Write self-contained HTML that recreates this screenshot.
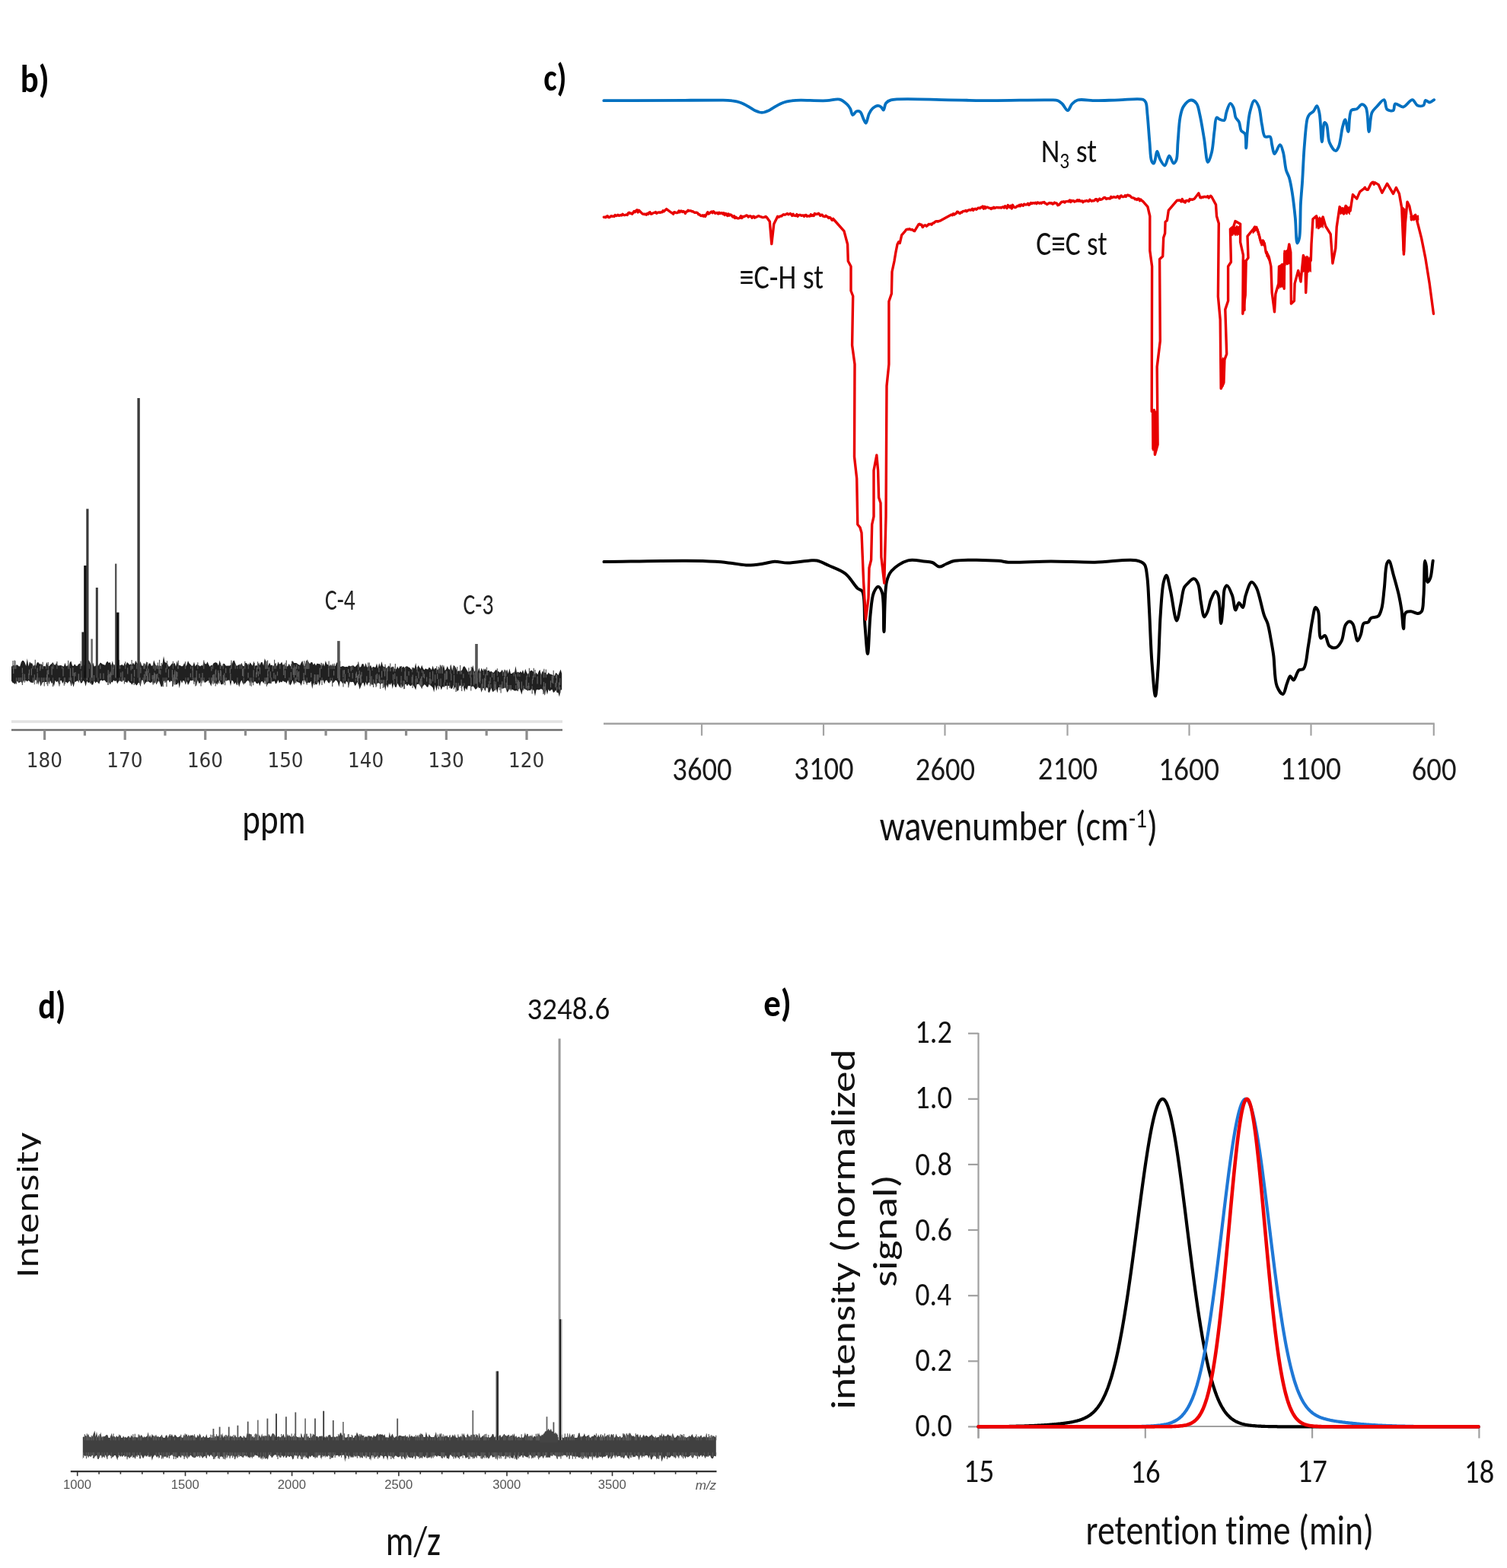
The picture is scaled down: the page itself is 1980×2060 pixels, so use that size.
<!DOCTYPE html>
<html><head><meta charset="utf-8"><title>Figure</title>
<style>html,body{margin:0;padding:0;background:#fff;}svg{display:block;}text{font-variant-ligatures:none;font-kerning:normal;}</style>
</head><body>
<svg width="1980" height="2060" viewBox="0 0 1980 2060">
<line x1="15" y1="948" x2="739" y2="948" stroke="#e2e2e2" stroke-width="3.5" stroke-linecap="butt"/>
<line x1="15" y1="959" x2="739" y2="959" stroke="#6e6e6e" stroke-width="2.6" stroke-linecap="butt"/>
<line x1="58.6" y1="959" x2="58.6" y2="972" stroke="#8c8c8c" stroke-width="3.2" stroke-linecap="butt"/>
<line x1="164.2" y1="959" x2="164.2" y2="972" stroke="#8c8c8c" stroke-width="3.2" stroke-linecap="butt"/>
<line x1="269.7" y1="959" x2="269.7" y2="972" stroke="#8c8c8c" stroke-width="3.2" stroke-linecap="butt"/>
<line x1="375.3" y1="959" x2="375.3" y2="972" stroke="#8c8c8c" stroke-width="3.2" stroke-linecap="butt"/>
<line x1="480.8" y1="959" x2="480.8" y2="972" stroke="#8c8c8c" stroke-width="3.2" stroke-linecap="butt"/>
<line x1="586.4" y1="959" x2="586.4" y2="972" stroke="#8c8c8c" stroke-width="3.2" stroke-linecap="butt"/>
<line x1="692" y1="959" x2="692" y2="972" stroke="#8c8c8c" stroke-width="3.2" stroke-linecap="butt"/>
<line x1="111.4" y1="959" x2="111.4" y2="966.5" stroke="#8c8c8c" stroke-width="3.2" stroke-linecap="butt"/>
<line x1="216.9" y1="959" x2="216.9" y2="966.5" stroke="#8c8c8c" stroke-width="3.2" stroke-linecap="butt"/>
<line x1="322.5" y1="959" x2="322.5" y2="966.5" stroke="#8c8c8c" stroke-width="3.2" stroke-linecap="butt"/>
<line x1="428.1" y1="959" x2="428.1" y2="966.5" stroke="#8c8c8c" stroke-width="3.2" stroke-linecap="butt"/>
<line x1="533.6" y1="959" x2="533.6" y2="966.5" stroke="#8c8c8c" stroke-width="3.2" stroke-linecap="butt"/>
<line x1="639.2" y1="959" x2="639.2" y2="966.5" stroke="#8c8c8c" stroke-width="3.2" stroke-linecap="butt"/>
<polygon points="15,875.7 16.6,874.5 18.2,873.8 19.8,875.4 21.4,873.6 23,873.6 24.6,875.3 26.2,875.6 27.8,870.1 29.4,867.7 31,868 32.6,870.4 34.2,875 35.8,865.1 37.4,875.5 39,869.3 40.6,871.6 42.2,871.2 43.8,875.6 45.4,873.2 47,875.2 48.6,870.6 50.2,870 51.8,872.1 53.4,873 55,872.5 56.6,875.4 58.2,874.9 59.8,875.4 61.4,869.7 63,874.8 64.6,875.2 66.2,873.3 67.8,871.9 69.4,870.1 71,873 72.6,873.8 74.2,870.4 75.8,874.3 77.4,874.6 79,873.9 80.6,874.2 82.2,874.9 83.8,875.7 85.4,870.8 87,875.6 88.6,874.3 90.2,875.7 91.8,870.3 93.4,868.6 95,874.4 96.6,875 98.2,872.2 99.8,874.8 101.4,875 103,872.7 104.6,871.4 106.2,875.6 107.8,874.6 109.4,871.6 111,875.3 112.6,875.2 114.2,870.9 115.8,866.8 117.4,868.4 119,872.1 120.6,875.2 122.2,870.5 123.8,875.4 125.4,875 127,871.1 128.6,875.5 130.2,873.1 131.8,870.4 133.4,871.6 135,872.8 136.6,873.3 138.2,874.1 139.8,869.9 141.4,868.8 143,871.3 144.6,869.8 146.2,874.8 147.8,868.3 149.4,875.6 151,872.5 152.6,873.4 154.2,871 155.8,870.1 157.4,874.5 159,873.8 160.6,873.1 162.2,875.1 163.8,870.8 165.4,874.1 167,869.9 168.6,871.6 170.2,873.4 171.8,872.2 173.4,873.8 175,870.5 176.6,873.6 178.2,867.8 179.8,870.9 181.4,872.3 183,875.6 184.6,868.8 186.2,874.6 187.8,874.7 189.4,872.1 191,875 192.6,868.8 194.2,875.4 195.8,871.5 197.4,871.5 199,874.9 200.6,874.2 202.2,867.2 203.8,872 205.4,875.6 207,873.8 208.6,875.4 210.2,874.5 211.8,875.6 213.4,872.8 215,862 216.6,870.1 218.2,870.8 219.8,871 221.4,875.5 223,875.5 224.6,873.4 226.2,871.3 227.8,872.8 229.4,870.4 231,875.7 232.6,868.5 234.2,873.8 235.8,874.1 237.4,874.6 239,875.4 240.6,874.6 242.2,870.7 243.8,875.7 245.4,873.4 247,868.1 248.6,871.6 250.2,872.9 251.8,874.8 253.4,874.8 255,869.4 256.6,875.5 258.2,873 259.8,873.6 261.4,874.2 263,875.4 264.6,874.1 266.2,874.8 267.8,869 269.4,872.1 271,872.5 272.6,869.3 274.2,873.2 275.8,875.7 277.4,873.8 279,874.6 280.6,871.3 282.2,870.5 283.8,870.3 285.4,871.2 287,874.6 288.6,867.5 290.2,873.2 291.8,875.5 293.4,871.7 295,872.1 296.6,874.5 298.2,874.8 299.8,874.4 301.4,874.8 303,873.6 304.6,873.2 306.2,868.6 307.8,867.5 309.4,872.1 311,875.1 312.6,874.1 314.2,873 315.8,874.8 317.4,870.8 319,875 320.6,875.2 322.2,871 323.8,871.1 325.4,873.5 327,874.1 328.6,870.2 330.2,872.4 331.8,874.8 333.4,868.4 335,875 336.6,874.1 338.2,874.8 339.8,871.8 341.4,873.8 343,870 344.6,870.1 346.2,874.5 347.8,865 349.4,869 351,875 352.6,874.1 354.2,870.4 355.8,874.3 357.4,873.6 359,875.5 360.6,872.2 362.2,871.4 363.8,875.5 365.4,869.3 367,873 368.6,872.1 370.2,869.4 371.8,874.1 373.4,872.5 375,875 376.6,875.5 378.2,875.3 379.8,871.7 381.4,875.5 383,873 384.6,868.1 386.2,871.1 387.8,871.1 389.4,871 391,872.3 392.6,873.3 394.2,873.9 395.8,870.6 397.4,867.9 399,874.7 400.6,875 402.2,867.7 403.8,869.2 405.4,870.1 407,872.3 408.6,869.9 410.2,869.9 411.8,873.5 413.4,871.3 415,874.5 416.6,871.6 418.2,872.3 419.8,872 421.4,874 423,875.3 424.6,871 426.2,875.5 427.8,867.9 429.4,872.5 431,873.2 432.6,875.6 434.2,873.3 435.8,874.9 437.4,872.9 439,875.1 440.6,875.1 442.2,870.5 443.8,870.6 445.4,875.1 447,876 448.6,875.8 450.2,874.9 451.8,875.4 453.4,876.3 455,875.7 456.6,876.2 458.2,874.5 459.8,875 461.4,875.8 463,874.3 464.6,874.4 466.2,876.3 467.8,875 469.4,873.1 471,870.8 472.6,876.8 474.2,875.9 475.8,872.1 477.4,872.3 479,876.5 480.6,871.1 482.2,876.8 483.8,875 485.4,876.3 487,873.8 488.6,877.8 490.2,875.7 491.8,876.5 493.4,876.7 495,871.4 496.6,878.2 498.2,871.3 499.8,876 501.4,869.1 503,874.9 504.6,876.2 506.2,875.6 507.8,878.3 509.4,876 511,874.2 512.6,877.8 514.2,876.8 515.8,875.4 517.4,878.6 519,878.5 520.6,879.2 522.2,875.4 523.8,878.7 525.4,875.2 527,875.8 528.6,876.9 530.2,875.4 531.8,877.7 533.4,875.6 535,875.3 536.6,876.4 538.2,877.1 539.8,879 541.4,879.9 543,876.4 544.6,878.5 546.2,871 547.8,880.2 549.4,874.1 551,876.5 552.6,878.8 554.2,873.8 555.8,878 557.4,880.3 559,878.3 560.6,878.9 562.2,879.5 563.8,876.4 565.4,878.1 567,880.3 568.6,874.6 570.2,879.8 571.8,877.4 573.4,878.5 575,880.6 576.6,876.5 578.2,878.9 579.8,873.7 581.4,879.4 583,873.4 584.6,881.1 586.2,879.2 587.8,875 589.4,879 591,879.7 592.6,872.6 594.2,881.3 595.8,874.1 597.4,874.9 599,877.5 600.6,882.3 602.2,881.2 603.8,881.5 605.4,881.5 607,880.6 608.6,875.9 610.2,875.2 611.8,877.5 613.4,880.3 615,882.9 616.6,882 618.2,881.5 619.8,878.8 621.4,873.9 623,882.5 624.6,880.6 626.2,882.8 627.8,882.6 629.4,877.2 631,883.5 632.6,877.6 634.2,881.1 635.8,881.2 637.4,878.2 639,881 640.6,881.4 642.2,880.4 643.8,882.8 645.4,881.7 647,883.2 648.6,883.7 650.2,881.4 651.8,879.6 653.4,882 655,881.9 656.6,883.4 658.2,882.3 659.8,879.8 661.4,883.4 663,879 664.6,884.1 666.2,879.5 667.8,884.9 669.4,878.2 671,885.1 672.6,885.1 674.2,883.3 675.8,885.5 677.4,874.9 679,883.8 680.6,882.5 682.2,883.9 683.8,881.9 685.4,884 687,880 688.6,885.5 690.2,878.8 691.8,882.9 693.4,886 695,883.8 696.6,881.6 698.2,880.5 699.8,881.7 701.4,882.7 703,886.1 704.6,883.6 706.2,886.5 707.8,881.9 709.4,879.7 711,887 712.6,881.6 714.2,883.8 715.8,883.6 717.4,884.1 719,886.7 720.6,883.6 722.2,885.6 723.8,885.7 725.4,886.5 727,887.2 728.6,887.7 730.2,883.8 731.8,885.1 733.4,887.2 735,883.3 736.6,879.6 738.2,885.1 738.2,906.3 736.6,906.6 735,915.4 733.4,910 731.8,910 730.2,906.5 728.6,909.1 727,910.1 725.4,905.8 723.8,906.5 722.2,908.2 720.6,905.5 719,912.5 717.4,906 715.8,913.7 714.2,909.4 712.6,906.1 711,905.1 709.4,905.8 707.8,906.6 706.2,905.8 704.6,906.5 703,914.8 701.4,906.8 699.8,906.2 698.2,905.1 696.6,907.5 695,906.5 693.4,907.7 691.8,906.2 690.2,905.8 688.6,904.5 687,905.4 685.4,912.5 683.8,907.6 682.2,903.6 680.6,908.3 679,906.9 677.4,907.5 675.8,907.4 674.2,906.2 672.6,905.8 671,906.1 669.4,904.2 667.8,908 666.2,909.7 664.6,903.7 663,903.4 661.4,904.4 659.8,904.4 658.2,902.7 656.6,902.9 655,902.9 653.4,910.6 651.8,904.1 650.2,906.1 648.6,908.6 647,908.7 645.4,903.6 643.8,908.2 642.2,910.6 640.6,904.1 639,903 637.4,908.3 635.8,904.2 634.2,903.8 632.6,909.7 631,903.6 629.4,904.2 627.8,901.8 626.2,905.1 624.6,905.8 623,903.3 621.4,901.3 619.8,902.5 618.2,901.3 616.6,901.2 615,901.1 613.4,906.8 611.8,903.6 610.2,908.9 608.6,900.6 607,903 605.4,900.7 603.8,900.8 602.2,906.6 600.6,908.6 599,902.2 597.4,903.8 595.8,900.1 594.2,904.6 592.6,905 591,901.2 589.4,901.1 587.8,901.2 586.2,901.1 584.6,901.4 583,902.2 581.4,902.3 579.8,906.5 578.2,901.4 576.6,901.3 575,900.7 573.4,907.7 571.8,899.5 570.2,909.6 568.6,903.3 567,901.8 565.4,900.3 563.8,898.8 562.2,903 560.6,902.3 559,899.9 557.4,899.3 555.8,901.6 554.2,904.4 552.6,901.7 551,898.7 549.4,898.7 547.8,899 546.2,906.4 544.6,903 543,900.5 541.4,899.3 539.8,901.6 538.2,900.5 536.6,898.5 535,901.4 533.4,898.5 531.8,899.4 530.2,899.4 528.6,903.7 527,898.6 525.4,903.5 523.8,900.4 522.2,897.8 520.6,903.1 519,902.5 517.4,897 515.8,905 514.2,896.9 512.6,899.9 511,897.9 509.4,903.7 507.8,898.7 506.2,908 504.6,896.4 503,897.9 501.4,897.6 499.8,899.8 498.2,897.6 496.6,897.3 495,898.4 493.4,900.1 491.8,897.1 490.2,900.2 488.6,898.7 487,898.8 485.4,896 483.8,897.3 482.2,900.7 480.6,895.8 479,902.6 477.4,896.8 475.8,897.8 474.2,901.4 472.6,905.7 471,898.9 469.4,895.9 467.8,899.7 466.2,901.1 464.6,896.5 463,895.7 461.4,896.2 459.8,895.5 458.2,901.4 456.6,896.2 455,894.9 453.4,899.3 451.8,896.5 450.2,898.2 448.6,895.8 447,894.6 445.4,902.6 443.8,896.4 442.2,894.1 440.6,893.7 439,896 437.4,897.6 435.8,894.3 434.2,893.9 432.6,897.8 431,896.5 429.4,893.6 427.8,893.9 426.2,898.7 424.6,893.6 423,893.7 421.4,893.4 419.8,901.3 418.2,895 416.6,899.1 415,899.6 413.4,897.8 411.8,897.8 410.2,905.1 408.6,894.8 407,897.3 405.4,896.4 403.8,897.6 402.2,897.7 400.6,893.5 399,893.4 397.4,894.6 395.8,901 394.2,897.4 392.6,896.5 391,896.3 389.4,894.9 387.8,896.4 386.2,899.7 384.6,893.5 383,897.8 381.4,900.5 379.8,897.1 378.2,893.5 376.6,897.9 375,895.8 373.4,895.8 371.8,894.3 370.2,896.6 368.6,895.5 367,897.4 365.4,893.3 363.8,897 362.2,898.7 360.6,894.6 359,895.6 357.4,895.2 355.8,897.7 354.2,897.8 352.6,897.4 351,900.3 349.4,896 347.8,894 346.2,898 344.6,894.9 343,895.8 341.4,901.3 339.8,896.7 338.2,898.4 336.6,897.6 335,894.9 333.4,896.6 331.8,897.5 330.2,894.1 328.6,899.4 327,894.7 325.4,893.9 323.8,895.3 322.2,897.8 320.6,898.1 319,898.1 317.4,893.5 315.8,896.6 314.2,902.8 312.6,896.2 311,900.5 309.4,896.3 307.8,899.2 306.2,894.9 304.6,893.5 303,901.2 301.4,893.7 299.8,893.5 298.2,894.5 296.6,894.2 295,895.4 293.4,897.3 291.8,899.5 290.2,899 288.6,894.1 287,895.6 285.4,899.7 283.8,897.1 282.2,897.9 280.6,894.6 279,894.2 277.4,901.8 275.8,897.5 274.2,894.1 272.6,894.6 271,895.7 269.4,897 267.8,894.3 266.2,893.8 264.6,894.3 263,897 261.4,898 259.8,893.6 258.2,900 256.6,895.7 255,895.6 253.4,893.5 251.8,894.4 250.2,893.8 248.6,897.2 247,899.9 245.4,894.9 243.8,899.7 242.2,894.7 240.6,894 239,897.8 237.4,893.6 235.8,904.3 234.2,896.5 232.6,899.4 231,898.9 229.4,893.9 227.8,897.9 226.2,895.4 224.6,894.2 223,896.7 221.4,893.5 219.8,894 218.2,897.3 216.6,893.5 215,895.5 213.4,901.6 211.8,902.5 210.2,898.1 208.6,893.6 207,896.4 205.4,899.4 203.8,893.7 202.2,899.1 200.6,894.7 199,896.6 197.4,897 195.8,896.1 194.2,895 192.6,895.4 191,897.4 189.4,899.7 187.8,893.5 186.2,893.5 184.6,902.2 183,896.8 181.4,897.6 179.8,900.4 178.2,899.5 176.6,897 175,896.9 173.4,899.7 171.8,897.2 170.2,896.6 168.6,893.9 167,897.3 165.4,895.7 163.8,896.2 162.2,893.4 160.6,894.6 159,895.4 157.4,893.4 155.8,895.4 154.2,898.4 152.6,893.9 151,895.2 149.4,893.6 147.8,896.4 146.2,896 144.6,899.4 143,894.7 141.4,896.1 139.8,896.7 138.2,894.6 136.6,893.3 135,894.7 133.4,893.4 131.8,893.9 130.2,898.7 128.6,896.6 127,895.6 125.4,897.4 123.8,894.5 122.2,899.4 120.6,899.8 119,896.6 117.4,896.5 115.8,896.9 114.2,894.8 112.6,901.7 111,895.8 109.4,894.1 107.8,896.9 106.2,897.7 104.6,893.6 103,895.5 101.4,894.2 99.8,895.4 98.2,895.9 96.6,902.7 95,897.1 93.4,901.8 91.8,894.8 90.2,895.8 88.6,897.7 87,896.1 85.4,896 83.8,895.2 82.2,898 80.6,893.8 79,894.6 77.4,899.7 75.8,894.8 74.2,896.2 72.6,893.7 71,901.7 69.4,896.6 67.8,898.1 66.2,894.1 64.6,898.3 63,895.2 61.4,896.1 59.8,896.1 58.2,896.2 56.6,895.7 55,898.3 53.4,901.7 51.8,893.8 50.2,899.8 48.6,893.6 47,893.6 45.4,893.8 43.8,897 42.2,896.7 40.6,896.7 39,895.3 37.4,893.8 35.8,895.6 34.2,894.1 32.6,894.4 31,894.3 29.4,898.7 27.8,895.2 26.2,896.2 24.6,897.2 23,894.8 21.4,895.9 19.8,898.9 18.2,897.5 16.6,897 15,894.6" fill="#202020"/>
<line x1="20.9" y1="873.9" x2="20.9" y2="878.7" stroke="#555" stroke-width="1.2" stroke-linecap="butt"/>
<line x1="530.8" y1="894.4" x2="530.8" y2="905.2" stroke="#555" stroke-width="1.2" stroke-linecap="butt"/>
<line x1="664.2" y1="882.6" x2="664.2" y2="888.2" stroke="#555" stroke-width="1.2" stroke-linecap="butt"/>
<line x1="694.9" y1="901" x2="694.9" y2="904.9" stroke="#555" stroke-width="1.2" stroke-linecap="butt"/>
<line x1="48.2" y1="890.3" x2="48.2" y2="898.5" stroke="#555" stroke-width="1.2" stroke-linecap="butt"/>
<line x1="54.5" y1="890.3" x2="54.5" y2="897.8" stroke="#555" stroke-width="1.2" stroke-linecap="butt"/>
<line x1="330.2" y1="890.3" x2="330.2" y2="901.8" stroke="#555" stroke-width="1.2" stroke-linecap="butt"/>
<line x1="105.5" y1="872" x2="105.5" y2="878.7" stroke="#555" stroke-width="1.2" stroke-linecap="butt"/>
<line x1="618.8" y1="897.9" x2="618.8" y2="907.5" stroke="#555" stroke-width="1.2" stroke-linecap="butt"/>
<line x1="432.1" y1="868.4" x2="432.1" y2="878.8" stroke="#555" stroke-width="1.2" stroke-linecap="butt"/>
<line x1="25.2" y1="890.3" x2="25.2" y2="895" stroke="#555" stroke-width="1.2" stroke-linecap="butt"/>
<line x1="356.1" y1="890.3" x2="356.1" y2="898.2" stroke="#555" stroke-width="1.2" stroke-linecap="butt"/>
<line x1="56.2" y1="869.8" x2="56.2" y2="878.7" stroke="#555" stroke-width="1.2" stroke-linecap="butt"/>
<line x1="56.1" y1="875.5" x2="56.1" y2="878.7" stroke="#555" stroke-width="1.2" stroke-linecap="butt"/>
<line x1="406" y1="871.2" x2="406" y2="878.7" stroke="#555" stroke-width="1.2" stroke-linecap="butt"/>
<line x1="229.2" y1="890.3" x2="229.2" y2="894.9" stroke="#555" stroke-width="1.2" stroke-linecap="butt"/>
<line x1="671.4" y1="900.1" x2="671.4" y2="907.5" stroke="#555" stroke-width="1.2" stroke-linecap="butt"/>
<line x1="351.9" y1="890.3" x2="351.9" y2="895.9" stroke="#555" stroke-width="1.2" stroke-linecap="butt"/>
<line x1="596.4" y1="876" x2="596.4" y2="885.4" stroke="#555" stroke-width="1.2" stroke-linecap="butt"/>
<line x1="256.8" y1="890.3" x2="256.8" y2="901.6" stroke="#555" stroke-width="1.2" stroke-linecap="butt"/>
<line x1="54.3" y1="890.3" x2="54.3" y2="898.2" stroke="#555" stroke-width="1.2" stroke-linecap="butt"/>
<line x1="289.4" y1="875.1" x2="289.4" y2="878.7" stroke="#555" stroke-width="1.2" stroke-linecap="butt"/>
<line x1="202.1" y1="890.3" x2="202.1" y2="894.2" stroke="#555" stroke-width="1.2" stroke-linecap="butt"/>
<line x1="499.7" y1="893.1" x2="499.7" y2="904.9" stroke="#555" stroke-width="1.2" stroke-linecap="butt"/>
<line x1="658.8" y1="899.6" x2="658.8" y2="904.2" stroke="#555" stroke-width="1.2" stroke-linecap="butt"/>
<line x1="717.4" y1="879.5" x2="717.4" y2="890.3" stroke="#555" stroke-width="1.2" stroke-linecap="butt"/>
<line x1="650.6" y1="899.2" x2="650.6" y2="906.9" stroke="#555" stroke-width="1.2" stroke-linecap="butt"/>
<line x1="160.1" y1="890.3" x2="160.1" y2="895.9" stroke="#555" stroke-width="1.2" stroke-linecap="butt"/>
<line x1="106.1" y1="868.5" x2="106.1" y2="878.7" stroke="#555" stroke-width="1.2" stroke-linecap="butt"/>
<line x1="682.8" y1="885.8" x2="682.8" y2="888.9" stroke="#555" stroke-width="1.2" stroke-linecap="butt"/>
<line x1="205.9" y1="874" x2="205.9" y2="878.7" stroke="#555" stroke-width="1.2" stroke-linecap="butt"/>
<line x1="437.3" y1="872.1" x2="437.3" y2="879" stroke="#555" stroke-width="1.2" stroke-linecap="butt"/>
<line x1="163.9" y1="890.3" x2="163.9" y2="895.9" stroke="#555" stroke-width="1.2" stroke-linecap="butt"/>
<line x1="304" y1="867.6" x2="304" y2="878.7" stroke="#555" stroke-width="1.2" stroke-linecap="butt"/>
<line x1="193.4" y1="890.3" x2="193.4" y2="896.1" stroke="#555" stroke-width="1.2" stroke-linecap="butt"/>
<line x1="662.6" y1="880.6" x2="662.6" y2="888.1" stroke="#555" stroke-width="1.2" stroke-linecap="butt"/>
<line x1="650.1" y1="899.2" x2="650.1" y2="903.1" stroke="#555" stroke-width="1.2" stroke-linecap="butt"/>
<line x1="114.1" y1="890.3" x2="114.1" y2="893.6" stroke="#555" stroke-width="1.2" stroke-linecap="butt"/>
<line x1="232.8" y1="890.3" x2="232.8" y2="893.4" stroke="#555" stroke-width="1.2" stroke-linecap="butt"/>
<line x1="131.9" y1="874.9" x2="131.9" y2="878.7" stroke="#555" stroke-width="1.2" stroke-linecap="butt"/>
<line x1="356.7" y1="890.3" x2="356.7" y2="896.2" stroke="#555" stroke-width="1.2" stroke-linecap="butt"/>
<line x1="93.7" y1="890.3" x2="93.7" y2="900.5" stroke="#555" stroke-width="1.2" stroke-linecap="butt"/>
<line x1="422" y1="870.8" x2="422" y2="878.7" stroke="#555" stroke-width="1.2" stroke-linecap="butt"/>
<line x1="470.8" y1="869.6" x2="470.8" y2="880.3" stroke="#555" stroke-width="1.2" stroke-linecap="butt"/>
<line x1="297.4" y1="890.3" x2="297.4" y2="894.3" stroke="#555" stroke-width="1.2" stroke-linecap="butt"/>
<line x1="423" y1="890.3" x2="423" y2="899.9" stroke="#555" stroke-width="1.2" stroke-linecap="butt"/>
<line x1="201.1" y1="890.3" x2="201.1" y2="899.8" stroke="#555" stroke-width="1.2" stroke-linecap="butt"/>
<line x1="321.8" y1="868.7" x2="321.8" y2="878.7" stroke="#555" stroke-width="1.2" stroke-linecap="butt"/>
<line x1="142.2" y1="890.3" x2="142.2" y2="899.8" stroke="#555" stroke-width="1.2" stroke-linecap="butt"/>
<line x1="388.8" y1="890.3" x2="388.8" y2="897.5" stroke="#555" stroke-width="1.2" stroke-linecap="butt"/>
<line x1="351.6" y1="867.4" x2="351.6" y2="878.7" stroke="#555" stroke-width="1.2" stroke-linecap="butt"/>
<line x1="244" y1="890.3" x2="244" y2="897" stroke="#555" stroke-width="1.2" stroke-linecap="butt"/>
<line x1="692.2" y1="900.9" x2="692.2" y2="904.2" stroke="#555" stroke-width="1.2" stroke-linecap="butt"/>
<line x1="735" y1="902.6" x2="735" y2="906.3" stroke="#555" stroke-width="1.2" stroke-linecap="butt"/>
<line x1="374.9" y1="870.8" x2="374.9" y2="878.7" stroke="#555" stroke-width="1.2" stroke-linecap="butt"/>
<line x1="149.3" y1="873" x2="149.3" y2="878.7" stroke="#555" stroke-width="1.2" stroke-linecap="butt"/>
<line x1="451" y1="891.1" x2="451" y2="902.6" stroke="#555" stroke-width="1.2" stroke-linecap="butt"/>
<line x1="253.1" y1="890.3" x2="253.1" y2="893.4" stroke="#555" stroke-width="1.2" stroke-linecap="butt"/>
<line x1="284.4" y1="890.3" x2="284.4" y2="894.4" stroke="#555" stroke-width="1.2" stroke-linecap="butt"/>
<line x1="644.8" y1="899" x2="644.8" y2="904.6" stroke="#555" stroke-width="1.2" stroke-linecap="butt"/>
<line x1="578.4" y1="873.6" x2="578.4" y2="884.7" stroke="#555" stroke-width="1.2" stroke-linecap="butt"/>
<line x1="74.9" y1="868.9" x2="74.9" y2="878.7" stroke="#555" stroke-width="1.2" stroke-linecap="butt"/>
<line x1="340.2" y1="871.1" x2="340.2" y2="878.7" stroke="#555" stroke-width="1.2" stroke-linecap="butt"/>
<line x1="230" y1="890.3" x2="230" y2="900" stroke="#555" stroke-width="1.2" stroke-linecap="butt"/>
<line x1="635.4" y1="878.7" x2="635.4" y2="887" stroke="#555" stroke-width="1.2" stroke-linecap="butt"/>
<line x1="727.2" y1="880.8" x2="727.2" y2="890.7" stroke="#555" stroke-width="1.2" stroke-linecap="butt"/>
<line x1="85.4" y1="890.3" x2="85.4" y2="898.5" stroke="#555" stroke-width="1.2" stroke-linecap="butt"/>
<line x1="658.1" y1="899.5" x2="658.1" y2="910.4" stroke="#555" stroke-width="1.2" stroke-linecap="butt"/>
<line x1="56.5" y1="890.3" x2="56.5" y2="895.1" stroke="#555" stroke-width="1.2" stroke-linecap="butt"/>
<line x1="207.4" y1="870.4" x2="207.4" y2="878.7" stroke="#555" stroke-width="1.2" stroke-linecap="butt"/>
<line x1="469.6" y1="891.9" x2="469.6" y2="895" stroke="#555" stroke-width="1.2" stroke-linecap="butt"/>
<line x1="155" y1="868.3" x2="155" y2="878.7" stroke="#555" stroke-width="1.2" stroke-linecap="butt"/>
<line x1="413.1" y1="890.3" x2="413.1" y2="900.1" stroke="#555" stroke-width="1.2" stroke-linecap="butt"/>
<line x1="489.3" y1="877.3" x2="489.3" y2="881.1" stroke="#555" stroke-width="1.2" stroke-linecap="butt"/>
<line x1="349.7" y1="890.3" x2="349.7" y2="898.7" stroke="#555" stroke-width="1.2" stroke-linecap="butt"/>
<line x1="53.6" y1="872.2" x2="53.6" y2="878.7" stroke="#555" stroke-width="1.2" stroke-linecap="butt"/>
<line x1="436.7" y1="890.6" x2="436.7" y2="902.1" stroke="#555" stroke-width="1.2" stroke-linecap="butt"/>
<line x1="259.8" y1="870.2" x2="259.8" y2="878.7" stroke="#555" stroke-width="1.2" stroke-linecap="butt"/>
<line x1="656.7" y1="899.5" x2="656.7" y2="906.7" stroke="#555" stroke-width="1.2" stroke-linecap="butt"/>
<line x1="604.7" y1="874.1" x2="604.7" y2="885.8" stroke="#555" stroke-width="1.2" stroke-linecap="butt"/>
<line x1="219.5" y1="868.2" x2="219.5" y2="878.7" stroke="#555" stroke-width="1.2" stroke-linecap="butt"/>
<line x1="230.2" y1="890.3" x2="230.2" y2="898.8" stroke="#555" stroke-width="1.2" stroke-linecap="butt"/>
<line x1="383.5" y1="868.6" x2="383.5" y2="878.7" stroke="#555" stroke-width="1.2" stroke-linecap="butt"/>
<line x1="62.7" y1="890.3" x2="62.7" y2="901.2" stroke="#555" stroke-width="1.2" stroke-linecap="butt"/>
<line x1="234.3" y1="867.7" x2="234.3" y2="878.7" stroke="#555" stroke-width="1.2" stroke-linecap="butt"/>
<line x1="362.4" y1="871.2" x2="362.4" y2="878.7" stroke="#555" stroke-width="1.2" stroke-linecap="butt"/>
<line x1="193.7" y1="869.9" x2="193.7" y2="878.7" stroke="#555" stroke-width="1.2" stroke-linecap="butt"/>
<line x1="677.7" y1="900.3" x2="677.7" y2="904.8" stroke="#555" stroke-width="1.2" stroke-linecap="butt"/>
<line x1="360.6" y1="866.8" x2="360.6" y2="878.7" stroke="#555" stroke-width="1.2" stroke-linecap="butt"/>
<line x1="77.9" y1="890.3" x2="77.9" y2="901.5" stroke="#555" stroke-width="1.2" stroke-linecap="butt"/>
<line x1="303.8" y1="870.7" x2="303.8" y2="878.7" stroke="#555" stroke-width="1.2" stroke-linecap="butt"/>
<line x1="246.7" y1="890.3" x2="246.7" y2="894.1" stroke="#555" stroke-width="1.2" stroke-linecap="butt"/>
<line x1="164.7" y1="869.3" x2="164.7" y2="878.7" stroke="#555" stroke-width="1.2" stroke-linecap="butt"/>
<line x1="227.2" y1="890.3" x2="227.2" y2="901.3" stroke="#555" stroke-width="1.2" stroke-linecap="butt"/>
<line x1="692.9" y1="886.3" x2="692.9" y2="889.3" stroke="#555" stroke-width="1.2" stroke-linecap="butt"/>
<line x1="295.6" y1="890.3" x2="295.6" y2="900.2" stroke="#555" stroke-width="1.2" stroke-linecap="butt"/>
<line x1="58.2" y1="890.3" x2="58.2" y2="901.6" stroke="#555" stroke-width="1.2" stroke-linecap="butt"/>
<line x1="715.6" y1="901.9" x2="715.6" y2="912.6" stroke="#555" stroke-width="1.2" stroke-linecap="butt"/>
<line x1="624.4" y1="882.7" x2="624.4" y2="886.6" stroke="#555" stroke-width="1.2" stroke-linecap="butt"/>
<line x1="541.7" y1="876.8" x2="541.7" y2="883.2" stroke="#555" stroke-width="1.2" stroke-linecap="butt"/>
<line x1="735.9" y1="902.7" x2="735.9" y2="910.4" stroke="#555" stroke-width="1.2" stroke-linecap="butt"/>
<line x1="701.3" y1="877.7" x2="701.3" y2="889.7" stroke="#555" stroke-width="1.2" stroke-linecap="butt"/>
<line x1="675.3" y1="882.7" x2="675.3" y2="888.6" stroke="#555" stroke-width="1.2" stroke-linecap="butt"/>
<line x1="106.6" y1="890.3" x2="106.6" y2="895" stroke="#555" stroke-width="1.2" stroke-linecap="butt"/>
<line x1="21.5" y1="890.3" x2="21.5" y2="898.7" stroke="#555" stroke-width="1.2" stroke-linecap="butt"/>
<line x1="501.4" y1="893.2" x2="501.4" y2="896.6" stroke="#555" stroke-width="1.2" stroke-linecap="butt"/>
<line x1="81.5" y1="875.2" x2="81.5" y2="878.7" stroke="#555" stroke-width="1.2" stroke-linecap="butt"/>
<line x1="380.1" y1="890.3" x2="380.1" y2="899.2" stroke="#555" stroke-width="1.2" stroke-linecap="butt"/>
<line x1="461.5" y1="874.8" x2="461.5" y2="880" stroke="#555" stroke-width="1.2" stroke-linecap="butt"/>
<line x1="664.8" y1="880.4" x2="664.8" y2="888.2" stroke="#555" stroke-width="1.2" stroke-linecap="butt"/>
<line x1="51.2" y1="890.3" x2="51.2" y2="894.8" stroke="#555" stroke-width="1.2" stroke-linecap="butt"/>
<line x1="311.9" y1="890.3" x2="311.9" y2="899.8" stroke="#555" stroke-width="1.2" stroke-linecap="butt"/>
<line x1="693.7" y1="901" x2="693.7" y2="907.1" stroke="#555" stroke-width="1.2" stroke-linecap="butt"/>
<line x1="69.5" y1="890.3" x2="69.5" y2="902.1" stroke="#555" stroke-width="1.2" stroke-linecap="butt"/>
<line x1="27.3" y1="890.3" x2="27.3" y2="894.9" stroke="#555" stroke-width="1.2" stroke-linecap="butt"/>
<line x1="348" y1="890.3" x2="348" y2="898.8" stroke="#555" stroke-width="1.2" stroke-linecap="butt"/>
<line x1="731.4" y1="902.5" x2="731.4" y2="909" stroke="#555" stroke-width="1.2" stroke-linecap="butt"/>
<line x1="532.7" y1="876.1" x2="532.7" y2="882.9" stroke="#555" stroke-width="1.2" stroke-linecap="butt"/>
<line x1="279.7" y1="873.2" x2="279.7" y2="878.7" stroke="#555" stroke-width="1.2" stroke-linecap="butt"/>
<line x1="190.3" y1="871.7" x2="190.3" y2="878.7" stroke="#555" stroke-width="1.2" stroke-linecap="butt"/>
<line x1="227.3" y1="890.3" x2="227.3" y2="900.9" stroke="#555" stroke-width="1.2" stroke-linecap="butt"/>
<line x1="264" y1="890.3" x2="264" y2="901.4" stroke="#555" stroke-width="1.2" stroke-linecap="butt"/>
<line x1="275" y1="890.3" x2="275" y2="897.3" stroke="#555" stroke-width="1.2" stroke-linecap="butt"/>
<line x1="485.8" y1="892.6" x2="485.8" y2="896.8" stroke="#555" stroke-width="1.2" stroke-linecap="butt"/>
<line x1="713.9" y1="901.8" x2="713.9" y2="911.9" stroke="#555" stroke-width="1.2" stroke-linecap="butt"/>
<line x1="474.8" y1="892.1" x2="474.8" y2="898" stroke="#555" stroke-width="1.2" stroke-linecap="butt"/>
<line x1="527.6" y1="875.1" x2="527.6" y2="882.6" stroke="#555" stroke-width="1.2" stroke-linecap="butt"/>
<line x1="508.4" y1="878.3" x2="508.4" y2="881.9" stroke="#555" stroke-width="1.2" stroke-linecap="butt"/>
<line x1="587.6" y1="896.7" x2="587.6" y2="905.7" stroke="#555" stroke-width="1.2" stroke-linecap="butt"/>
<line x1="247.7" y1="890.3" x2="247.7" y2="894.1" stroke="#555" stroke-width="1.2" stroke-linecap="butt"/>
<line x1="494.7" y1="892.9" x2="494.7" y2="901.5" stroke="#555" stroke-width="1.2" stroke-linecap="butt"/>
<line x1="338.6" y1="869.2" x2="338.6" y2="878.7" stroke="#555" stroke-width="1.2" stroke-linecap="butt"/>
<line x1="351" y1="890.3" x2="351" y2="896.6" stroke="#555" stroke-width="1.2" stroke-linecap="butt"/>
<line x1="78.6" y1="890.3" x2="78.6" y2="898.9" stroke="#555" stroke-width="1.2" stroke-linecap="butt"/>
<line x1="682.4" y1="900.5" x2="682.4" y2="904" stroke="#555" stroke-width="1.2" stroke-linecap="butt"/>
<line x1="573.8" y1="875.2" x2="573.8" y2="884.5" stroke="#555" stroke-width="1.2" stroke-linecap="butt"/>
<line x1="289.7" y1="871.3" x2="289.7" y2="878.7" stroke="#555" stroke-width="1.2" stroke-linecap="butt"/>
<line x1="399.1" y1="890.3" x2="399.1" y2="899" stroke="#555" stroke-width="1.2" stroke-linecap="butt"/>
<line x1="506.1" y1="872.7" x2="506.1" y2="881.8" stroke="#555" stroke-width="1.2" stroke-linecap="butt"/>
<line x1="265.1" y1="890.3" x2="265.1" y2="897.4" stroke="#555" stroke-width="1.2" stroke-linecap="butt"/>
<line x1="422.5" y1="871.2" x2="422.5" y2="878.7" stroke="#555" stroke-width="1.2" stroke-linecap="butt"/>
<line x1="174.3" y1="875" x2="174.3" y2="878.7" stroke="#555" stroke-width="1.2" stroke-linecap="butt"/>
<line x1="490.6" y1="892.8" x2="490.6" y2="898.9" stroke="#555" stroke-width="1.2" stroke-linecap="butt"/>
<line x1="91.1" y1="890.3" x2="91.1" y2="894.4" stroke="#555" stroke-width="1.2" stroke-linecap="butt"/>
<line x1="660.5" y1="881.8" x2="660.5" y2="888" stroke="#555" stroke-width="1.2" stroke-linecap="butt"/>
<line x1="373.1" y1="872.8" x2="373.1" y2="878.7" stroke="#555" stroke-width="1.2" stroke-linecap="butt"/>
<line x1="214.3" y1="890.3" x2="214.3" y2="902.2" stroke="#555" stroke-width="1.2" stroke-linecap="butt"/>
<line x1="277.7" y1="890.3" x2="277.7" y2="894.6" stroke="#555" stroke-width="1.2" stroke-linecap="butt"/>
<line x1="434.9" y1="873.3" x2="434.9" y2="878.9" stroke="#555" stroke-width="1.2" stroke-linecap="butt"/>
<line x1="609.9" y1="897.6" x2="609.9" y2="901.8" stroke="#555" stroke-width="1.2" stroke-linecap="butt"/>
<line x1="226.7" y1="890.3" x2="226.7" y2="902.2" stroke="#555" stroke-width="1.2" stroke-linecap="butt"/>
<line x1="457.8" y1="891.4" x2="457.8" y2="903.3" stroke="#555" stroke-width="1.2" stroke-linecap="butt"/>
<line x1="551.2" y1="895.2" x2="551.2" y2="900.2" stroke="#555" stroke-width="1.2" stroke-linecap="butt"/>
<line x1="283.2" y1="890.3" x2="283.2" y2="901.6" stroke="#555" stroke-width="1.2" stroke-linecap="butt"/>
<line x1="233.5" y1="875.5" x2="233.5" y2="878.7" stroke="#555" stroke-width="1.2" stroke-linecap="butt"/>
<line x1="519.4" y1="872.1" x2="519.4" y2="882.3" stroke="#555" stroke-width="1.2" stroke-linecap="butt"/>
<line x1="184.2" y1="890.3" x2="184.2" y2="899.4" stroke="#555" stroke-width="1.2" stroke-linecap="butt"/>
<line x1="351.2" y1="872.1" x2="351.2" y2="878.7" stroke="#555" stroke-width="1.2" stroke-linecap="butt"/>
<line x1="554.4" y1="879.9" x2="554.4" y2="883.7" stroke="#555" stroke-width="1.2" stroke-linecap="butt"/>
<line x1="350.1" y1="868.5" x2="350.1" y2="878.7" stroke="#555" stroke-width="1.2" stroke-linecap="butt"/>
<line x1="606.7" y1="897.4" x2="606.7" y2="908" stroke="#555" stroke-width="1.2" stroke-linecap="butt"/>
<line x1="483.7" y1="870.5" x2="483.7" y2="880.9" stroke="#555" stroke-width="1.2" stroke-linecap="butt"/>
<line x1="542.1" y1="894.8" x2="542.1" y2="904.1" stroke="#555" stroke-width="1.2" stroke-linecap="butt"/>
<line x1="615.9" y1="877.2" x2="615.9" y2="886.2" stroke="#555" stroke-width="1.2" stroke-linecap="butt"/>
<line x1="389.5" y1="872.8" x2="389.5" y2="878.7" stroke="#555" stroke-width="1.2" stroke-linecap="butt"/>
<line x1="127.6" y1="872.4" x2="127.6" y2="878.7" stroke="#555" stroke-width="1.2" stroke-linecap="butt"/>
<line x1="320.2" y1="890.3" x2="320.2" y2="899.4" stroke="#555" stroke-width="1.2" stroke-linecap="butt"/>
<line x1="507.5" y1="893.4" x2="507.5" y2="898.4" stroke="#555" stroke-width="1.2" stroke-linecap="butt"/>
<line x1="382.7" y1="872.2" x2="382.7" y2="878.7" stroke="#555" stroke-width="1.2" stroke-linecap="butt"/>
<line x1="703.1" y1="879.9" x2="703.1" y2="889.7" stroke="#555" stroke-width="1.2" stroke-linecap="butt"/>
<line x1="641.6" y1="898.9" x2="641.6" y2="909" stroke="#555" stroke-width="1.2" stroke-linecap="butt"/>
<line x1="334.3" y1="871.1" x2="334.3" y2="878.7" stroke="#555" stroke-width="1.2" stroke-linecap="butt"/>
<line x1="156" y1="873" x2="156" y2="878.7" stroke="#555" stroke-width="1.2" stroke-linecap="butt"/>
<line x1="730.6" y1="885.8" x2="730.6" y2="890.9" stroke="#555" stroke-width="1.2" stroke-linecap="butt"/>
<line x1="695.4" y1="877.7" x2="695.4" y2="889.4" stroke="#555" stroke-width="1.2" stroke-linecap="butt"/>
<line x1="632.8" y1="898.5" x2="632.8" y2="905.4" stroke="#555" stroke-width="1.2" stroke-linecap="butt"/>
<line x1="157.8" y1="874.8" x2="157.8" y2="878.7" stroke="#555" stroke-width="1.2" stroke-linecap="butt"/>
<line x1="267.8" y1="867.4" x2="267.8" y2="878.7" stroke="#555" stroke-width="1.2" stroke-linecap="butt"/>
<line x1="403.2" y1="890.3" x2="403.2" y2="899.8" stroke="#555" stroke-width="1.2" stroke-linecap="butt"/>
<line x1="120.9" y1="890.3" x2="120.9" y2="894.7" stroke="#555" stroke-width="1.2" stroke-linecap="butt"/>
<line x1="43.4" y1="890.3" x2="43.4" y2="896.3" stroke="#555" stroke-width="1.2" stroke-linecap="butt"/>
<line x1="152.3" y1="869.8" x2="152.3" y2="878.7" stroke="#555" stroke-width="1.2" stroke-linecap="butt"/>
<line x1="348.9" y1="869.3" x2="348.9" y2="878.7" stroke="#555" stroke-width="1.2" stroke-linecap="butt"/>
<line x1="200.8" y1="890.3" x2="200.8" y2="897.7" stroke="#555" stroke-width="1.2" stroke-linecap="butt"/>
<line x1="402.8" y1="869.6" x2="402.8" y2="878.7" stroke="#555" stroke-width="1.2" stroke-linecap="butt"/>
<line x1="731.8" y1="902.5" x2="731.8" y2="906.1" stroke="#555" stroke-width="1.2" stroke-linecap="butt"/>
<line x1="373.2" y1="874.8" x2="373.2" y2="878.7" stroke="#555" stroke-width="1.2" stroke-linecap="butt"/>
<line x1="156.3" y1="867.1" x2="156.3" y2="878.7" stroke="#555" stroke-width="1.2" stroke-linecap="butt"/>
<line x1="554.3" y1="895.3" x2="554.3" y2="904.6" stroke="#555" stroke-width="1.2" stroke-linecap="butt"/>
<line x1="243.5" y1="871.7" x2="243.5" y2="878.7" stroke="#555" stroke-width="1.2" stroke-linecap="butt"/>
<line x1="227.4" y1="868.8" x2="227.4" y2="878.7" stroke="#555" stroke-width="1.2" stroke-linecap="butt"/>
<line x1="69.8" y1="871.4" x2="69.8" y2="878.7" stroke="#555" stroke-width="1.2" stroke-linecap="butt"/>
<line x1="504.6" y1="893.3" x2="504.6" y2="902.8" stroke="#555" stroke-width="1.2" stroke-linecap="butt"/>
<line x1="91.2" y1="872.9" x2="91.2" y2="878.7" stroke="#555" stroke-width="1.2" stroke-linecap="butt"/>
<line x1="218.9" y1="890.3" x2="218.9" y2="902.2" stroke="#555" stroke-width="1.2" stroke-linecap="butt"/>
<line x1="509.6" y1="876.2" x2="509.6" y2="881.9" stroke="#555" stroke-width="1.2" stroke-linecap="butt"/>
<line x1="596.4" y1="897" x2="596.4" y2="905.4" stroke="#555" stroke-width="1.2" stroke-linecap="butt"/>
<line x1="267.5" y1="870" x2="267.5" y2="878.7" stroke="#555" stroke-width="1.2" stroke-linecap="butt"/>
<line x1="640.7" y1="882.5" x2="640.7" y2="887.2" stroke="#555" stroke-width="1.2" stroke-linecap="butt"/>
<line x1="17" y1="868" x2="17" y2="878.7" stroke="#555" stroke-width="1.2" stroke-linecap="butt"/>
<line x1="467.2" y1="891.8" x2="467.2" y2="895.4" stroke="#555" stroke-width="1.2" stroke-linecap="butt"/>
<line x1="280" y1="890.3" x2="280" y2="899.3" stroke="#555" stroke-width="1.2" stroke-linecap="butt"/>
<line x1="63.3" y1="870" x2="63.3" y2="878.7" stroke="#555" stroke-width="1.2" stroke-linecap="butt"/>
<line x1="512.9" y1="877.4" x2="512.9" y2="882.1" stroke="#555" stroke-width="1.2" stroke-linecap="butt"/>
<line x1="714.3" y1="880.7" x2="714.3" y2="890.2" stroke="#555" stroke-width="1.2" stroke-linecap="butt"/>
<line x1="402.2" y1="873.6" x2="402.2" y2="878.7" stroke="#555" stroke-width="1.2" stroke-linecap="butt"/>
<line x1="60.6" y1="873.9" x2="60.6" y2="878.7" stroke="#555" stroke-width="1.2" stroke-linecap="butt"/>
<line x1="315.4" y1="872.4" x2="315.4" y2="878.7" stroke="#555" stroke-width="1.2" stroke-linecap="butt"/>
<line x1="606.4" y1="881.9" x2="606.4" y2="885.8" stroke="#555" stroke-width="1.2" stroke-linecap="butt"/>
<line x1="599.8" y1="897.2" x2="599.8" y2="904.1" stroke="#555" stroke-width="1.2" stroke-linecap="butt"/>
<line x1="208.5" y1="890.3" x2="208.5" y2="895.3" stroke="#555" stroke-width="1.2" stroke-linecap="butt"/>
<line x1="636.5" y1="898.7" x2="636.5" y2="904.5" stroke="#555" stroke-width="1.2" stroke-linecap="butt"/>
<line x1="32.7" y1="890.3" x2="32.7" y2="896" stroke="#555" stroke-width="1.2" stroke-linecap="butt"/>
<line x1="490.6" y1="892.8" x2="490.6" y2="902.9" stroke="#555" stroke-width="1.2" stroke-linecap="butt"/>
<line x1="639.5" y1="876.6" x2="639.5" y2="887.2" stroke="#555" stroke-width="1.2" stroke-linecap="butt"/>
<line x1="348.9" y1="871.4" x2="348.9" y2="878.7" stroke="#555" stroke-width="1.2" stroke-linecap="butt"/>
<line x1="257.8" y1="890.3" x2="257.8" y2="900.8" stroke="#555" stroke-width="1.2" stroke-linecap="butt"/>
<line x1="117.2" y1="872.2" x2="117.2" y2="878.7" stroke="#555" stroke-width="1.2" stroke-linecap="butt"/>
<line x1="350.4" y1="890.3" x2="350.4" y2="901.8" stroke="#555" stroke-width="1.2" stroke-linecap="butt"/>
<line x1="715.1" y1="901.8" x2="715.1" y2="910.9" stroke="#555" stroke-width="1.2" stroke-linecap="butt"/>
<line x1="210.8" y1="875.7" x2="210.8" y2="878.7" stroke="#555" stroke-width="1.2" stroke-linecap="butt"/>
<line x1="618.1" y1="882.6" x2="618.1" y2="886.3" stroke="#555" stroke-width="1.2" stroke-linecap="butt"/>
<line x1="243.5" y1="869.2" x2="243.5" y2="878.7" stroke="#555" stroke-width="1.2" stroke-linecap="butt"/>
<line x1="19.1" y1="867.6" x2="19.1" y2="878.7" stroke="#555" stroke-width="1.2" stroke-linecap="butt"/>
<line x1="633.9" y1="898.5" x2="633.9" y2="906.6" stroke="#555" stroke-width="1.2" stroke-linecap="butt"/>
<line x1="176.2" y1="890.3" x2="176.2" y2="900.1" stroke="#555" stroke-width="1.2" stroke-linecap="butt"/>
<line x1="386.4" y1="873.8" x2="386.4" y2="878.7" stroke="#555" stroke-width="1.2" stroke-linecap="butt"/>
<line x1="289.6" y1="875.2" x2="289.6" y2="878.7" stroke="#555" stroke-width="1.2" stroke-linecap="butt"/>
<line x1="309.2" y1="873.1" x2="309.2" y2="878.7" stroke="#555" stroke-width="1.2" stroke-linecap="butt"/>
<line x1="293.2" y1="872.3" x2="293.2" y2="878.7" stroke="#555" stroke-width="1.2" stroke-linecap="butt"/>
<line x1="463.2" y1="875.3" x2="463.2" y2="880" stroke="#555" stroke-width="1.2" stroke-linecap="butt"/>
<line x1="590.8" y1="896.8" x2="590.8" y2="903.9" stroke="#555" stroke-width="1.2" stroke-linecap="butt"/>
<line x1="531.5" y1="894.4" x2="531.5" y2="905" stroke="#555" stroke-width="1.2" stroke-linecap="butt"/>
<line x1="602.3" y1="897.3" x2="602.3" y2="906.8" stroke="#555" stroke-width="1.2" stroke-linecap="butt"/>
<line x1="128.8" y1="890.3" x2="128.8" y2="895.6" stroke="#555" stroke-width="1.2" stroke-linecap="butt"/>
<line x1="201.7" y1="872.1" x2="201.7" y2="878.7" stroke="#555" stroke-width="1.2" stroke-linecap="butt"/>
<line x1="29.4" y1="890.3" x2="29.4" y2="900" stroke="#555" stroke-width="1.2" stroke-linecap="butt"/>
<line x1="576.5" y1="875.9" x2="576.5" y2="884.6" stroke="#555" stroke-width="1.2" stroke-linecap="butt"/>
<line x1="621.9" y1="881.7" x2="621.9" y2="886.5" stroke="#555" stroke-width="1.2" stroke-linecap="butt"/>
<line x1="208.9" y1="874.2" x2="208.9" y2="878.7" stroke="#555" stroke-width="1.2" stroke-linecap="butt"/>
<line x1="405.1" y1="869.8" x2="405.1" y2="878.7" stroke="#555" stroke-width="1.2" stroke-linecap="butt"/>
<line x1="399.7" y1="890.3" x2="399.7" y2="895.5" stroke="#555" stroke-width="1.2" stroke-linecap="butt"/>
<line x1="526.9" y1="894.2" x2="526.9" y2="903.7" stroke="#555" stroke-width="1.2" stroke-linecap="butt"/>
<line x1="64.6" y1="890.3" x2="64.6" y2="898.5" stroke="#555" stroke-width="1.2" stroke-linecap="butt"/>
<line x1="212.2" y1="871" x2="212.2" y2="878.7" stroke="#555" stroke-width="1.2" stroke-linecap="butt"/>
<line x1="389.9" y1="873.3" x2="389.9" y2="878.7" stroke="#555" stroke-width="1.2" stroke-linecap="butt"/>
<line x1="278.2" y1="890.3" x2="278.2" y2="897.2" stroke="#555" stroke-width="1.2" stroke-linecap="butt"/>
<line x1="43" y1="873.9" x2="43" y2="878.7" stroke="#555" stroke-width="1.2" stroke-linecap="butt"/>
<line x1="24" y1="890.3" x2="24" y2="895.9" stroke="#555" stroke-width="1.2" stroke-linecap="butt"/>
<line x1="404.1" y1="875.2" x2="404.1" y2="878.7" stroke="#555" stroke-width="1.2" stroke-linecap="butt"/>
<line x1="667.2" y1="899.9" x2="667.2" y2="904.6" stroke="#555" stroke-width="1.2" stroke-linecap="butt"/>
<line x1="317.6" y1="874.2" x2="317.6" y2="878.7" stroke="#555" stroke-width="1.2" stroke-linecap="butt"/>
<line x1="494" y1="892.9" x2="494" y2="902.7" stroke="#555" stroke-width="1.2" stroke-linecap="butt"/>
<line x1="503.9" y1="876.6" x2="503.9" y2="881.7" stroke="#555" stroke-width="1.2" stroke-linecap="butt"/>
<line x1="387.6" y1="890.3" x2="387.6" y2="896.8" stroke="#555" stroke-width="1.2" stroke-linecap="butt"/>
<line x1="340.3" y1="890.3" x2="340.3" y2="893.5" stroke="#555" stroke-width="1.2" stroke-linecap="butt"/>
<line x1="209.5" y1="866.8" x2="209.5" y2="878.7" stroke="#555" stroke-width="1.2" stroke-linecap="butt"/>
<line x1="179.7" y1="872" x2="179.7" y2="878.7" stroke="#555" stroke-width="1.2" stroke-linecap="butt"/>
<line x1="485.3" y1="870.4" x2="485.3" y2="880.9" stroke="#555" stroke-width="1.2" stroke-linecap="butt"/>
<line x1="157.2" y1="890.3" x2="157.2" y2="894.8" stroke="#555" stroke-width="1.2" stroke-linecap="butt"/>
<line x1="653.4" y1="878.2" x2="653.4" y2="887.7" stroke="#555" stroke-width="1.2" stroke-linecap="butt"/>
<line x1="622.2" y1="882.6" x2="622.2" y2="886.5" stroke="#555" stroke-width="1.2" stroke-linecap="butt"/>
<line x1="439.4" y1="871.8" x2="439.4" y2="879.1" stroke="#555" stroke-width="1.2" stroke-linecap="butt"/>
<line x1="580.7" y1="877.3" x2="580.7" y2="884.8" stroke="#555" stroke-width="1.2" stroke-linecap="butt"/>
<line x1="367.8" y1="872" x2="367.8" y2="878.7" stroke="#555" stroke-width="1.2" stroke-linecap="butt"/>
<line x1="131.5" y1="873.3" x2="131.5" y2="878.7" stroke="#555" stroke-width="1.2" stroke-linecap="butt"/>
<line x1="194.7" y1="890.3" x2="194.7" y2="894.3" stroke="#555" stroke-width="1.2" stroke-linecap="butt"/>
<line x1="163.7" y1="890.3" x2="163.7" y2="896.1" stroke="#555" stroke-width="1.2" stroke-linecap="butt"/>
<line x1="188.9" y1="871.2" x2="188.9" y2="878.7" stroke="#555" stroke-width="1.2" stroke-linecap="butt"/>
<line x1="503.2" y1="893.3" x2="503.2" y2="903.9" stroke="#555" stroke-width="1.2" stroke-linecap="butt"/>
<line x1="326.3" y1="872" x2="326.3" y2="878.7" stroke="#555" stroke-width="1.2" stroke-linecap="butt"/>
<line x1="188" y1="890.3" x2="188" y2="893.9" stroke="#555" stroke-width="1.2" stroke-linecap="butt"/>
<line x1="163.4" y1="890.3" x2="163.4" y2="898.6" stroke="#555" stroke-width="1.2" stroke-linecap="butt"/>
<line x1="216.7" y1="890.3" x2="216.7" y2="897" stroke="#555" stroke-width="1.2" stroke-linecap="butt"/>
<line x1="446.7" y1="868.4" x2="446.7" y2="879.4" stroke="#555" stroke-width="1.2" stroke-linecap="butt"/>
<line x1="89.6" y1="867.7" x2="89.6" y2="878.7" stroke="#555" stroke-width="1.2" stroke-linecap="butt"/>
<line x1="699.2" y1="901.2" x2="699.2" y2="911.6" stroke="#555" stroke-width="1.2" stroke-linecap="butt"/>
<line x1="183.9" y1="871.6" x2="183.9" y2="878.7" stroke="#555" stroke-width="1.2" stroke-linecap="butt"/>
<line x1="60.7" y1="890.3" x2="60.7" y2="893.4" stroke="#555" stroke-width="1.2" stroke-linecap="butt"/>
<line x1="250.6" y1="875.6" x2="250.6" y2="878.7" stroke="#555" stroke-width="1.2" stroke-linecap="butt"/>
<line x1="376.3" y1="867.6" x2="376.3" y2="878.7" stroke="#555" stroke-width="1.2" stroke-linecap="butt"/>
<line x1="512.8" y1="871.5" x2="512.8" y2="882.1" stroke="#555" stroke-width="1.2" stroke-linecap="butt"/>
<line x1="591.9" y1="874.6" x2="591.9" y2="885.3" stroke="#555" stroke-width="1.2" stroke-linecap="butt"/>
<line x1="687.9" y1="900.7" x2="687.9" y2="906.9" stroke="#555" stroke-width="1.2" stroke-linecap="butt"/>
<line x1="667" y1="899.9" x2="667" y2="906" stroke="#555" stroke-width="1.2" stroke-linecap="butt"/>
<line x1="77.5" y1="890.3" x2="77.5" y2="899.3" stroke="#555" stroke-width="1.2" stroke-linecap="butt"/>
<line x1="183" y1="890.3" x2="183" y2="896.1" stroke="#555" stroke-width="1.2" stroke-linecap="butt"/>
<line x1="680.5" y1="884.1" x2="680.5" y2="888.8" stroke="#555" stroke-width="1.2" stroke-linecap="butt"/>
<line x1="46.3" y1="866.8" x2="46.3" y2="878.7" stroke="#555" stroke-width="1.2" stroke-linecap="butt"/>
<line x1="173.1" y1="867" x2="173.1" y2="878.7" stroke="#555" stroke-width="1.2" stroke-linecap="butt"/>
<line x1="19.9" y1="868.3" x2="19.9" y2="878.7" stroke="#555" stroke-width="1.2" stroke-linecap="butt"/>
<line x1="84.3" y1="890.3" x2="84.3" y2="900.8" stroke="#555" stroke-width="1.2" stroke-linecap="butt"/>
<line x1="118.6" y1="890.3" x2="118.6" y2="898.3" stroke="#555" stroke-width="1.2" stroke-linecap="butt"/>
<line x1="517.2" y1="875.8" x2="517.2" y2="882.2" stroke="#555" stroke-width="1.2" stroke-linecap="butt"/>
<line x1="189.3" y1="874.1" x2="189.3" y2="878.7" stroke="#555" stroke-width="1.2" stroke-linecap="butt"/>
<line x1="669.8" y1="900" x2="669.8" y2="906.2" stroke="#555" stroke-width="1.2" stroke-linecap="butt"/>
<line x1="516.9" y1="876.7" x2="516.9" y2="882.2" stroke="#555" stroke-width="1.2" stroke-linecap="butt"/>
<line x1="268.1" y1="890.3" x2="268.1" y2="896.4" stroke="#555" stroke-width="1.2" stroke-linecap="butt"/>
<line x1="434" y1="890.5" x2="434" y2="896.1" stroke="#555" stroke-width="1.2" stroke-linecap="butt"/>
<line x1="600.7" y1="876" x2="600.7" y2="885.6" stroke="#555" stroke-width="1.2" stroke-linecap="butt"/>
<line x1="599" y1="897.1" x2="599" y2="908.9" stroke="#555" stroke-width="1.2" stroke-linecap="butt"/>
<line x1="529.7" y1="894.3" x2="529.7" y2="899.8" stroke="#555" stroke-width="1.2" stroke-linecap="butt"/>
<line x1="392.6" y1="874.9" x2="392.6" y2="878.7" stroke="#555" stroke-width="1.2" stroke-linecap="butt"/>
<line x1="332.8" y1="890.3" x2="332.8" y2="900.3" stroke="#555" stroke-width="1.2" stroke-linecap="butt"/>
<line x1="27.3" y1="890.3" x2="27.3" y2="895.5" stroke="#555" stroke-width="1.2" stroke-linecap="butt"/>
<line x1="226.6" y1="890.3" x2="226.6" y2="901.3" stroke="#555" stroke-width="1.2" stroke-linecap="butt"/>
<line x1="548.2" y1="876.3" x2="548.2" y2="883.5" stroke="#555" stroke-width="1.2" stroke-linecap="butt"/>
<line x1="619.3" y1="876.1" x2="619.3" y2="886.4" stroke="#555" stroke-width="1.2" stroke-linecap="butt"/>
<line x1="581.2" y1="873.7" x2="581.2" y2="884.8" stroke="#555" stroke-width="1.2" stroke-linecap="butt"/>
<line x1="293.4" y1="890.3" x2="293.4" y2="899.1" stroke="#555" stroke-width="1.2" stroke-linecap="butt"/>
<line x1="254.8" y1="890.3" x2="254.8" y2="898.8" stroke="#555" stroke-width="1.2" stroke-linecap="butt"/>
<line x1="403.7" y1="866.8" x2="403.7" y2="878.7" stroke="#555" stroke-width="1.2" stroke-linecap="butt"/>
<line x1="714.8" y1="878.7" x2="714.8" y2="890.2" stroke="#555" stroke-width="1.2" stroke-linecap="butt"/>
<line x1="399.8" y1="868.3" x2="399.8" y2="878.7" stroke="#555" stroke-width="1.2" stroke-linecap="butt"/>
<line x1="328.5" y1="890.3" x2="328.5" y2="900.7" stroke="#555" stroke-width="1.2" stroke-linecap="butt"/>
<line x1="404.5" y1="868.3" x2="404.5" y2="878.7" stroke="#555" stroke-width="1.2" stroke-linecap="butt"/>
<line x1="517.5" y1="893.8" x2="517.5" y2="899.3" stroke="#555" stroke-width="1.2" stroke-linecap="butt"/>
<line x1="583.5" y1="896.5" x2="583.5" y2="902.7" stroke="#555" stroke-width="1.2" stroke-linecap="butt"/>
<line x1="312" y1="875.6" x2="312" y2="878.7" stroke="#555" stroke-width="1.2" stroke-linecap="butt"/>
<line x1="182.6" y1="874.7" x2="182.6" y2="878.7" stroke="#555" stroke-width="1.2" stroke-linecap="butt"/>
<line x1="568.7" y1="885.7" x2="568.7" y2="895.2" stroke="#606060" stroke-width="1.2" stroke-linecap="butt"/>
<line x1="221.5" y1="879.2" x2="221.5" y2="890.2" stroke="#606060" stroke-width="1.2" stroke-linecap="butt"/>
<line x1="355.2" y1="882.3" x2="355.2" y2="890.6" stroke="#606060" stroke-width="1.2" stroke-linecap="butt"/>
<line x1="418.2" y1="886.2" x2="418.2" y2="893.3" stroke="#606060" stroke-width="1.2" stroke-linecap="butt"/>
<line x1="390.8" y1="883.4" x2="390.8" y2="889.1" stroke="#606060" stroke-width="1.2" stroke-linecap="butt"/>
<line x1="710.6" y1="892.3" x2="710.6" y2="899.3" stroke="#606060" stroke-width="1.2" stroke-linecap="butt"/>
<line x1="565" y1="890.6" x2="565" y2="900.6" stroke="#606060" stroke-width="1.2" stroke-linecap="butt"/>
<line x1="677.5" y1="885.7" x2="677.5" y2="894.9" stroke="#606060" stroke-width="1.2" stroke-linecap="butt"/>
<line x1="552.4" y1="891.4" x2="552.4" y2="901.5" stroke="#606060" stroke-width="1.2" stroke-linecap="butt"/>
<line x1="450.9" y1="880.4" x2="450.9" y2="890" stroke="#606060" stroke-width="1.2" stroke-linecap="butt"/>
<line x1="416.6" y1="886.3" x2="416.6" y2="897.9" stroke="#606060" stroke-width="1.2" stroke-linecap="butt"/>
<line x1="548.3" y1="891.3" x2="548.3" y2="896.8" stroke="#606060" stroke-width="1.2" stroke-linecap="butt"/>
<line x1="571.7" y1="886.3" x2="571.7" y2="897.3" stroke="#606060" stroke-width="1.2" stroke-linecap="butt"/>
<line x1="229.8" y1="880.6" x2="229.8" y2="892.2" stroke="#606060" stroke-width="1.2" stroke-linecap="butt"/>
<line x1="41.4" y1="878.3" x2="41.4" y2="887.2" stroke="#606060" stroke-width="1.2" stroke-linecap="butt"/>
<line x1="630.8" y1="886.1" x2="630.8" y2="897.7" stroke="#606060" stroke-width="1.2" stroke-linecap="butt"/>
<line x1="192.6" y1="878.4" x2="192.6" y2="887.9" stroke="#606060" stroke-width="1.2" stroke-linecap="butt"/>
<line x1="488.1" y1="888.3" x2="488.1" y2="900.3" stroke="#606060" stroke-width="1.2" stroke-linecap="butt"/>
<line x1="196.6" y1="884.2" x2="196.6" y2="894.3" stroke="#606060" stroke-width="1.2" stroke-linecap="butt"/>
<line x1="294.8" y1="884.6" x2="294.8" y2="896.8" stroke="#606060" stroke-width="1.2" stroke-linecap="butt"/>
<line x1="362" y1="886.4" x2="362" y2="892.4" stroke="#606060" stroke-width="1.2" stroke-linecap="butt"/>
<line x1="136" y1="884.4" x2="136" y2="891.9" stroke="#606060" stroke-width="1.2" stroke-linecap="butt"/>
<line x1="438.6" y1="881.3" x2="438.6" y2="887.5" stroke="#606060" stroke-width="1.2" stroke-linecap="butt"/>
<line x1="560.6" y1="889.4" x2="560.6" y2="895.6" stroke="#606060" stroke-width="1.2" stroke-linecap="butt"/>
<line x1="203.6" y1="884.9" x2="203.6" y2="897.2" stroke="#606060" stroke-width="1.2" stroke-linecap="butt"/>
<line x1="644.2" y1="889.7" x2="644.2" y2="897.6" stroke="#606060" stroke-width="1.2" stroke-linecap="butt"/>
<line x1="337.5" y1="876.8" x2="337.5" y2="885.8" stroke="#606060" stroke-width="1.2" stroke-linecap="butt"/>
<line x1="182.7" y1="876.6" x2="182.7" y2="884.7" stroke="#606060" stroke-width="1.2" stroke-linecap="butt"/>
<line x1="62.2" y1="880.6" x2="62.2" y2="891.2" stroke="#606060" stroke-width="1.2" stroke-linecap="butt"/>
<line x1="486.3" y1="889.5" x2="486.3" y2="901.5" stroke="#606060" stroke-width="1.2" stroke-linecap="butt"/>
<line x1="473.6" y1="887.9" x2="473.6" y2="896.5" stroke="#606060" stroke-width="1.2" stroke-linecap="butt"/>
<line x1="592.8" y1="884.8" x2="592.8" y2="894" stroke="#606060" stroke-width="1.2" stroke-linecap="butt"/>
<line x1="723.5" y1="894.2" x2="723.5" y2="903.2" stroke="#606060" stroke-width="1.2" stroke-linecap="butt"/>
<line x1="584.4" y1="884.8" x2="584.4" y2="896.5" stroke="#606060" stroke-width="1.2" stroke-linecap="butt"/>
<line x1="29.4" y1="877.6" x2="29.4" y2="884" stroke="#606060" stroke-width="1.2" stroke-linecap="butt"/>
<line x1="201.8" y1="886.8" x2="201.8" y2="892" stroke="#606060" stroke-width="1.2" stroke-linecap="butt"/>
<line x1="231.7" y1="882" x2="231.7" y2="892.6" stroke="#606060" stroke-width="1.2" stroke-linecap="butt"/>
<line x1="574.7" y1="885.3" x2="574.7" y2="892.1" stroke="#606060" stroke-width="1.2" stroke-linecap="butt"/>
<line x1="631.4" y1="884.2" x2="631.4" y2="889.8" stroke="#606060" stroke-width="1.2" stroke-linecap="butt"/>
<line x1="183.2" y1="880.9" x2="183.2" y2="893.4" stroke="#606060" stroke-width="1.2" stroke-linecap="butt"/>
<line x1="542.2" y1="886.4" x2="542.2" y2="895.5" stroke="#606060" stroke-width="1.2" stroke-linecap="butt"/>
<line x1="516.6" y1="886.1" x2="516.6" y2="893.8" stroke="#606060" stroke-width="1.2" stroke-linecap="butt"/>
<line x1="83" y1="877.1" x2="83" y2="888.4" stroke="#606060" stroke-width="1.2" stroke-linecap="butt"/>
<line x1="474.1" y1="886.6" x2="474.1" y2="892" stroke="#606060" stroke-width="1.2" stroke-linecap="butt"/>
<line x1="666.4" y1="889" x2="666.4" y2="901.4" stroke="#606060" stroke-width="1.2" stroke-linecap="butt"/>
<line x1="445.2" y1="882.2" x2="445.2" y2="893.8" stroke="#606060" stroke-width="1.2" stroke-linecap="butt"/>
<line x1="467.6" y1="884.8" x2="467.6" y2="891" stroke="#606060" stroke-width="1.2" stroke-linecap="butt"/>
<line x1="452.4" y1="880" x2="452.4" y2="885.6" stroke="#606060" stroke-width="1.2" stroke-linecap="butt"/>
<line x1="112.2" y1="880.7" x2="112.2" y2="887.8" stroke="#606060" stroke-width="1.2" stroke-linecap="butt"/>
<line x1="568.6" y1="881.7" x2="568.6" y2="886.8" stroke="#606060" stroke-width="1.2" stroke-linecap="butt"/>
<line x1="735.8" y1="890.9" x2="735.8" y2="900" stroke="#606060" stroke-width="1.2" stroke-linecap="butt"/>
<line x1="167.7" y1="877.2" x2="167.7" y2="885.4" stroke="#606060" stroke-width="1.2" stroke-linecap="butt"/>
<line x1="586.2" y1="881.3" x2="586.2" y2="893" stroke="#606060" stroke-width="1.2" stroke-linecap="butt"/>
<line x1="731" y1="893.9" x2="731" y2="901.8" stroke="#606060" stroke-width="1.2" stroke-linecap="butt"/>
<line x1="184.9" y1="876.9" x2="184.9" y2="884.5" stroke="#606060" stroke-width="1.2" stroke-linecap="butt"/>
<line x1="630.9" y1="882.7" x2="630.9" y2="894" stroke="#606060" stroke-width="1.2" stroke-linecap="butt"/>
<line x1="497.9" y1="877.5" x2="497.9" y2="883" stroke="#606060" stroke-width="1.2" stroke-linecap="butt"/>
<line x1="546.7" y1="888" x2="546.7" y2="895.5" stroke="#606060" stroke-width="1.2" stroke-linecap="butt"/>
<line x1="637.9" y1="885.6" x2="637.9" y2="894.1" stroke="#606060" stroke-width="1.2" stroke-linecap="butt"/>
<line x1="99" y1="882.9" x2="99" y2="888.6" stroke="#606060" stroke-width="1.2" stroke-linecap="butt"/>
<line x1="145.6" y1="884.5" x2="145.6" y2="893.5" stroke="#606060" stroke-width="1.2" stroke-linecap="butt"/>
<line x1="493.9" y1="886.6" x2="493.9" y2="896.5" stroke="#606060" stroke-width="1.2" stroke-linecap="butt"/>
<line x1="158.8" y1="883.6" x2="158.8" y2="889.5" stroke="#606060" stroke-width="1.2" stroke-linecap="butt"/>
<line x1="210.8" y1="880.3" x2="210.8" y2="886.2" stroke="#606060" stroke-width="1.2" stroke-linecap="butt"/>
<line x1="92.5" y1="883" x2="92.5" y2="893.9" stroke="#606060" stroke-width="1.2" stroke-linecap="butt"/>
<line x1="283.6" y1="879.6" x2="283.6" y2="886.2" stroke="#606060" stroke-width="1.2" stroke-linecap="butt"/>
<line x1="392.6" y1="882" x2="392.6" y2="894.5" stroke="#606060" stroke-width="1.2" stroke-linecap="butt"/>
<line x1="45.3" y1="886.3" x2="45.3" y2="899.2" stroke="#606060" stroke-width="1.2" stroke-linecap="butt"/>
<line x1="266" y1="883.9" x2="266" y2="895.5" stroke="#606060" stroke-width="1.2" stroke-linecap="butt"/>
<line x1="486.1" y1="880.5" x2="486.1" y2="890.5" stroke="#606060" stroke-width="1.2" stroke-linecap="butt"/>
<line x1="649.1" y1="884.8" x2="649.1" y2="893.6" stroke="#606060" stroke-width="1.2" stroke-linecap="butt"/>
<line x1="32.3" y1="885.5" x2="32.3" y2="896.7" stroke="#606060" stroke-width="1.2" stroke-linecap="butt"/>
<line x1="49.2" y1="884.2" x2="49.2" y2="894.7" stroke="#606060" stroke-width="1.2" stroke-linecap="butt"/>
<line x1="107.2" y1="881.3" x2="107.2" y2="891.8" stroke="#606060" stroke-width="1.2" stroke-linecap="butt"/>
<line x1="258.2" y1="881.1" x2="258.2" y2="893.9" stroke="#606060" stroke-width="1.2" stroke-linecap="butt"/>
<line x1="475" y1="882.8" x2="475" y2="888.4" stroke="#606060" stroke-width="1.2" stroke-linecap="butt"/>
<line x1="103.5" y1="885.6" x2="103.5" y2="896.5" stroke="#606060" stroke-width="1.2" stroke-linecap="butt"/>
<line x1="618.9" y1="889.7" x2="618.9" y2="899.3" stroke="#606060" stroke-width="1.2" stroke-linecap="butt"/>
<line x1="399.1" y1="884.1" x2="399.1" y2="891.7" stroke="#606060" stroke-width="1.2" stroke-linecap="butt"/>
<line x1="374.6" y1="880.6" x2="374.6" y2="890.9" stroke="#606060" stroke-width="1.2" stroke-linecap="butt"/>
<line x1="172.1" y1="874.8" x2="172.1" y2="880.5" stroke="#606060" stroke-width="1.2" stroke-linecap="butt"/>
<line x1="145.4" y1="885.6" x2="145.4" y2="896.4" stroke="#606060" stroke-width="1.2" stroke-linecap="butt"/>
<line x1="557.5" y1="885.4" x2="557.5" y2="891.3" stroke="#606060" stroke-width="1.2" stroke-linecap="butt"/>
<line x1="351.9" y1="885.7" x2="351.9" y2="894.8" stroke="#606060" stroke-width="1.2" stroke-linecap="butt"/>
<line x1="472.2" y1="881.1" x2="472.2" y2="887.3" stroke="#606060" stroke-width="1.2" stroke-linecap="butt"/>
<line x1="468.4" y1="882.4" x2="468.4" y2="890.1" stroke="#606060" stroke-width="1.2" stroke-linecap="butt"/>
<line x1="202.7" y1="883.5" x2="202.7" y2="891.1" stroke="#606060" stroke-width="1.2" stroke-linecap="butt"/>
<line x1="431.8" y1="878" x2="431.8" y2="889" stroke="#606060" stroke-width="1.2" stroke-linecap="butt"/>
<line x1="286.7" y1="880.7" x2="286.7" y2="893.1" stroke="#606060" stroke-width="1.2" stroke-linecap="butt"/>
<line x1="534.7" y1="888.3" x2="534.7" y2="896" stroke="#606060" stroke-width="1.2" stroke-linecap="butt"/>
<line x1="622.7" y1="887.3" x2="622.7" y2="900.2" stroke="#606060" stroke-width="1.2" stroke-linecap="butt"/>
<line x1="662.8" y1="892.5" x2="662.8" y2="904.1" stroke="#606060" stroke-width="1.2" stroke-linecap="butt"/>
<line x1="408.8" y1="884" x2="408.8" y2="890" stroke="#606060" stroke-width="1.2" stroke-linecap="butt"/>
<line x1="729.8" y1="897" x2="729.8" y2="903.2" stroke="#606060" stroke-width="1.2" stroke-linecap="butt"/>
<line x1="191.2" y1="882" x2="191.2" y2="893.1" stroke="#606060" stroke-width="1.2" stroke-linecap="butt"/>
<line x1="123.5" y1="887" x2="123.5" y2="894.8" stroke="#606060" stroke-width="1.2" stroke-linecap="butt"/>
<line x1="734.4" y1="896.6" x2="734.4" y2="905.5" stroke="#606060" stroke-width="1.2" stroke-linecap="butt"/>
<line x1="277.9" y1="875.8" x2="277.9" y2="881.5" stroke="#606060" stroke-width="1.2" stroke-linecap="butt"/>
<line x1="470.5" y1="886.2" x2="470.5" y2="898.5" stroke="#606060" stroke-width="1.2" stroke-linecap="butt"/>
<line x1="279.5" y1="886.7" x2="279.5" y2="894.1" stroke="#606060" stroke-width="1.2" stroke-linecap="butt"/>
<line x1="694.6" y1="897.1" x2="694.6" y2="903.4" stroke="#606060" stroke-width="1.2" stroke-linecap="butt"/>
<line x1="637.5" y1="892" x2="637.5" y2="902.7" stroke="#606060" stroke-width="1.2" stroke-linecap="butt"/>
<line x1="622.8" y1="889.3" x2="622.8" y2="898.3" stroke="#606060" stroke-width="1.2" stroke-linecap="butt"/>
<line x1="281" y1="885.7" x2="281" y2="898" stroke="#606060" stroke-width="1.2" stroke-linecap="butt"/>
<line x1="131.9" y1="884.5" x2="131.9" y2="891.7" stroke="#606060" stroke-width="1.2" stroke-linecap="butt"/>
<line x1="148.7" y1="877.1" x2="148.7" y2="886.7" stroke="#606060" stroke-width="1.2" stroke-linecap="butt"/>
<line x1="218" y1="877.6" x2="218" y2="883.4" stroke="#606060" stroke-width="1.2" stroke-linecap="butt"/>
<line x1="250.4" y1="884.6" x2="250.4" y2="889.7" stroke="#606060" stroke-width="1.2" stroke-linecap="butt"/>
<line x1="364.5" y1="882.3" x2="364.5" y2="887.7" stroke="#606060" stroke-width="1.2" stroke-linecap="butt"/>
<line x1="228.2" y1="886.3" x2="228.2" y2="899.2" stroke="#606060" stroke-width="1.2" stroke-linecap="butt"/>
<line x1="629.9" y1="884.8" x2="629.9" y2="895.9" stroke="#606060" stroke-width="1.2" stroke-linecap="butt"/>
<line x1="341.5" y1="876.7" x2="341.5" y2="885.6" stroke="#606060" stroke-width="1.2" stroke-linecap="butt"/>
<line x1="682.3" y1="896.1" x2="682.3" y2="904.2" stroke="#606060" stroke-width="1.2" stroke-linecap="butt"/>
<line x1="61.7" y1="886.2" x2="61.7" y2="899.1" stroke="#606060" stroke-width="1.2" stroke-linecap="butt"/>
<line x1="385.2" y1="877.4" x2="385.2" y2="886.8" stroke="#606060" stroke-width="1.2" stroke-linecap="butt"/>
<line x1="518.7" y1="884.4" x2="518.7" y2="892.2" stroke="#606060" stroke-width="1.2" stroke-linecap="butt"/>
<line x1="194.9" y1="878.4" x2="194.9" y2="883.8" stroke="#606060" stroke-width="1.2" stroke-linecap="butt"/>
<line x1="200.2" y1="886.9" x2="200.2" y2="892" stroke="#606060" stroke-width="1.2" stroke-linecap="butt"/>
<line x1="541.2" y1="889.3" x2="541.2" y2="897.5" stroke="#606060" stroke-width="1.2" stroke-linecap="butt"/>
<line x1="445.8" y1="878" x2="445.8" y2="888.4" stroke="#606060" stroke-width="1.2" stroke-linecap="butt"/>
<line x1="527.1" y1="888" x2="527.1" y2="896.9" stroke="#606060" stroke-width="1.2" stroke-linecap="butt"/>
<line x1="716.6" y1="897.4" x2="716.6" y2="906.9" stroke="#606060" stroke-width="1.2" stroke-linecap="butt"/>
<line x1="508.7" y1="881.3" x2="508.7" y2="893.8" stroke="#606060" stroke-width="1.2" stroke-linecap="butt"/>
<line x1="481.8" y1="888.2" x2="481.8" y2="895.5" stroke="#606060" stroke-width="1.2" stroke-linecap="butt"/>
<line x1="725.3" y1="887.8" x2="725.3" y2="897.1" stroke="#606060" stroke-width="1.2" stroke-linecap="butt"/>
<line x1="95.8" y1="877" x2="95.8" y2="888.1" stroke="#606060" stroke-width="1.2" stroke-linecap="butt"/>
<line x1="63.7" y1="879.5" x2="63.7" y2="886" stroke="#606060" stroke-width="1.2" stroke-linecap="butt"/>
<line x1="629.9" y1="883.7" x2="629.9" y2="891.3" stroke="#606060" stroke-width="1.2" stroke-linecap="butt"/>
<line x1="634.2" y1="891.7" x2="634.2" y2="902.3" stroke="#606060" stroke-width="1.2" stroke-linecap="butt"/>
<line x1="731.6" y1="887" x2="731.6" y2="897.3" stroke="#606060" stroke-width="1.2" stroke-linecap="butt"/>
<line x1="553.9" y1="889.2" x2="553.9" y2="899.9" stroke="#606060" stroke-width="1.2" stroke-linecap="butt"/>
<line x1="68.1" y1="875.6" x2="68.1" y2="886.8" stroke="#606060" stroke-width="1.2" stroke-linecap="butt"/>
<line x1="457.7" y1="879" x2="457.7" y2="884.1" stroke="#606060" stroke-width="1.2" stroke-linecap="butt"/>
<line x1="401.2" y1="875.7" x2="401.2" y2="886.7" stroke="#606060" stroke-width="1.2" stroke-linecap="butt"/>
<line x1="262" y1="885" x2="262" y2="890.8" stroke="#606060" stroke-width="1.2" stroke-linecap="butt"/>
<line x1="372.7" y1="875.8" x2="372.7" y2="887" stroke="#606060" stroke-width="1.2" stroke-linecap="butt"/>
<line x1="420.3" y1="877.6" x2="420.3" y2="890.3" stroke="#606060" stroke-width="1.2" stroke-linecap="butt"/>
<line x1="508.4" y1="882" x2="508.4" y2="893.9" stroke="#606060" stroke-width="1.2" stroke-linecap="butt"/>
<line x1="290.3" y1="886.8" x2="290.3" y2="894.1" stroke="#606060" stroke-width="1.2" stroke-linecap="butt"/>
<line x1="726.7" y1="887.3" x2="726.7" y2="898.2" stroke="#606060" stroke-width="1.2" stroke-linecap="butt"/>
<line x1="226.4" y1="880" x2="226.4" y2="890.1" stroke="#606060" stroke-width="1.2" stroke-linecap="butt"/>
<line x1="49.1" y1="877.4" x2="49.1" y2="883.2" stroke="#606060" stroke-width="1.2" stroke-linecap="butt"/>
<line x1="550" y1="882.2" x2="550" y2="891.2" stroke="#606060" stroke-width="1.2" stroke-linecap="butt"/>
<line x1="253.2" y1="877.6" x2="253.2" y2="890.1" stroke="#606060" stroke-width="1.2" stroke-linecap="butt"/>
<line x1="382.4" y1="883" x2="382.4" y2="893.6" stroke="#606060" stroke-width="1.2" stroke-linecap="butt"/>
<line x1="608.9" y1="885.2" x2="608.9" y2="890.8" stroke="#606060" stroke-width="1.2" stroke-linecap="butt"/>
<line x1="353.4" y1="876.7" x2="353.4" y2="881.9" stroke="#606060" stroke-width="1.2" stroke-linecap="butt"/>
<line x1="680" y1="892.8" x2="680" y2="901.1" stroke="#606060" stroke-width="1.2" stroke-linecap="butt"/>
<line x1="114.5" y1="884.4" x2="114.5" y2="893.7" stroke="#606060" stroke-width="1.2" stroke-linecap="butt"/>
<line x1="141.8" y1="887.3" x2="141.8" y2="899.9" stroke="#606060" stroke-width="1.2" stroke-linecap="butt"/>
<line x1="685.4" y1="895.6" x2="685.4" y2="904.8" stroke="#606060" stroke-width="1.2" stroke-linecap="butt"/>
<line x1="232.9" y1="883" x2="232.9" y2="889.2" stroke="#606060" stroke-width="1.2" stroke-linecap="butt"/>
<line x1="461.3" y1="876.6" x2="461.3" y2="881.7" stroke="#606060" stroke-width="1.2" stroke-linecap="butt"/>
<line x1="532.6" y1="883.1" x2="532.6" y2="893.7" stroke="#606060" stroke-width="1.2" stroke-linecap="butt"/>
<line x1="579.1" y1="891.4" x2="579.1" y2="901.3" stroke="#606060" stroke-width="1.2" stroke-linecap="butt"/>
<line x1="627.3" y1="891" x2="627.3" y2="903.5" stroke="#606060" stroke-width="1.2" stroke-linecap="butt"/>
<line x1="663.5" y1="884.5" x2="663.5" y2="891.7" stroke="#606060" stroke-width="1.2" stroke-linecap="butt"/>
<line x1="296.7" y1="877.8" x2="296.7" y2="884.2" stroke="#606060" stroke-width="1.2" stroke-linecap="butt"/>
<line x1="646.6" y1="883.6" x2="646.6" y2="890" stroke="#606060" stroke-width="1.2" stroke-linecap="butt"/>
<line x1="564.9" y1="882.9" x2="564.9" y2="889.9" stroke="#606060" stroke-width="1.2" stroke-linecap="butt"/>
<line x1="714.5" y1="895.9" x2="714.5" y2="904.5" stroke="#606060" stroke-width="1.2" stroke-linecap="butt"/>
<line x1="114.3" y1="878" x2="114.3" y2="890.8" stroke="#606060" stroke-width="1.2" stroke-linecap="butt"/>
<line x1="587.2" y1="881.8" x2="587.2" y2="892.4" stroke="#606060" stroke-width="1.2" stroke-linecap="butt"/>
<line x1="287.5" y1="883.9" x2="287.5" y2="891.2" stroke="#606060" stroke-width="1.2" stroke-linecap="butt"/>
<line x1="110" y1="874.8" x2="110" y2="882.1" stroke="#606060" stroke-width="1.2" stroke-linecap="butt"/>
<line x1="637.2" y1="894.5" x2="637.2" y2="904.9" stroke="#606060" stroke-width="1.2" stroke-linecap="butt"/>
<line x1="556" y1="882.1" x2="556" y2="890" stroke="#606060" stroke-width="1.2" stroke-linecap="butt"/>
<line x1="665.2" y1="896.8" x2="665.2" y2="905.4" stroke="#606060" stroke-width="1.2" stroke-linecap="butt"/>
<line x1="576.3" y1="892.6" x2="576.3" y2="905.5" stroke="#606060" stroke-width="1.2" stroke-linecap="butt"/>
<line x1="229.5" y1="883" x2="229.5" y2="891.1" stroke="#606060" stroke-width="1.2" stroke-linecap="butt"/>
<line x1="351.8" y1="880.5" x2="351.8" y2="887.7" stroke="#606060" stroke-width="1.2" stroke-linecap="butt"/>
<line x1="29.8" y1="884.5" x2="29.8" y2="895" stroke="#606060" stroke-width="1.2" stroke-linecap="butt"/>
<line x1="622.9" y1="884.3" x2="622.9" y2="891.2" stroke="#606060" stroke-width="1.2" stroke-linecap="butt"/>
<line x1="446.4" y1="887.3" x2="446.4" y2="896.1" stroke="#606060" stroke-width="1.2" stroke-linecap="butt"/>
<line x1="161" y1="882.2" x2="161" y2="894.9" stroke="#606060" stroke-width="1.2" stroke-linecap="butt"/>
<line x1="642.8" y1="894.8" x2="642.8" y2="903.1" stroke="#606060" stroke-width="1.2" stroke-linecap="butt"/>
<line x1="205.4" y1="885.8" x2="205.4" y2="897.1" stroke="#606060" stroke-width="1.2" stroke-linecap="butt"/>
<line x1="630.7" y1="887.7" x2="630.7" y2="895" stroke="#606060" stroke-width="1.2" stroke-linecap="butt"/>
<line x1="189.5" y1="885.8" x2="189.5" y2="898.2" stroke="#606060" stroke-width="1.2" stroke-linecap="butt"/>
<line x1="281.1" y1="885.9" x2="281.1" y2="893.9" stroke="#606060" stroke-width="1.2" stroke-linecap="butt"/>
<line x1="339.4" y1="881.9" x2="339.4" y2="888.6" stroke="#606060" stroke-width="1.2" stroke-linecap="butt"/>
<line x1="209.1" y1="878" x2="209.1" y2="885" stroke="#606060" stroke-width="1.2" stroke-linecap="butt"/>
<line x1="388.2" y1="875.8" x2="388.2" y2="887" stroke="#606060" stroke-width="1.2" stroke-linecap="butt"/>
<line x1="142.2" y1="880.3" x2="142.2" y2="890.4" stroke="#606060" stroke-width="1.2" stroke-linecap="butt"/>
<line x1="115.7" y1="879.8" x2="115.7" y2="889.3" stroke="#606060" stroke-width="1.2" stroke-linecap="butt"/>
<line x1="413.3" y1="886.1" x2="413.3" y2="897.4" stroke="#606060" stroke-width="1.2" stroke-linecap="butt"/>
<line x1="103.3" y1="885.3" x2="103.3" y2="894.7" stroke="#606060" stroke-width="1.2" stroke-linecap="butt"/>
<line x1="505.6" y1="879.6" x2="505.6" y2="888.4" stroke="#606060" stroke-width="1.2" stroke-linecap="butt"/>
<line x1="521.3" y1="888.6" x2="521.3" y2="900" stroke="#606060" stroke-width="1.2" stroke-linecap="butt"/>
<line x1="172.8" y1="885.3" x2="172.8" y2="894.9" stroke="#606060" stroke-width="1.2" stroke-linecap="butt"/>
<line x1="498.8" y1="888.4" x2="498.8" y2="896.6" stroke="#606060" stroke-width="1.2" stroke-linecap="butt"/>
<line x1="680" y1="896.1" x2="680" y2="907.5" stroke="#606060" stroke-width="1.2" stroke-linecap="butt"/>
<line x1="290.3" y1="881.4" x2="290.3" y2="887.8" stroke="#606060" stroke-width="1.2" stroke-linecap="butt"/>
<line x1="564.3" y1="891.5" x2="564.3" y2="897.8" stroke="#606060" stroke-width="1.2" stroke-linecap="butt"/>
<line x1="553.7" y1="888.5" x2="553.7" y2="893.8" stroke="#606060" stroke-width="1.2" stroke-linecap="butt"/>
<line x1="678" y1="890.8" x2="678" y2="897.9" stroke="#606060" stroke-width="1.2" stroke-linecap="butt"/>
<line x1="37.8" y1="884.7" x2="37.8" y2="892.4" stroke="#606060" stroke-width="1.2" stroke-linecap="butt"/>
<line x1="386.7" y1="877" x2="386.7" y2="886.9" stroke="#606060" stroke-width="1.2" stroke-linecap="butt"/>
<line x1="302.8" y1="885" x2="302.8" y2="895.3" stroke="#606060" stroke-width="1.2" stroke-linecap="butt"/>
<line x1="537.1" y1="882.1" x2="537.1" y2="887.6" stroke="#606060" stroke-width="1.2" stroke-linecap="butt"/>
<line x1="651.3" y1="895.6" x2="651.3" y2="905.8" stroke="#606060" stroke-width="1.2" stroke-linecap="butt"/>
<line x1="681.5" y1="893.9" x2="681.5" y2="903.7" stroke="#606060" stroke-width="1.2" stroke-linecap="butt"/>
<line x1="318.6" y1="879.1" x2="318.6" y2="888" stroke="#606060" stroke-width="1.2" stroke-linecap="butt"/>
<line x1="176.6" y1="880.1" x2="176.6" y2="889.1" stroke="#606060" stroke-width="1.2" stroke-linecap="butt"/>
<line x1="38.5" y1="879.6" x2="38.5" y2="886.9" stroke="#606060" stroke-width="1.2" stroke-linecap="butt"/>
<line x1="473.9" y1="886.8" x2="473.9" y2="896.7" stroke="#606060" stroke-width="1.2" stroke-linecap="butt"/>
<line x1="495.4" y1="885.1" x2="495.4" y2="892.2" stroke="#606060" stroke-width="1.2" stroke-linecap="butt"/>
<line x1="287.7" y1="885.5" x2="287.7" y2="898" stroke="#606060" stroke-width="1.2" stroke-linecap="butt"/>
<line x1="146.8" y1="874.6" x2="146.8" y2="887.3" stroke="#606060" stroke-width="1.2" stroke-linecap="butt"/>
<line x1="636.6" y1="890.8" x2="636.6" y2="902.3" stroke="#606060" stroke-width="1.2" stroke-linecap="butt"/>
<line x1="445.1" y1="886.9" x2="445.1" y2="893.8" stroke="#606060" stroke-width="1.2" stroke-linecap="butt"/>
<line x1="336.7" y1="883.2" x2="336.7" y2="889.9" stroke="#606060" stroke-width="1.2" stroke-linecap="butt"/>
<line x1="532.1" y1="882" x2="532.1" y2="892.7" stroke="#606060" stroke-width="1.2" stroke-linecap="butt"/>
<line x1="596.6" y1="886.8" x2="596.6" y2="899.7" stroke="#606060" stroke-width="1.2" stroke-linecap="butt"/>
<line x1="471.8" y1="886" x2="471.8" y2="891.2" stroke="#606060" stroke-width="1.2" stroke-linecap="butt"/>
<line x1="97.4" y1="883.7" x2="97.4" y2="896.3" stroke="#606060" stroke-width="1.2" stroke-linecap="butt"/>
<line x1="469.6" y1="888" x2="469.6" y2="893.4" stroke="#606060" stroke-width="1.2" stroke-linecap="butt"/>
<line x1="659.8" y1="895.2" x2="659.8" y2="905.2" stroke="#606060" stroke-width="1.2" stroke-linecap="butt"/>
<line x1="326.1" y1="883.7" x2="326.1" y2="890.6" stroke="#606060" stroke-width="1.2" stroke-linecap="butt"/>
<line x1="498" y1="886.3" x2="498" y2="895.6" stroke="#606060" stroke-width="1.2" stroke-linecap="butt"/>
<line x1="203.8" y1="874.5" x2="203.8" y2="881.1" stroke="#606060" stroke-width="1.2" stroke-linecap="butt"/>
<line x1="618" y1="884.9" x2="618" y2="890.5" stroke="#606060" stroke-width="1.2" stroke-linecap="butt"/>
<line x1="194.1" y1="881.2" x2="194.1" y2="890.9" stroke="#606060" stroke-width="1.2" stroke-linecap="butt"/>
<line x1="649.3" y1="894.5" x2="649.3" y2="907.2" stroke="#606060" stroke-width="1.2" stroke-linecap="butt"/>
<line x1="654.4" y1="889.4" x2="654.4" y2="895.6" stroke="#606060" stroke-width="1.2" stroke-linecap="butt"/>
<line x1="706.1" y1="888.6" x2="706.1" y2="898.6" stroke="#606060" stroke-width="1.2" stroke-linecap="butt"/>
<line x1="206.9" y1="885.1" x2="206.9" y2="891.7" stroke="#606060" stroke-width="1.2" stroke-linecap="butt"/>
<line x1="319.8" y1="877.4" x2="319.8" y2="889.2" stroke="#606060" stroke-width="1.2" stroke-linecap="butt"/>
<line x1="463.2" y1="884" x2="463.2" y2="891.6" stroke="#606060" stroke-width="1.2" stroke-linecap="butt"/>
<line x1="143.4" y1="885.6" x2="143.4" y2="896.8" stroke="#606060" stroke-width="1.2" stroke-linecap="butt"/>
<line x1="546.3" y1="892.2" x2="546.3" y2="901.6" stroke="#606060" stroke-width="1.2" stroke-linecap="butt"/>
<line x1="144.9" y1="882.4" x2="144.9" y2="889.7" stroke="#606060" stroke-width="1.2" stroke-linecap="butt"/>
<line x1="386.3" y1="880.5" x2="386.3" y2="890" stroke="#606060" stroke-width="1.2" stroke-linecap="butt"/>
<line x1="681.2" y1="895.2" x2="681.2" y2="903.5" stroke="#606060" stroke-width="1.2" stroke-linecap="butt"/>
<line x1="606.1" y1="892.8" x2="606.1" y2="904" stroke="#606060" stroke-width="1.2" stroke-linecap="butt"/>
<line x1="414.1" y1="886.2" x2="414.1" y2="895.1" stroke="#606060" stroke-width="1.2" stroke-linecap="butt"/>
<line x1="92.5" y1="878" x2="92.5" y2="888.3" stroke="#606060" stroke-width="1.2" stroke-linecap="butt"/>
<line x1="289.7" y1="880" x2="289.7" y2="888.2" stroke="#606060" stroke-width="1.2" stroke-linecap="butt"/>
<line x1="154.7" y1="875.7" x2="154.7" y2="881.1" stroke="#606060" stroke-width="1.2" stroke-linecap="butt"/>
<line x1="501.6" y1="881.6" x2="501.6" y2="890.3" stroke="#606060" stroke-width="1.2" stroke-linecap="butt"/>
<line x1="691.2" y1="893.2" x2="691.2" y2="904.7" stroke="#606060" stroke-width="1.2" stroke-linecap="butt"/>
<line x1="566.4" y1="892.4" x2="566.4" y2="898" stroke="#606060" stroke-width="1.2" stroke-linecap="butt"/>
<line x1="293.4" y1="886.8" x2="293.4" y2="895.6" stroke="#606060" stroke-width="1.2" stroke-linecap="butt"/>
<line x1="700.3" y1="887.8" x2="700.3" y2="893.3" stroke="#606060" stroke-width="1.2" stroke-linecap="butt"/>
<line x1="662.5" y1="889.3" x2="662.5" y2="898.3" stroke="#606060" stroke-width="1.2" stroke-linecap="butt"/>
<line x1="692" y1="888" x2="692" y2="900.7" stroke="#606060" stroke-width="1.2" stroke-linecap="butt"/>
<line x1="302.3" y1="877.7" x2="302.3" y2="884.6" stroke="#606060" stroke-width="1.2" stroke-linecap="butt"/>
<line x1="390.3" y1="880.6" x2="390.3" y2="892.7" stroke="#606060" stroke-width="1.2" stroke-linecap="butt"/>
<line x1="52.7" y1="875.1" x2="52.7" y2="881.3" stroke="#606060" stroke-width="1.2" stroke-linecap="butt"/>
<line x1="453.3" y1="885.6" x2="453.3" y2="894.4" stroke="#606060" stroke-width="1.2" stroke-linecap="butt"/>
<line x1="459.1" y1="884" x2="459.1" y2="889.2" stroke="#606060" stroke-width="1.2" stroke-linecap="butt"/>
<line x1="193.8" y1="887.5" x2="193.8" y2="895.1" stroke="#606060" stroke-width="1.2" stroke-linecap="butt"/>
<line x1="699.5" y1="891.8" x2="699.5" y2="898.6" stroke="#606060" stroke-width="1.2" stroke-linecap="butt"/>
<line x1="17.7" y1="877.3" x2="17.7" y2="884.9" stroke="#606060" stroke-width="1.2" stroke-linecap="butt"/>
<line x1="333.2" y1="880.3" x2="333.2" y2="889.7" stroke="#606060" stroke-width="1.2" stroke-linecap="butt"/>
<line x1="358.3" y1="874.9" x2="358.3" y2="882.1" stroke="#606060" stroke-width="1.2" stroke-linecap="butt"/>
<line x1="710.6" y1="886.2" x2="710.6" y2="897.1" stroke="#606060" stroke-width="1.2" stroke-linecap="butt"/>
<line x1="359.9" y1="883.7" x2="359.9" y2="891.4" stroke="#606060" stroke-width="1.2" stroke-linecap="butt"/>
<line x1="283.2" y1="881.2" x2="283.2" y2="893.5" stroke="#606060" stroke-width="1.2" stroke-linecap="butt"/>
<line x1="253.1" y1="875.6" x2="253.1" y2="880.9" stroke="#606060" stroke-width="1.2" stroke-linecap="butt"/>
<line x1="108.9" y1="830.4" x2="108.9" y2="890.5" stroke="#222" stroke-width="3" stroke-linecap="butt"/>
<line x1="112.2" y1="742.9" x2="112.2" y2="890.5" stroke="#111" stroke-width="4" stroke-linecap="butt"/>
<line x1="114.9" y1="668.5" x2="114.9" y2="890.5" stroke="#3a3a3a" stroke-width="3.2" stroke-linecap="butt"/>
<line x1="120.6" y1="839.4" x2="120.6" y2="890.5" stroke="#666" stroke-width="2.5" stroke-linecap="butt"/>
<line x1="127.3" y1="772" x2="127.3" y2="890.5" stroke="#3a3a3a" stroke-width="3" stroke-linecap="butt"/>
<line x1="152.2" y1="740.6" x2="152.2" y2="890.5" stroke="#555" stroke-width="2.4" stroke-linecap="butt"/>
<line x1="154.7" y1="804.6" x2="154.7" y2="890.5" stroke="#111" stroke-width="3.6" stroke-linecap="butt"/>
<line x1="182.1" y1="523" x2="182.1" y2="890.5" stroke="#3c3c3c" stroke-width="3.4" stroke-linecap="butt"/>
<line x1="444.9" y1="842.1" x2="444.9" y2="891.1" stroke="#555" stroke-width="3.6" stroke-linecap="butt"/>
<line x1="626" y1="846" x2="626" y2="898.4" stroke="#555" stroke-width="3.6" stroke-linecap="butt"/>
<line x1="793" y1="950.8" x2="1884.8" y2="950.8" stroke="#a3a3a3" stroke-width="2.4" stroke-linecap="butt"/>
<line x1="922" y1="950.8" x2="922" y2="966.5" stroke="#a3a3a3" stroke-width="2.2" stroke-linecap="butt"/>
<line x1="1082" y1="950.8" x2="1082" y2="966.5" stroke="#a3a3a3" stroke-width="2.2" stroke-linecap="butt"/>
<line x1="1241.5" y1="950.8" x2="1241.5" y2="966.5" stroke="#a3a3a3" stroke-width="2.2" stroke-linecap="butt"/>
<line x1="1402.5" y1="950.8" x2="1402.5" y2="966.5" stroke="#a3a3a3" stroke-width="2.2" stroke-linecap="butt"/>
<line x1="1562.5" y1="950.8" x2="1562.5" y2="966.5" stroke="#a3a3a3" stroke-width="2.2" stroke-linecap="butt"/>
<line x1="1722.5" y1="950.8" x2="1722.5" y2="966.5" stroke="#a3a3a3" stroke-width="2.2" stroke-linecap="butt"/>
<line x1="1883.8" y1="950.8" x2="1883.8" y2="966.5" stroke="#a3a3a3" stroke-width="2.2" stroke-linecap="butt"/>
<path d="M793.5,738.1 C829.5,737.6 874.6,736.5 901.5,736.7 C917.6,736.8 929,737.1 940,737.8 C948.4,738.3 954.8,739.2 962,740 C969,740.8 975.8,742.5 982.7,742.6 C989.5,742.7 996.8,741.4 1003,740.5 C1008.3,739.7 1012.6,738 1017.7,737.8 C1023.2,737.6 1028.5,739.6 1035,739.6 C1043.4,739.6 1057,736.9 1064,736.5 C1068,736.3 1069.9,735.8 1073.4,736.5 C1078,737.4 1083.4,740.5 1089,743 C1095.7,746 1104.4,748.7 1110.7,753.6 C1117.1,758.6 1122.4,769.1 1126.8,773 C1129.2,775.1 1131.4,774.3 1133,777 C1136.9,783.6 1135.2,806.9 1136.4,821 C1137.5,834.1 1138.9,859 1140,859 C1141.3,859 1142,821.7 1143.6,807 C1144.8,796.1 1145.3,784.9 1148,778.6 C1149.6,774.9 1152.1,770.6 1154,770.7 C1155.8,770.8 1157.7,774.6 1159,778.6 C1162,788.1 1160.5,830 1161.4,830 C1162.4,830 1161.6,777.7 1165,764 C1166.6,757.4 1167.8,754.2 1171.4,750 C1176.1,744.6 1185.5,738.3 1193,736.4 C1199.8,734.6 1208.1,736.9 1214,737.5 C1218.3,737.9 1221.6,737.8 1225,739 C1228.3,740.2 1230.9,744.3 1234,744.6 C1236.9,744.9 1239.8,742.2 1243,741 C1246.6,739.6 1249,737.8 1254.4,736.8 C1266.1,734.7 1299.7,735.9 1312,736.8 C1317.8,737.2 1319,738.3 1324.8,738.7 C1336.9,739.4 1362,737.4 1380.8,737.4 C1399.9,737.4 1419.6,738.9 1438.5,738.7 C1456.9,738.5 1481.7,734.1 1492.7,736.3 C1497.9,737.3 1501.1,738.5 1503.5,741.4 C1506.2,744.7 1506.1,749.7 1507,755.8 C1508.6,766 1508.9,781.6 1509.8,797.3 C1511,818.1 1511.8,848.3 1513.4,869.5 C1514.7,886.3 1516.6,914.6 1518,914.6 C1519.3,914.6 1520.5,892.6 1521.5,878.5 C1522.9,858.6 1523.3,827 1524.8,806.3 C1525.9,790.5 1526.7,773.5 1528.8,764.8 C1529.8,760.6 1531.2,755.7 1532.4,755.8 C1534.2,755.9 1535.9,767.9 1537.8,775.7 C1540.4,786.6 1543.5,815.4 1546,815.4 C1547.9,815.4 1549.7,800.9 1551.3,793.7 C1552.9,786.5 1553.6,776.7 1555.8,772 C1557.1,769.4 1558.5,768.4 1560.3,766.6 C1562.5,764.5 1566.1,760.1 1568.5,760.3 C1570.6,760.5 1572.5,763.5 1573.9,766.6 C1576.4,771.9 1576.4,783.4 1577.9,791 C1579.2,797.9 1580.4,810.1 1582.3,810.4 C1583.5,810.6 1585.3,806.2 1586.6,803.3 C1588.4,799.2 1589.1,792.2 1591,787.6 C1592.7,783.6 1595.3,777.1 1597.1,777 C1598.4,777 1599.7,779.6 1600.7,782.3 C1603.1,788.9 1603,819.1 1604.2,819.1 C1605.1,819.1 1606,805.3 1606.8,798 C1607.6,790.2 1607.2,778.3 1608.9,773.6 C1609.7,771.4 1610.8,769.1 1612,769.2 C1613.9,769.3 1617.2,777.4 1619,782.3 C1621.1,788 1621.6,801.4 1623.4,801.6 C1624.7,801.7 1626,792.3 1627.8,792 C1629.3,791.8 1631.6,798.3 1633,798 C1634.9,797.5 1634.8,787.6 1636.6,782.3 C1638.5,776.5 1641.6,765.2 1644.4,764.8 C1646.4,764.5 1648.6,768.2 1650.6,771.8 C1654.5,779 1658,800.1 1661,808.6 C1662.6,813.2 1664.2,814.9 1665.5,819.1 C1667.3,824.8 1668.5,833 1669.8,840 C1671.1,847 1672.2,853 1673.3,861.2 C1674.8,872.5 1674.2,892.6 1677.7,901.4 C1679.7,906.4 1683.4,912.3 1685.6,912 C1687.9,911.7 1689.2,902.2 1690.9,898 C1692.4,894.4 1693.6,888.5 1695.2,888.3 C1696.5,888.1 1698.1,893.8 1699.6,893.6 C1701.8,893.4 1703.8,882.7 1706.6,880.4 C1708.5,878.9 1711.1,880.5 1712.8,878.7 C1716.5,874.7 1717.1,859.1 1718.9,848.9 C1720.8,838.1 1722.2,824.9 1724.1,815.6 C1725.5,808.8 1726.7,798.3 1728.5,798 C1729.6,797.8 1731,800.6 1732,803.3 C1734.3,809.7 1732.2,836.8 1735.5,838.4 C1736.9,839.1 1739.2,834.4 1740.8,834.9 C1743.3,835.6 1743.8,846.5 1746.9,848.9 C1749.2,850.8 1753.2,851.5 1755.7,850.6 C1758.5,849.6 1760.8,845.7 1762.7,841.9 C1765.3,836.6 1765.3,825.1 1767.9,820.9 C1769.4,818.5 1771.5,816.5 1773.2,816.5 C1774.7,816.5 1776.3,818 1777.6,820 C1780.2,824 1781.5,841.7 1783.7,841.9 C1785.1,842 1786.9,836.4 1788.1,833.1 C1789.6,829 1789.3,821.5 1791.6,819.1 C1793.1,817.5 1796.1,818.6 1797.7,817.4 C1799.3,816.2 1799.4,813.4 1801.2,812.1 C1803.4,810.5 1808.5,811.5 1810.8,809.5 C1813.2,807.5 1814,803.9 1815.2,799.8 C1817.1,793.3 1817.6,782.9 1818.7,773.6 C1819.9,763.2 1820.1,745.6 1822.2,740.3 C1823,738.4 1824,736.6 1824.9,736.8 C1826.9,737.1 1829,749.1 1831,756 C1833.3,764.1 1836.2,774.2 1838,782.3 C1839.5,789.2 1840.5,794.8 1841.5,801.6 C1842.6,809.3 1843.2,826.1 1844.1,826.1 C1844.9,826.1 1843.8,808.3 1846.7,805.1 C1848.4,803.2 1851.3,803.2 1853.8,803.3 C1856.6,803.4 1860,806.2 1862.5,806 C1864.5,805.8 1866.5,805.1 1867.8,803.3 C1870.2,800 1869.7,791.9 1870.4,784 C1871.5,771.7 1871,736.9 1872.2,736.8 C1872.7,736.8 1873.4,740.8 1873.9,743.8 C1874.7,748.9 1874.1,764.4 1875.7,764.8 C1876.6,765 1878.2,762.1 1879.2,759.6 C1881.1,754.8 1881.5,744.4 1882.7,736.8" fill="none" stroke="#000" stroke-width="4.0" stroke-linejoin="round" stroke-linecap="round" />
<polyline points="793.3,285.3 794.5,285.3 795.8,285.7 797,284.3 798.2,283.7 799.5,285.5 800.7,285.5 801.9,284.7 803.2,283.7 804.4,284.4 805.6,284 806.9,284.5 808.1,282.5 809.3,283.6 810.6,283.2 811.8,282.2 813,283.3 814.3,283 815.5,282.5 816.7,283 818,281.3 819.2,282.4 820.4,282.7 821.7,282.4 822.9,282 824.2,282.5 825.4,280 826.7,279.3 828,280.4 829.2,280.2 830.5,281.2 831.8,279.4 833.1,277.6 834.3,278.7 835.6,276.8 836.9,275.8 838.1,279 839.4,276.2 844.3,281.1 845.5,281.2 846.7,281.5 848,281.2 849.2,282.2 850.4,280.6 851.6,281.3 852.8,279.2 854,278.7 855.3,281.1 856.5,281 857.7,280 858.9,279.6 860.1,279.4 861.3,278.5 862.6,280.3 863.8,279.4 865,279.1 866.2,278.9 867.4,279.3 868.6,278.7 869.9,278.8 871.1,276.9 872.3,277.8 875.6,274.6 882.2,279.5 883.4,279.8 884.6,281.2 885.8,278.6 887,278.9 888.3,279.6 889.5,279.6 890.7,279.1 891.9,277 893.1,278.8 894.3,277.1 895.5,277.3 896.7,278.4 897.9,277.5 899.1,278.4 900.4,280.4 901.6,278.1 902.8,277.9 904,276.3 905.2,277 906.5,276.9 907.7,276.9 909,277.8 910.2,277.8 911.5,278.6 912.8,279.4 914,279.1 915.3,279.2 916.5,279.7 917.8,281.8 919,281.8 920.3,283.1 921.6,283.6 922.8,282.8 924.1,284.1 925.3,282.7 926.6,284.4 929.9,278.7 931.1,280.9 932.4,280 933.6,278.9 934.8,278.1 936.1,279.6 937.3,277.7 938.5,278.8 939.8,280.3 941,279.8 942.2,279.5 943.5,280.9 944.7,279.2 946,280.5 947.2,279.9 948.4,279.7 949.7,281 950.9,279.8 952.1,282.6 953.4,280.5 954.6,281.1 955.8,283.4 957.1,281.1 958.3,283.1 959.5,282 960.8,282.3 962,284.1 963.2,285.1 964.5,283.8 965.7,286.5 966.9,285.2 968.2,286.5 969.4,286.9 970.7,286.7 972,286.4 973.4,283.8 974.7,286.4 976,284.4 977.2,284.9 978.4,284.1 979.6,283.6 980.8,283 982,283.3 983.2,285.1 984.4,284.3 985.6,283.7 986.8,284.2 988,286.2 989.2,284.5 990.4,284.3 991.6,286.1 992.8,285.3 994,285 995.2,284.4 996.4,283.6 997.6,284 998.8,284.6 1000,284.9 1001.2,285.4 1002.4,285.7 1003.6,285.4 1004.8,285.4 1006,284.4 1007.2,285.3 1011.3,291 1013.8,320.6 1016.8,294.3 1020.4,286.9 1021.7,284.4 1023,285.3 1024.3,284.3 1025.6,284 1027,283.8 1028.3,282.3 1029.6,281.8 1030.9,282.2 1032.2,281.8 1033.5,281.1 1034.7,280.6 1035.9,281.8 1037.2,281.2 1038.4,280.6 1039.6,281.7 1040.8,283.4 1042,281.3 1043.2,283 1044.5,283.3 1045.7,283.5 1046.9,281.6 1048.1,284.2 1049.3,282.6 1050.5,282.4 1051.8,282.5 1053,283.4 1054.2,283 1055.4,282.9 1056.6,284.3 1057.8,282.6 1059.1,282.4 1060.3,284.2 1061.5,283.6 1062.8,284 1064.1,284 1065.3,281.8 1066.6,283.5 1067.9,282.6 1069.2,283.5 1070.4,280.5 1071.7,281.6 1073,281.1 1074.2,281.2 1075.4,280.3 1076.6,281.4 1077.8,283.3 1079,282.2 1080.2,282.2 1081.4,284 1082.6,284.4 1083.8,284.7 1085,283.4 1086.2,284.4 1087.4,284.9 1088.7,286.5 1089.9,285.5 1091.1,286 1092.3,288 1093.5,289.3 1094.8,287.4 1096,289 1109,303.6 1113.6,321 1114.3,343 1118,350 1118,382 1120.7,389 1119.6,453.6 1123,478.6 1122.5,600 1125.7,628.6 1126.8,689 1130,693 1132,700 1134.6,764 1137.5,814 1141,786 1142,746 1144.6,735.7 1145.7,689 1148,678.6 1148,618 1151.8,598 1153.6,618 1154.6,653.6 1157,660.7 1157.9,732 1161.8,766 1164,678.6 1165,507 1167.9,478.6 1167.9,396 1171.4,385.7 1172,357 1175,343 1176.8,332 1179,321 1180.7,317.9 1182.3,319.4 1184.7,308.9 1189.3,303.6 1190.8,301.6 1192.2,301.2 1193.7,301.3 1195.2,300.7 1196.5,301.8 1197.8,301.7 1199,301.8 1200.3,303.2 1201.6,303.6 1206.9,294.9 1208.2,294.3 1209.5,295.4 1210.8,295.2 1212.2,298.5 1213.5,297.1 1214.8,295.9 1216.1,296 1217.4,297.2 1218.7,296.2 1220.1,294.5 1221.4,294.8 1222.7,294.2 1224,295.1 1225.4,293.3 1226.7,293.1 1228.1,291.9 1229.4,290.9 1230.8,290.6 1232.2,291.1 1233.5,290.5 1234.9,290.2 1250,282 1251.3,282.7 1252.5,280.8 1253.8,282 1255,280.9 1256.3,280.4 1257.5,278.2 1258.8,278.5 1260.1,280 1261.3,280.3 1262.6,278.9 1263.8,279.1 1265.1,277.7 1266.3,277.4 1267.6,277.4 1268.8,276.5 1270.1,277.7 1271.3,276.8 1272.6,276 1273.8,275.6 1275.1,276.1 1276.3,275.6 1277.6,274.3 1278.8,276.3 1280.1,274.7 1281.3,274.2 1282.6,275.2 1283.8,274.5 1285.1,273.3 1286.3,273.2 1287.5,273.7 1288.8,272.3 1290,272.6 1291.2,271.1 1292.4,274.2 1293.6,271.4 1294.8,273.7 1296,272.3 1297.3,272.2 1298.5,272.8 1299.7,273.2 1300.9,273.5 1302.1,274.5 1303.3,273.2 1304.6,273.7 1305.8,272.3 1307,273.5 1308.2,273 1309.4,272.4 1310.6,272.7 1311.9,272.7 1313.1,272.9 1314.3,272.7 1315.5,273 1316.8,272.1 1318,271.8 1319.3,273 1320.5,270.7 1321.8,271.6 1323,273.5 1324.3,269.6 1325.5,271.3 1326.8,272.5 1328,270.3 1329.3,274 1330.5,269.3 1331.8,271.5 1333,272.6 1334.3,272.5 1335.5,271.7 1336.8,270.5 1338,270.8 1339.3,269.4 1340.5,270.8 1341.8,268.8 1343,269.4 1344.3,270.3 1345.5,268.2 1346.8,268.7 1348,269 1349.3,268.6 1350.6,267.2 1351.8,269.3 1353.1,268.3 1354.4,266.5 1355.6,267.6 1356.9,266.8 1358.2,266.7 1359.4,267.1 1360.7,266.2 1362,267.6 1363.2,265.9 1364.5,266.3 1365.7,267.2 1367,266.3 1368.2,267.2 1369.4,265.9 1370.7,266 1371.9,265.5 1373.1,267.1 1374.4,267.4 1375.6,268.5 1376.8,267.8 1378.1,266.9 1379.3,266.5 1380.5,267.1 1381.8,266.7 1383,268.1 1384.2,267.7 1385.5,266.1 1386.7,266.9 1388.3,267 1389.8,269.7 1391.4,269.2 1394.9,265.1 1396.2,265.3 1397.6,264.8 1398.9,266 1400.3,264.6 1401.6,264.6 1403,264.4 1404.3,264.8 1405.5,263 1406.8,265.5 1408,263.5 1409.3,264 1410.5,263.8 1411.8,265.1 1413,264.3 1414.3,264.3 1415.5,262.7 1416.8,264.1 1418,262.8 1419.3,264.3 1420.5,264.3 1421.8,263.9 1423,265.7 1424.3,264.3 1425.5,264.3 1426.8,263.8 1428,263.5 1429.3,264.5 1430.5,264.5 1431.8,262.3 1433,263.4 1434.3,264.2 1435.6,263.6 1436.9,263.9 1438.2,263.3 1439.5,261.6 1440.8,261.6 1442.1,264.2 1443.4,262.6 1444.7,261 1446,262.4 1447.3,262 1448.5,261.5 1449.8,260 1451,259.4 1452.2,259.9 1453.5,261.4 1454.7,260.9 1455.9,260.6 1457.2,260.9 1458.4,261 1459.6,258.4 1460.9,259.8 1462.1,259.2 1463.3,258.6 1464.6,259.1 1465.8,259.3 1467.1,259 1468.3,257.8 1469.5,258.5 1470.8,260.5 1472,257.6 1473.2,256.9 1474.5,258.5 1475.7,258.6 1476.9,258.3 1478.2,256.7 1479.4,258.4 1480.6,256.6 1481.9,256.2 1483.1,257 1484.3,257 1485.5,258.1 1486.7,259.4 1487.9,259.9 1489.1,259.9 1490.3,260.5 1491.5,261.8 1492.7,261.4 1494,262.5 1495.2,260.9 1496.4,261.1 1497.6,263.7 1498.9,262.1 1500.1,263.5 1501.3,264.2 1507.9,271.7 1510.8,284 1510.8,329.2 1513.6,350 1513.2,540.6 1516.4,538.7 1517.4,597.2 1521.1,584 1520.2,482 1524.3,448 1523.6,340.6 1527.7,336.8 1528.7,312.3 1530.6,306.6 1531.1,291.5 1533.4,289.6 1535.3,276.4 1540,270.8 1546.6,263.2 1547.9,263.3 1549.3,263 1550.6,263.2 1552,265 1553.3,261.6 1554.7,264.9 1556,264.2 1557.2,266 1558.4,263.7 1559.6,263.4 1560.8,263.8 1562,264.5 1563.2,261.5 1564.4,262.4 1565.6,261.9 1566.8,262.3 1568,261.7 1569.2,261.3 1574.9,253.8 1576.8,259.4 1578.1,259.9 1579.3,258.9 1580.6,259.2 1581.8,258.5 1583.1,258.4 1584.3,258.8 1585.6,258.7 1586.9,257.7 1588.1,260.1 1589.4,258.5 1590.6,257.3 1591.9,258.5 1597.5,268.9 1598.5,284 1601.3,293.4 1600.4,389.6 1603.2,419.8 1604.2,510.4 1607.9,502.8 1608.9,472.6 1611.7,465 1609.8,406.6 1613.6,395.3 1613.6,350 1617.4,344.3 1616.4,301 1620.2,299 1623,290.6 1629.6,294.3 1629.6,318 1633.4,335 1632.8,412.3 1636.2,387.7 1637.2,342.5 1640,338.7 1639,310.4 1646.6,301 1648.2,301.7 1649.7,299.7 1651.3,300 1654,307.6 1656.6,318.2 1658.2,319.1 1659.7,319.1 1661.3,319.5 1663.3,331.5 1667.3,338.1 1669.9,350 1671.2,384.5 1674.5,409.8 1675.9,385.9 1679.9,372.6 1680.5,350 1681.8,349.6 1683.2,348.9 1684.5,347.5 1685.8,347.4 1687.2,379.2 1687.8,332.8 1692.5,328.8 1693.8,320.9 1695.8,331.5 1696.4,399.1 1700.4,395.2 1701.1,372.6 1705.7,355.4 1709,370 1712.4,335.4 1715,346 1715.7,384.5 1717.7,343.4 1719.2,343 1720.8,344.3 1722.3,342 1723,320.9 1725,287.7 1729.6,283.7 1732.3,299.6 1738.2,285 1741.6,297 1748.2,307.6 1750.9,346 1754.8,326.2 1756.2,298.3 1760.1,271.8 1765.4,281 1768.1,270.4 1774.1,277 1777.4,255.8 1782.7,261.1 1786.7,251.8 1792,247.9 1793.3,246.2 1794.7,248.6 1796,249.3 1797.3,249.2 1801.3,241.2 1802.6,239.9 1803.9,239.3 1805.3,242.2 1806.6,239.9 1811.2,242.6 1815.9,253.2 1822.5,241.2 1830.5,254.5 1834.4,246.5 1838.4,254.5 1841.7,273.1 1844.4,334.1 1846.4,293 1849,265.1 1851.7,270.4 1855,286.3 1859.7,282.4 1863.6,297 1867.6,312.9 1872.9,339.4 1878.2,372.6 1883.5,412.4" fill="none" stroke="#e80000" stroke-width="3.4" stroke-linejoin="round" stroke-linecap="round" />
<path d="M793.3,132.2 C828.9,132.1 871.1,131.9 900,131.8 C919.8,131.7 941.4,131.6 950,131.7 C953,131.7 954,131.7 956,131.8 C958,131.9 960,132 962,132.3 C964,132.5 966,132.8 968,133.3 C970,133.8 972,134.4 974,135.2 C976,136 978,137 980,138.1 C982,139.2 984,140.5 986,141.7 C988,142.9 990,144.3 992,145.3 C994,146.2 996,147.1 998,147.5 C1000,147.9 1002,147.9 1004,147.5 C1006,147.1 1008,146.2 1010,145.3 C1012,144.3 1014,142.9 1016,141.7 C1018,140.5 1020,139.2 1022,138.1 C1024,137 1026,136 1028,135.2 C1030,134.4 1032,133.8 1034,133.3 C1036,132.8 1038,132.5 1040,132.3 C1042,132 1044,131.9 1046,131.8 C1048,131.7 1049.2,131.7 1052,131.7 C1058.7,131.6 1076.8,132.6 1086.2,132.2 C1092.9,131.9 1098.5,129.4 1103.2,130.6 C1107.1,131.6 1110.6,134.9 1113,137.2 C1114.9,139 1116,140.7 1117.2,142.9 C1118.5,145.3 1118.9,150.8 1120.4,151.1 C1121.7,151.4 1123.6,146.8 1125.4,146.2 C1126.9,145.7 1128.9,146 1130.3,147 C1132.2,148.5 1133,153.4 1134.4,156.1 C1135.5,158.3 1136.7,161.9 1137.7,161.8 C1139.2,161.7 1140.1,153 1141.8,149.5 C1143.2,146.6 1144.7,143.9 1146.8,142.1 C1148.7,140.5 1151.4,138.9 1153.4,138.8 C1154.9,138.7 1156.3,139.5 1157.5,140.4 C1158.8,141.4 1159.8,144.8 1160.8,144.6 C1162.1,144.4 1162.2,137.7 1164,135.5 C1165.6,133.5 1167,132.4 1170.6,131.4 C1181.9,128.2 1222.8,131.2 1246.3,131.4 C1266.8,131.5 1283.4,132.2 1303.9,132.2 C1327.4,132.2 1366,130.9 1379.6,131.4 C1384.7,131.6 1387.2,131.1 1390,132.2 C1392.3,133.1 1393.8,134.7 1395.7,136.5 C1398.1,138.8 1400.7,145.2 1402.9,145.1 C1405,145 1406.3,138.8 1408.6,136.5 C1410.7,134.4 1412.5,132.5 1415.8,131.5 C1421.3,129.9 1431.5,132.2 1440,132.2 C1449.5,132.2 1459.9,131.5 1470,131.3 C1480.4,131.1 1496.6,128.7 1501.8,130.8 C1503.9,131.6 1504.5,132.6 1505.4,134.4 C1507,137.7 1506.8,143.9 1507.5,150.2 C1508.5,159.7 1509.4,175 1510.4,186 C1511.3,195.3 1511.2,207.7 1513.2,211.8 C1514,213.4 1515.2,214.8 1516.1,214.6 C1517.9,214.1 1518.9,199 1520.4,198.9 C1521.6,198.9 1522.3,205.8 1524,208.9 C1525.7,212 1528.5,217.7 1530.4,217.5 C1532.6,217.3 1534.2,204.7 1536.2,204.6 C1538,204.5 1540.1,214.4 1541.9,214.6 C1543.2,214.7 1544.6,212.5 1545.5,210.3 C1547.4,205.7 1546.8,194.6 1547.6,186 C1548.5,176.2 1548.9,162.9 1550.5,154.5 C1551.6,148.7 1552.3,144 1554.8,140.1 C1557.2,136.4 1561.6,131.8 1564.8,131.5 C1567.3,131.3 1570.2,133.4 1572,135.8 C1574.5,139 1574.9,144.4 1576.3,150.2 C1578.3,158.6 1580.2,171.2 1582,181.7 C1583.8,192.2 1584.8,213 1587,213.2 C1588.4,213.4 1590.7,205.5 1592,200.3 C1593.9,192.7 1594.4,180 1595.6,171.7 C1596.6,165.2 1596.5,155.4 1598.5,154.5 C1599.5,154.1 1600.7,156 1602.1,156.6 C1603.9,157.3 1607,158.9 1608.5,158 C1610.5,156.8 1610.1,150.9 1611.4,147.3 C1612.7,143.5 1614.6,136 1616.4,135.8 C1617.8,135.6 1619.6,139.1 1620.7,141.6 C1622.2,144.9 1622.1,151.2 1623.6,154.5 C1624.7,156.9 1626.8,157.8 1627.9,160.2 C1629.4,163.3 1629.1,169 1630.8,171.7 C1632.1,173.7 1634.7,173.7 1635.8,176 C1637.7,179.8 1636.7,194.6 1637.2,194.6 C1637.7,194.6 1638,181.7 1638.7,174.5 C1639.6,166.1 1640.3,154.9 1642.2,147.3 C1643.7,141.4 1645.8,132.5 1648,132.2 C1649.7,132 1652.2,136.3 1653.7,139.8 C1656.1,145.4 1656.5,156.6 1658,163.7 C1659.3,169.6 1659.4,177.5 1662,179.6 C1663.7,180.9 1667.1,178.4 1668.6,179.6 C1670.6,181.1 1670.3,186.6 1671.2,190.2 C1672.2,194.1 1672.8,202 1674.5,202.2 C1676.3,202.4 1679.8,190.1 1681.8,190.2 C1683.5,190.3 1684.7,195.6 1685.8,199.5 C1687.6,205.5 1688.1,217.2 1689.8,223.4 C1691,227.5 1692.6,229.4 1693.8,233.3 C1695.4,238.7 1696.6,245.7 1697.8,253.2 C1699.3,262.8 1700.7,275.2 1701.8,286.3 C1702.9,297.3 1702.8,319.2 1704.4,319.5 C1705.1,319.6 1706.4,316.2 1707.1,312.9 C1708.9,304.5 1708.2,279.7 1709,266.4 C1709.6,256.4 1710.3,250.1 1711,240 C1711.9,226.6 1712.5,207.7 1713.7,192.9 C1714.8,179.8 1715.8,162.4 1717.7,155.7 C1718.5,153 1719,151.9 1720.3,150.4 C1721.6,148.8 1724,148.1 1725.6,146.4 C1727.4,144.5 1729,138.9 1730.3,139.1 C1731.7,139.3 1732.7,144.6 1733.6,149.1 C1735.3,157.5 1735.7,186.3 1736.9,186.3 C1737.9,186.3 1738.2,161.7 1740.2,161 C1741,160.7 1742.1,162.2 1742.9,163.7 C1744.9,167.6 1744.3,181.5 1746.9,187.6 C1748.8,192.1 1752.6,198.2 1754.8,198.2 C1756.4,198.2 1757.6,195.5 1758.8,192.9 C1761.2,187.6 1762.3,172.8 1764.1,166.3 C1765.2,162.4 1766.3,157 1767.4,157.1 C1768.8,157.2 1770.2,173.1 1771.4,173 C1773,172.9 1771.9,149.1 1775.4,145.1 C1777.2,143 1780.5,144.3 1782.7,143.1 C1785.1,141.8 1787.2,137.3 1789.3,137.2 C1791.1,137.1 1793.2,138.7 1794.6,141.1 C1797.7,146.4 1797.2,173 1798.6,173 C1799.9,173 1800,153.6 1802.6,147.8 C1804.3,144.1 1806.7,142.4 1809.2,139.8 C1811.9,136.9 1816.3,130.6 1818.5,131.2 C1820.8,131.8 1820,141.6 1822.5,143.8 C1824.5,145.5 1828.7,146.2 1830.5,145.1 C1832.4,143.9 1831.2,137.5 1833.1,136.5 C1835.3,135.4 1840.2,141 1843.7,140.5 C1847.7,139.9 1852.4,130.9 1855.7,131.2 C1858.4,131.4 1859.7,137.3 1862.3,138.5 C1864.6,139.5 1868.5,139.7 1870.3,138.5 C1872,137.4 1871.5,132.3 1872.9,131.8 C1874.2,131.3 1876.4,134.5 1878.2,134.5 C1880.1,134.5 1882.2,132.3 1884.2,131.2" fill="none" stroke="#0070c0" stroke-width="3.8" stroke-linejoin="round" stroke-linecap="round" />
<defs><clipPath id="clipI"><rect x="0" y="1400" width="53.6" height="330"/></clipPath></defs>
<line x1="92.8" y1="1933.2" x2="941.5" y2="1933.2" stroke="#333" stroke-width="2.2" stroke-linecap="butt"/>
<line x1="101.7" y1="1933.2" x2="101.7" y2="1939.2" stroke="#333" stroke-width="1.6" stroke-linecap="butt"/>
<line x1="130.1" y1="1933.2" x2="130.1" y2="1936.7" stroke="#333" stroke-width="1.6" stroke-linecap="butt"/>
<line x1="158.4" y1="1933.2" x2="158.4" y2="1936.7" stroke="#333" stroke-width="1.6" stroke-linecap="butt"/>
<line x1="186.8" y1="1933.2" x2="186.8" y2="1936.7" stroke="#333" stroke-width="1.6" stroke-linecap="butt"/>
<line x1="215.1" y1="1933.2" x2="215.1" y2="1936.7" stroke="#333" stroke-width="1.6" stroke-linecap="butt"/>
<line x1="243.5" y1="1933.2" x2="243.5" y2="1939.2" stroke="#333" stroke-width="1.6" stroke-linecap="butt"/>
<line x1="271.5" y1="1933.2" x2="271.5" y2="1936.7" stroke="#333" stroke-width="1.6" stroke-linecap="butt"/>
<line x1="299.5" y1="1933.2" x2="299.5" y2="1936.7" stroke="#333" stroke-width="1.6" stroke-linecap="butt"/>
<line x1="327.6" y1="1933.2" x2="327.6" y2="1936.7" stroke="#333" stroke-width="1.6" stroke-linecap="butt"/>
<line x1="355.6" y1="1933.2" x2="355.6" y2="1936.7" stroke="#333" stroke-width="1.6" stroke-linecap="butt"/>
<line x1="383.6" y1="1933.2" x2="383.6" y2="1939.2" stroke="#333" stroke-width="1.6" stroke-linecap="butt"/>
<line x1="411.7" y1="1933.2" x2="411.7" y2="1936.7" stroke="#333" stroke-width="1.6" stroke-linecap="butt"/>
<line x1="439.7" y1="1933.2" x2="439.7" y2="1936.7" stroke="#333" stroke-width="1.6" stroke-linecap="butt"/>
<line x1="467.8" y1="1933.2" x2="467.8" y2="1936.7" stroke="#333" stroke-width="1.6" stroke-linecap="butt"/>
<line x1="495.8" y1="1933.2" x2="495.8" y2="1936.7" stroke="#333" stroke-width="1.6" stroke-linecap="butt"/>
<line x1="523.9" y1="1933.2" x2="523.9" y2="1939.2" stroke="#333" stroke-width="1.6" stroke-linecap="butt"/>
<line x1="552.3" y1="1933.2" x2="552.3" y2="1936.7" stroke="#333" stroke-width="1.6" stroke-linecap="butt"/>
<line x1="580.7" y1="1933.2" x2="580.7" y2="1936.7" stroke="#333" stroke-width="1.6" stroke-linecap="butt"/>
<line x1="609.2" y1="1933.2" x2="609.2" y2="1936.7" stroke="#333" stroke-width="1.6" stroke-linecap="butt"/>
<line x1="637.6" y1="1933.2" x2="637.6" y2="1936.7" stroke="#333" stroke-width="1.6" stroke-linecap="butt"/>
<line x1="666" y1="1933.2" x2="666" y2="1939.2" stroke="#333" stroke-width="1.6" stroke-linecap="butt"/>
<line x1="693.7" y1="1933.2" x2="693.7" y2="1936.7" stroke="#333" stroke-width="1.6" stroke-linecap="butt"/>
<line x1="721.4" y1="1933.2" x2="721.4" y2="1936.7" stroke="#333" stroke-width="1.6" stroke-linecap="butt"/>
<line x1="749.1" y1="1933.2" x2="749.1" y2="1936.7" stroke="#333" stroke-width="1.6" stroke-linecap="butt"/>
<line x1="776.8" y1="1933.2" x2="776.8" y2="1936.7" stroke="#333" stroke-width="1.6" stroke-linecap="butt"/>
<line x1="804.5" y1="1933.2" x2="804.5" y2="1939.2" stroke="#333" stroke-width="1.6" stroke-linecap="butt"/>
<line x1="832.2" y1="1933.2" x2="832.2" y2="1936.7" stroke="#333" stroke-width="1.6" stroke-linecap="butt"/>
<line x1="859.9" y1="1933.2" x2="859.9" y2="1936.7" stroke="#333" stroke-width="1.6" stroke-linecap="butt"/>
<line x1="887.6" y1="1933.2" x2="887.6" y2="1936.7" stroke="#333" stroke-width="1.6" stroke-linecap="butt"/>
<line x1="915.3" y1="1933.2" x2="915.3" y2="1936.7" stroke="#333" stroke-width="1.6" stroke-linecap="butt"/>
<polygon points="108.8,1888.1 110.1,1887.6 111.4,1887.8 112.7,1885.7 114,1888.8 115.3,1885.1 116.6,1886.2 117.9,1888.2 119.2,1888.1 120.5,1888.4 121.8,1886.2 123.1,1883 124.4,1879.6 125.7,1887.7 127,1880.7 128.3,1888.7 129.6,1885.1 130.9,1888.4 132.2,1881.6 133.5,1888.2 134.8,1888.9 136.1,1886.4 137.4,1887.4 138.7,1885.9 140,1885.1 141.3,1885.2 142.6,1888.9 143.9,1889.1 145.2,1888.2 146.5,1882.7 147.8,1887.4 149.1,1887 150.4,1886.9 151.7,1889 153,1885.9 154.3,1888.1 155.6,1886.9 156.9,1886.6 158.2,1885 159.5,1888.9 160.8,1888.9 162.1,1886.2 163.4,1889.1 164.7,1887.5 166,1889 167.3,1888.2 168.6,1886.2 169.9,1887.9 171.2,1889 172.5,1885.2 173.8,1887.4 175.1,1888.8 176.4,1887.8 177.7,1887.8 179,1888.3 180.3,1888.5 181.6,1887.9 182.9,1884.2 184.2,1887.6 185.5,1885 186.8,1886.6 188.1,1889.1 189.4,1887 190.7,1888.5 192,1887.2 193.3,1887.1 194.6,1881.3 195.9,1888.4 197.2,1884.9 198.5,1889 199.8,1883.7 201.1,1886.5 202.4,1887.3 203.7,1887.8 205,1884.4 206.3,1888.2 207.6,1886.5 208.9,1888.2 210.2,1887.7 211.5,1886.6 212.8,1886.1 214.1,1888.4 215.4,1889.1 216.7,1888.7 218,1885.4 219.3,1885.5 220.6,1889.2 221.9,1885.7 223.2,1885.6 224.5,1886.5 225.8,1883.9 227.1,1887.3 228.4,1887.8 229.7,1884.8 231,1885.7 232.3,1887.8 233.6,1888.2 234.9,1887.7 236.2,1886.8 237.5,1886.4 238.8,1888.4 240.1,1889 241.4,1884.9 242.7,1887 244,1884.9 245.3,1884 246.6,1887.4 247.9,1884.5 249.2,1887.2 250.5,1885.2 251.8,1886.1 253.1,1885 254.4,1887.4 255.7,1885.6 257,1888.4 258.3,1888.8 259.6,1884.8 260.9,1887.7 262.2,1883.2 263.5,1885.9 264.8,1888.9 266.1,1888 267.4,1886.3 268.7,1888.5 270,1887.9 271.3,1884 272.6,1889.1 273.9,1888.9 275.2,1888.2 276.5,1887.8 277.8,1889.2 279.1,1888.7 280.4,1889.2 281.7,1889 283,1886.7 284.3,1888.6 285.6,1886 286.9,1887.6 288.2,1884.1 289.5,1888.9 290.8,1889 292.1,1882.6 293.4,1888.9 294.7,1886 296,1888 297.3,1886.5 298.6,1887.2 299.9,1885.6 301.2,1888.9 302.5,1885.8 303.8,1888 305.1,1885.9 306.4,1888.5 307.7,1888.9 309,1884.6 310.3,1888 311.6,1888.5 312.9,1887.9 314.2,1888.5 315.5,1886.2 316.8,1887.1 318.1,1888.8 319.4,1889.1 320.7,1886.4 322,1888.5 323.3,1889 324.6,1883.1 325.9,1884.7 327.2,1883.3 328.5,1884.2 329.8,1885.3 331.1,1887.6 332.4,1888.2 333.7,1888.6 335,1888.1 336.3,1888 337.6,1883.5 338.9,1888.6 340.2,1886.9 341.5,1885.9 342.8,1888.9 344.1,1883.3 345.4,1888.1 346.7,1885.8 348,1887.9 349.3,1886.4 350.6,1886.3 351.9,1888.2 353.2,1884.8 354.5,1885.8 355.8,1888.1 357.1,1884.8 358.4,1882.8 359.7,1883.9 361,1885.1 362.3,1888.9 363.6,1887.8 364.9,1887.8 366.2,1886.8 367.5,1888.8 368.8,1888.1 370.1,1887.6 371.4,1885.9 372.7,1883.8 374,1889.1 375.3,1886.6 376.6,1888.9 377.9,1883.7 379.2,1886.9 380.5,1885.3 381.8,1887.6 383.1,1887.9 384.4,1887.4 385.7,1886.4 387,1887.9 388.3,1886.5 389.6,1887.3 390.9,1888 392.2,1888.3 393.5,1889.2 394.8,1888.3 396.1,1884.1 397.4,1888.1 398.7,1888.8 400,1882.7 401.3,1887.4 402.6,1888.1 403.9,1886.9 405.2,1888.3 406.5,1889 407.8,1888.8 409.1,1889.1 410.4,1886.1 411.7,1885.5 413,1884.5 414.3,1884.4 415.6,1887.4 416.9,1886.6 418.2,1889 419.5,1886.6 420.8,1887.3 422.1,1886.1 423.4,1888.4 424.7,1888.4 426,1887.1 427.3,1889 428.6,1886.3 429.9,1888.7 431.2,1885.4 432.5,1885.6 433.8,1884.8 435.1,1888.3 436.4,1887.5 437.7,1888.2 439,1887.1 440.3,1888.6 441.6,1887.2 442.9,1887.7 444.2,1886.9 445.5,1886.4 446.8,1882.9 448.1,1882 449.4,1885.8 450.7,1885.3 452,1887.4 453.3,1888.1 454.6,1889 455.9,1887.7 457.2,1888 458.5,1888.8 459.8,1887.6 461.1,1888.3 462.4,1887.5 463.7,1889.1 465,1889 466.3,1885.8 467.6,1886.6 468.9,1881.6 470.2,1884.2 471.5,1886.7 472.8,1888.8 474.1,1883.4 475.4,1885.8 476.7,1885.9 478,1888.6 479.3,1888.2 480.6,1886.9 481.9,1887.8 483.2,1887.7 484.5,1886.3 485.8,1886.5 487.1,1887.3 488.4,1886.7 489.7,1888.9 491,1885 492.3,1887.2 493.6,1887.3 494.9,1884.8 496.2,1883 497.5,1886.5 498.8,1884.1 500.1,1884.5 501.4,1884.7 502.7,1884.5 504,1886.4 505.3,1884 506.6,1888.5 507.9,1888.3 509.2,1888.4 510.5,1888.7 511.8,1881.5 513.1,1887.8 514.4,1885.5 515.7,1883.6 517,1887.4 518.3,1889 519.6,1887.7 520.9,1886.6 522.2,1888.9 523.5,1886.7 524.8,1885.8 526.1,1886 527.4,1886.6 528.7,1887.1 530,1886.4 531.3,1887.3 532.6,1885 533.9,1888.3 535.2,1886.2 536.5,1889 537.8,1886.2 539.1,1887.7 540.4,1885.9 541.7,1886.7 543,1887.9 544.3,1886.8 545.6,1887.8 546.9,1888.3 548.2,1885.9 549.5,1886.8 550.8,1889.2 552.1,1882.3 553.4,1887 554.7,1883.3 556,1887.5 557.3,1888 558.6,1888.1 559.9,1881 561.2,1886.4 562.5,1888.5 563.8,1884 565.1,1886.7 566.4,1888 567.7,1888 569,1887.9 570.3,1888.1 571.6,1885.3 572.9,1881 574.2,1889 575.5,1888.3 576.8,1887.2 578.1,1887.9 579.4,1887 580.7,1887.6 582,1887.3 583.3,1888.1 584.6,1885.6 585.9,1887.5 587.2,1885.3 588.5,1887.9 589.8,1888.2 591.1,1884.6 592.4,1888.8 593.7,1887.3 595,1884.4 596.3,1887.6 597.6,1884 598.9,1888.2 600.2,1888.7 601.5,1889 602.8,1886.8 604.1,1888.6 605.4,1886.1 606.7,1888.5 608,1887.7 609.3,1882.8 610.6,1886.6 611.9,1889.1 613.2,1889.1 614.5,1882.9 615.8,1887.1 617.1,1887.4 618.4,1887.4 619.7,1886.4 621,1883.9 622.3,1884.2 623.6,1885.8 624.9,1888.5 626.2,1885.4 627.5,1885.2 628.8,1889.2 630.1,1884.9 631.4,1888.9 632.7,1888.1 634,1886.3 635.3,1886.9 636.6,1888 637.9,1888.2 639.2,1887.7 640.5,1888.6 641.8,1887.7 643.1,1889 644.4,1887.9 645.7,1887.1 647,1883.7 648.3,1884.3 649.6,1888.5 650.9,1887.3 652.2,1884.3 653.5,1886.1 654.8,1888.6 656.1,1885.8 657.4,1885.3 658.7,1888.4 660,1887.1 661.3,1885.3 662.6,1883.8 663.9,1885.8 665.2,1886.5 666.5,1886.6 667.8,1884.7 669.1,1887.8 670.4,1886.7 671.7,1885.8 673,1886.4 674.3,1886.6 675.6,1882.9 676.9,1888.5 678.2,1886 679.5,1889.1 680.8,1888.1 682.1,1887.2 683.4,1889.1 684.7,1888.6 686,1888.2 687.3,1889 688.6,1887 689.9,1881.9 691.2,1886.9 692.5,1883.2 693.8,1886.4 695.1,1887.8 696.4,1885.5 697.7,1888.9 699,1884.3 700.3,1888.9 701.6,1886.8 702.9,1887 704.2,1888.1 705.5,1887.2 706.8,1886.6 708.1,1882.2 709.4,1887.8 710.7,1888.7 712,1885.2 713.3,1886.1 714.6,1889 715.9,1886.1 717.2,1887.2 718.5,1886.9 719.8,1886.2 721.1,1887.8 722.4,1888.7 723.7,1889.2 725,1888.6 726.3,1888.3 727.6,1884.9 728.9,1886.6 730.2,1888.9 731.5,1884.3 732.8,1888.3 734.1,1888.1 735.4,1885.3 736.7,1889.1 738,1886.4 739.3,1888.4 740.6,1889.2 741.9,1887.3 743.2,1888.3 744.5,1887.6 745.8,1887.7 747.1,1888.5 748.4,1882.4 749.7,1888.5 751,1885.7 752.3,1883.8 753.6,1887.3 754.9,1888.9 756.2,1888.7 757.5,1888.9 758.8,1888.2 760.1,1883.1 761.4,1882.2 762.7,1888.2 764,1888.4 765.3,1887 766.6,1886.3 767.9,1883.1 769.2,1887.1 770.5,1887.3 771.8,1886.1 773.1,1886 774.4,1887.4 775.7,1889.2 777,1887.6 778.3,1887 779.6,1887 780.9,1884.5 782.2,1885.8 783.5,1887.2 784.8,1888.2 786.1,1884.6 787.4,1888 788.7,1886.8 790,1888.2 791.3,1888.6 792.6,1885.6 793.9,1888.8 795.2,1887.5 796.5,1886.4 797.8,1886.3 799.1,1884.8 800.4,1888.7 801.7,1887.9 803,1883.7 804.3,1885 805.6,1886.6 806.9,1888.8 808.2,1888.2 809.5,1883.6 810.8,1887.1 812.1,1887.9 813.4,1888 814.7,1886.2 816,1889.1 817.3,1888.3 818.6,1887.5 819.9,1883 821.2,1885 822.5,1889.1 823.8,1889 825.1,1887.8 826.4,1885.5 827.7,1882.1 829,1884.8 830.3,1886.7 831.6,1886.6 832.9,1886.5 834.2,1888.4 835.5,1885 836.8,1884.9 838.1,1883.9 839.4,1888.5 840.7,1886.1 842,1887.5 843.3,1888.9 844.6,1886.4 845.9,1884.4 847.2,1887.8 848.5,1886 849.8,1886.1 851.1,1887.3 852.4,1888.1 853.7,1886.2 855,1886.3 856.3,1884.2 857.6,1886.6 858.9,1887.5 860.2,1888.8 861.5,1888.3 862.8,1888.8 864.1,1888 865.4,1888 866.7,1887.4 868,1885.8 869.3,1886.1 870.6,1887.5 871.9,1883.7 873.2,1887.1 874.5,1886.6 875.8,1886.8 877.1,1884.3 878.4,1884.9 879.7,1886.6 881,1885.7 882.3,1888.6 883.6,1886.6 884.9,1885.3 886.2,1889.1 887.5,1888.4 888.8,1887.4 890.1,1885.2 891.4,1886.6 892.7,1888 894,1888.7 895.3,1885.4 896.6,1884.9 897.9,1888.9 899.2,1888.5 900.5,1887.8 901.8,1889 903.1,1887.9 904.4,1887.8 905.7,1885.9 907,1887.7 908.3,1885.7 909.6,1884 910.9,1887.6 912.2,1888.8 913.5,1886.8 914.8,1887.7 916.1,1888.9 917.4,1888.3 918.7,1888.2 920,1886.8 921.3,1885.2 922.6,1888.7 923.9,1887.9 925.2,1887.1 926.5,1888.6 927.8,1884.9 929.1,1888.5 930.4,1887.7 931.7,1888.7 933,1889 934.3,1888.4 935.6,1888.3 936.9,1886.2 938.2,1886.7 939.5,1888.1 940.8,1888.5 940.8,1913.6 939.5,1913.1 938.2,1912.7 936.9,1916.1 935.6,1916.3 934.3,1915.3 933,1911.9 931.7,1912.9 930.4,1911.2 929.1,1914.2 927.8,1912.9 926.5,1916.2 925.2,1912.8 923.9,1912 922.6,1914.4 921.3,1911.5 920,1912.5 918.7,1914.4 917.4,1912.6 916.1,1912.2 914.8,1913.4 913.5,1911.6 912.2,1911.8 910.9,1912.8 909.6,1912.7 908.3,1911.4 907,1912.4 905.7,1913.2 904.4,1914.2 903.1,1914.4 901.8,1913.1 900.5,1916.6 899.2,1913.2 897.9,1913.3 896.6,1911.3 895.3,1913.7 894,1911.3 892.7,1912.7 891.4,1914.5 890.1,1913.2 888.8,1911.3 887.5,1916.6 886.2,1914 884.9,1912.7 883.6,1913.3 882.3,1912.2 881,1914.1 879.7,1915.2 878.4,1914.5 877.1,1914.8 875.8,1913.4 874.5,1912.6 873.2,1917 871.9,1913.6 870.6,1917.1 869.3,1920.5 868,1912 866.7,1912.7 865.4,1911.6 864.1,1915.3 862.8,1917.8 861.5,1912.4 860.2,1913.5 858.9,1911.3 857.6,1914.3 856.3,1917.6 855,1917.2 853.7,1911.7 852.4,1915.9 851.1,1912.8 849.8,1911.7 848.5,1912.3 847.2,1912.5 845.9,1912.7 844.6,1912.8 843.3,1915.7 842,1911.3 840.7,1913.9 839.4,1918.4 838.1,1913.3 836.8,1912.4 835.5,1912.2 834.2,1914.5 832.9,1913.5 831.6,1914.8 830.3,1911.2 829,1912.7 827.7,1911.7 826.4,1917.5 825.1,1915 823.8,1913.4 822.5,1911.4 821.2,1912.7 819.9,1916.8 818.6,1914.6 817.3,1913.8 816,1915.5 814.7,1912.4 813.4,1913.2 812.1,1912.6 810.8,1914.7 809.5,1911.3 808.2,1916.2 806.9,1911.2 805.6,1911.9 804.3,1915.7 803,1912.2 801.7,1913.2 800.4,1915.3 799.1,1916.5 797.8,1911.6 796.5,1912.4 795.2,1913.8 793.9,1913.7 792.6,1913.7 791.3,1915.9 790,1913.3 788.7,1914.4 787.4,1913.1 786.1,1913.5 784.8,1916.4 783.5,1913.3 782.2,1912.3 780.9,1915.2 779.6,1912.5 778.3,1918.9 777,1912.4 775.7,1914.7 774.4,1912.8 773.1,1917.3 771.8,1915.8 770.5,1911.9 769.2,1915.4 767.9,1912.1 766.6,1915.3 765.3,1912.8 764,1914.2 762.7,1913.7 761.4,1915.2 760.1,1914.8 758.8,1913.2 757.5,1913.9 756.2,1912.5 754.9,1914.1 753.6,1913 752.3,1914 751,1911.6 749.7,1912 748.4,1913.5 747.1,1912.4 745.8,1912.5 744.5,1914.3 743.2,1912.1 741.9,1911.8 740.6,1911.7 739.3,1911.9 738,1912.6 736.7,1914.3 735.4,1912.7 734.1,1913.9 732.8,1912.6 731.5,1915.9 730.2,1911.8 728.9,1912.5 727.6,1911.3 726.3,1911.2 725,1912.8 723.7,1912.1 722.4,1915.6 721.1,1914.3 719.8,1915 718.5,1914.4 717.2,1911.7 715.9,1911.7 714.6,1914.3 713.3,1915.4 712,1912.8 710.7,1913.6 709.4,1914.4 708.1,1914.8 706.8,1912.2 705.5,1912.7 704.2,1912.1 702.9,1913.9 701.6,1912.9 700.3,1915.4 699,1914.4 697.7,1912.8 696.4,1911.3 695.1,1911.9 693.8,1914.4 692.5,1914.6 691.2,1914 689.9,1913.3 688.6,1911.9 687.3,1915.6 686,1912.1 684.7,1912.3 683.4,1914.1 682.1,1913.6 680.8,1911.3 679.5,1917.8 678.2,1917.5 676.9,1913.2 675.6,1911.4 674.3,1916.6 673,1915.2 671.7,1915.5 670.4,1911.8 669.1,1911.8 667.8,1915.2 666.5,1913.2 665.2,1913.7 663.9,1912.5 662.6,1912.4 661.3,1914.1 660,1912.7 658.7,1912.9 657.4,1914.1 656.1,1912.6 654.8,1911.8 653.5,1918.9 652.2,1912.3 650.9,1912 649.6,1913.7 648.3,1914.2 647,1914.7 645.7,1911.6 644.4,1912.7 643.1,1914.9 641.8,1916.7 640.5,1914.1 639.2,1916.2 637.9,1912.1 636.6,1912.1 635.3,1915 634,1915.4 632.7,1911.6 631.4,1913 630.1,1913.6 628.8,1912.5 627.5,1912.4 626.2,1912.7 624.9,1914.7 623.6,1911.8 622.3,1915.3 621,1914.2 619.7,1914.2 618.4,1913.6 617.1,1911.7 615.8,1911.4 614.5,1914.8 613.2,1914.8 611.9,1916.3 610.6,1912.5 609.3,1911.8 608,1911.6 606.7,1912.9 605.4,1913.4 604.1,1913.7 602.8,1915 601.5,1914.9 600.2,1912.8 598.9,1916.8 597.6,1914 596.3,1912.6 595,1914.5 593.7,1912.8 592.4,1911.4 591.1,1911.5 589.8,1917.3 588.5,1915.4 587.2,1916.2 585.9,1911.7 584.6,1914.3 583.3,1912.3 582,1913.3 580.7,1916.2 579.4,1912.9 578.1,1913 576.8,1913.2 575.5,1912 574.2,1914.1 572.9,1913.1 571.6,1911.8 570.3,1912.7 569,1911.9 567.7,1914.6 566.4,1912.8 565.1,1914.8 563.8,1914.4 562.5,1915.4 561.2,1912.1 559.9,1911.8 558.6,1914.4 557.3,1914.6 556,1912.6 554.7,1916.4 553.4,1914.2 552.1,1915.9 550.8,1913.2 549.5,1914.2 548.2,1912.9 546.9,1912.5 545.6,1918.1 544.3,1911.4 543,1914.7 541.7,1916 540.4,1914.3 539.1,1915.5 537.8,1914.4 536.5,1914.3 535.2,1911.3 533.9,1911.8 532.6,1918.1 531.3,1915.8 530,1913.3 528.7,1913.5 527.4,1916.4 526.1,1911.9 524.8,1914 523.5,1914.6 522.2,1914 520.9,1913.1 519.6,1912.3 518.3,1914 517,1914.7 515.7,1915.5 514.4,1913 513.1,1912.9 511.8,1913.5 510.5,1911.3 509.2,1918.8 507.9,1913.7 506.6,1912.8 505.3,1913.3 504,1917.5 502.7,1912.7 501.4,1912.3 500.1,1912 498.8,1915.5 497.5,1914.2 496.2,1911.4 494.9,1913.8 493.6,1913.9 492.3,1915.5 491,1912.8 489.7,1912.1 488.4,1912 487.1,1919.3 485.8,1912.7 484.5,1914.6 483.2,1913.3 481.9,1913.2 480.6,1911.3 479.3,1915 478,1912 476.7,1914.4 475.4,1915.2 474.1,1913.9 472.8,1913.7 471.5,1913.1 470.2,1912.5 468.9,1912.2 467.6,1913.9 466.3,1913.1 465,1911.6 463.7,1915.6 462.4,1913.4 461.1,1915.6 459.8,1912.1 458.5,1915.5 457.2,1913.5 455.9,1912.3 454.6,1912.8 453.3,1920.7 452,1911.5 450.7,1911.7 449.4,1911.3 448.1,1912.2 446.8,1911.9 445.5,1914.2 444.2,1912 442.9,1911.7 441.6,1912.6 440.3,1911.6 439,1911.2 437.7,1913.4 436.4,1915.5 435.1,1915.4 433.8,1911.6 432.5,1911.8 431.2,1912.2 429.9,1914.2 428.6,1913.1 427.3,1911.6 426,1913.3 424.7,1912.5 423.4,1911.7 422.1,1917.5 420.8,1911.9 419.5,1911.6 418.2,1911.5 416.9,1914.7 415.6,1913.3 414.3,1914.4 413,1914.1 411.7,1914.4 410.4,1912.2 409.1,1912.4 407.8,1914.7 406.5,1912.6 405.2,1917.1 403.9,1915.8 402.6,1914.1 401.3,1913.4 400,1912.1 398.7,1912.5 397.4,1917.9 396.1,1912.3 394.8,1913.9 393.5,1911.4 392.2,1914.2 390.9,1913 389.6,1912.2 388.3,1912.3 387,1911.4 385.7,1916.6 384.4,1917.4 383.1,1913.6 381.8,1912.4 380.5,1914.3 379.2,1913.6 377.9,1912.2 376.6,1915.6 375.3,1912.7 374,1912.4 372.7,1915.2 371.4,1912.7 370.1,1912.4 368.8,1911.5 367.5,1915.1 366.2,1912.1 364.9,1912.2 363.6,1912.1 362.3,1911.5 361,1911.2 359.7,1912.3 358.4,1914 357.1,1915.5 355.8,1912.6 354.5,1911.3 353.2,1911.8 351.9,1917.8 350.6,1915.8 349.3,1915.9 348,1916.1 346.7,1913.1 345.4,1913.3 344.1,1918.3 342.8,1912.5 341.5,1913.9 340.2,1915.6 338.9,1913.1 337.6,1912.3 336.3,1912.2 335,1911.2 333.7,1914 332.4,1913.2 331.1,1916.6 329.8,1911.5 328.5,1916.1 327.2,1914.2 325.9,1914.8 324.6,1912.2 323.3,1914 322,1911.8 320.7,1913 319.4,1914.3 318.1,1914.5 316.8,1912.8 315.5,1913.2 314.2,1911.6 312.9,1911.4 311.6,1915 310.3,1912.4 309,1917.7 307.7,1913.7 306.4,1912.4 305.1,1911.6 303.8,1912.1 302.5,1914.2 301.2,1912.5 299.9,1912.4 298.6,1911.4 297.3,1911.3 296,1918.4 294.7,1911.5 293.4,1913.7 292.1,1914.4 290.8,1913 289.5,1914.4 288.2,1911.3 286.9,1916.5 285.6,1911.9 284.3,1913.3 283,1914.4 281.7,1914.2 280.4,1911.7 279.1,1914.2 277.8,1911.5 276.5,1911.6 275.2,1914.2 273.9,1911.8 272.6,1911.3 271.3,1916.5 270,1912.8 268.7,1913.3 267.4,1914 266.1,1915.9 264.8,1913.6 263.5,1912.3 262.2,1913.5 260.9,1912.4 259.6,1912.1 258.3,1913.3 257,1914.3 255.7,1915.2 254.4,1914.3 253.1,1914.5 251.8,1913.1 250.5,1911.4 249.2,1913.1 247.9,1915.3 246.6,1911.3 245.3,1913 244,1912.2 242.7,1914.9 241.4,1912.5 240.1,1912.4 238.8,1911.4 237.5,1915.6 236.2,1913.5 234.9,1912.6 233.6,1915.7 232.3,1914.8 231,1914.3 229.7,1913.1 228.4,1914 227.1,1911.6 225.8,1911.5 224.5,1911.7 223.2,1913.2 221.9,1911.8 220.6,1914.2 219.3,1914.4 218,1913.3 216.7,1914.1 215.4,1913.2 214.1,1917.3 212.8,1911.5 211.5,1912.2 210.2,1911.5 208.9,1916.5 207.6,1912.6 206.3,1914.9 205,1913 203.7,1911.3 202.4,1912.4 201.1,1914.4 199.8,1918.7 198.5,1912.1 197.2,1914.8 195.9,1913.3 194.6,1911.5 193.3,1912.7 192,1914 190.7,1911.8 189.4,1913.7 188.1,1916.2 186.8,1914.1 185.5,1911.5 184.2,1911.9 182.9,1913 181.6,1911.3 180.3,1913.3 179,1911.8 177.7,1917.1 176.4,1914.3 175.1,1914.2 173.8,1911.8 172.5,1914.2 171.2,1913.8 169.9,1916 168.6,1913.5 167.3,1915.4 166,1912.5 164.7,1914 163.4,1912 162.1,1912.2 160.8,1914.2 159.5,1912.2 158.2,1914 156.9,1911.9 155.6,1911.6 154.3,1918.6 153,1915.1 151.7,1912.1 150.4,1911.9 149.1,1913.4 147.8,1915.1 146.5,1911.9 145.2,1913.3 143.9,1911.3 142.6,1912.5 141.3,1913.3 140,1915.4 138.7,1911.3 137.4,1914.2 136.1,1913.3 134.8,1914.6 133.5,1913.2 132.2,1911.6 130.9,1913.4 129.6,1916.9 128.3,1917 127,1911.7 125.7,1912.7 124.4,1914.2 123.1,1911.4 121.8,1911.2 120.5,1912.5 119.2,1914.1 117.9,1913.1 116.6,1913.1 115.3,1913.7 114,1911.7 112.7,1912.5 111.4,1913.1 110.1,1911.4 108.8,1917.4" fill="#404040"/>
<line x1="881.5" y1="1887.3" x2="881.5" y2="1892.2" stroke="#5a5a5a" stroke-width="1.2" stroke-linecap="butt"/>
<line x1="885.2" y1="1908.2" x2="885.2" y2="1914.6" stroke="#5a5a5a" stroke-width="1.2" stroke-linecap="butt"/>
<line x1="294" y1="1908.2" x2="294" y2="1913.5" stroke="#5a5a5a" stroke-width="1.2" stroke-linecap="butt"/>
<line x1="561.6" y1="1888.7" x2="561.6" y2="1892.2" stroke="#5a5a5a" stroke-width="1.2" stroke-linecap="butt"/>
<line x1="839.6" y1="1908.2" x2="839.6" y2="1916.9" stroke="#5a5a5a" stroke-width="1.2" stroke-linecap="butt"/>
<line x1="364" y1="1888.4" x2="364" y2="1892.2" stroke="#5a5a5a" stroke-width="1.2" stroke-linecap="butt"/>
<line x1="363.3" y1="1888.1" x2="363.3" y2="1892.2" stroke="#5a5a5a" stroke-width="1.2" stroke-linecap="butt"/>
<line x1="329.1" y1="1884.1" x2="329.1" y2="1892.2" stroke="#5a5a5a" stroke-width="1.2" stroke-linecap="butt"/>
<line x1="480.4" y1="1908.2" x2="480.4" y2="1911.5" stroke="#5a5a5a" stroke-width="1.2" stroke-linecap="butt"/>
<line x1="265.7" y1="1908.2" x2="265.7" y2="1911.5" stroke="#5a5a5a" stroke-width="1.2" stroke-linecap="butt"/>
<line x1="166.6" y1="1908.2" x2="166.6" y2="1912.9" stroke="#5a5a5a" stroke-width="1.2" stroke-linecap="butt"/>
<line x1="270.5" y1="1908.2" x2="270.5" y2="1914.9" stroke="#5a5a5a" stroke-width="1.2" stroke-linecap="butt"/>
<line x1="265.4" y1="1908.2" x2="265.4" y2="1913.9" stroke="#5a5a5a" stroke-width="1.2" stroke-linecap="butt"/>
<line x1="813.6" y1="1887.8" x2="813.6" y2="1892.2" stroke="#5a5a5a" stroke-width="1.2" stroke-linecap="butt"/>
<line x1="579.3" y1="1884.1" x2="579.3" y2="1892.2" stroke="#5a5a5a" stroke-width="1.2" stroke-linecap="butt"/>
<line x1="914.9" y1="1884.6" x2="914.9" y2="1892.2" stroke="#5a5a5a" stroke-width="1.2" stroke-linecap="butt"/>
<line x1="316.2" y1="1908.2" x2="316.2" y2="1912.5" stroke="#5a5a5a" stroke-width="1.2" stroke-linecap="butt"/>
<line x1="113.7" y1="1886.4" x2="113.7" y2="1892.2" stroke="#5a5a5a" stroke-width="1.2" stroke-linecap="butt"/>
<line x1="140.7" y1="1908.2" x2="140.7" y2="1915" stroke="#5a5a5a" stroke-width="1.2" stroke-linecap="butt"/>
<line x1="582.4" y1="1908.2" x2="582.4" y2="1913.7" stroke="#5a5a5a" stroke-width="1.2" stroke-linecap="butt"/>
<line x1="846.3" y1="1908.2" x2="846.3" y2="1913.8" stroke="#5a5a5a" stroke-width="1.2" stroke-linecap="butt"/>
<line x1="345.3" y1="1887.3" x2="345.3" y2="1892.2" stroke="#5a5a5a" stroke-width="1.2" stroke-linecap="butt"/>
<line x1="402.8" y1="1883.7" x2="402.8" y2="1892.2" stroke="#5a5a5a" stroke-width="1.2" stroke-linecap="butt"/>
<line x1="323.6" y1="1908.2" x2="323.6" y2="1911.6" stroke="#5a5a5a" stroke-width="1.2" stroke-linecap="butt"/>
<line x1="568.4" y1="1908.2" x2="568.4" y2="1911.7" stroke="#5a5a5a" stroke-width="1.2" stroke-linecap="butt"/>
<line x1="921.1" y1="1887.6" x2="921.1" y2="1892.2" stroke="#5a5a5a" stroke-width="1.2" stroke-linecap="butt"/>
<line x1="722" y1="1883.9" x2="722" y2="1892.2" stroke="#5a5a5a" stroke-width="1.2" stroke-linecap="butt"/>
<line x1="307.1" y1="1885" x2="307.1" y2="1892.2" stroke="#5a5a5a" stroke-width="1.2" stroke-linecap="butt"/>
<line x1="824.9" y1="1908.2" x2="824.9" y2="1912.9" stroke="#5a5a5a" stroke-width="1.2" stroke-linecap="butt"/>
<line x1="550.9" y1="1885.1" x2="550.9" y2="1892.2" stroke="#5a5a5a" stroke-width="1.2" stroke-linecap="butt"/>
<line x1="298.1" y1="1908.2" x2="298.1" y2="1915.5" stroke="#5a5a5a" stroke-width="1.2" stroke-linecap="butt"/>
<line x1="254.4" y1="1887.2" x2="254.4" y2="1892.2" stroke="#5a5a5a" stroke-width="1.2" stroke-linecap="butt"/>
<line x1="883.1" y1="1885.5" x2="883.1" y2="1892.2" stroke="#5a5a5a" stroke-width="1.2" stroke-linecap="butt"/>
<line x1="883.7" y1="1883.5" x2="883.7" y2="1892.2" stroke="#5a5a5a" stroke-width="1.2" stroke-linecap="butt"/>
<line x1="352" y1="1888.6" x2="352" y2="1892.2" stroke="#5a5a5a" stroke-width="1.2" stroke-linecap="butt"/>
<line x1="685.2" y1="1884.2" x2="685.2" y2="1892.2" stroke="#5a5a5a" stroke-width="1.2" stroke-linecap="butt"/>
<line x1="552.6" y1="1908.2" x2="552.6" y2="1913.3" stroke="#5a5a5a" stroke-width="1.2" stroke-linecap="butt"/>
<line x1="597.8" y1="1908.2" x2="597.8" y2="1913.5" stroke="#5a5a5a" stroke-width="1.2" stroke-linecap="butt"/>
<line x1="517.4" y1="1908.2" x2="517.4" y2="1916.8" stroke="#5a5a5a" stroke-width="1.2" stroke-linecap="butt"/>
<line x1="400.5" y1="1884.1" x2="400.5" y2="1892.2" stroke="#5a5a5a" stroke-width="1.2" stroke-linecap="butt"/>
<line x1="481.2" y1="1908.2" x2="481.2" y2="1915.8" stroke="#5a5a5a" stroke-width="1.2" stroke-linecap="butt"/>
<line x1="415.3" y1="1908.2" x2="415.3" y2="1914.5" stroke="#5a5a5a" stroke-width="1.2" stroke-linecap="butt"/>
<line x1="702.8" y1="1908.2" x2="702.8" y2="1914.7" stroke="#5a5a5a" stroke-width="1.2" stroke-linecap="butt"/>
<line x1="897.6" y1="1886.9" x2="897.6" y2="1892.2" stroke="#5a5a5a" stroke-width="1.2" stroke-linecap="butt"/>
<line x1="641.8" y1="1885" x2="641.8" y2="1892.2" stroke="#5a5a5a" stroke-width="1.2" stroke-linecap="butt"/>
<line x1="551.1" y1="1908.2" x2="551.1" y2="1916.2" stroke="#5a5a5a" stroke-width="1.2" stroke-linecap="butt"/>
<line x1="581.3" y1="1908.2" x2="581.3" y2="1915.9" stroke="#5a5a5a" stroke-width="1.2" stroke-linecap="butt"/>
<line x1="822.4" y1="1889.1" x2="822.4" y2="1892.2" stroke="#5a5a5a" stroke-width="1.2" stroke-linecap="butt"/>
<line x1="637.2" y1="1884" x2="637.2" y2="1892.2" stroke="#5a5a5a" stroke-width="1.2" stroke-linecap="butt"/>
<line x1="435" y1="1908.2" x2="435" y2="1912.7" stroke="#5a5a5a" stroke-width="1.2" stroke-linecap="butt"/>
<line x1="632.9" y1="1908.2" x2="632.9" y2="1916.4" stroke="#5a5a5a" stroke-width="1.2" stroke-linecap="butt"/>
<line x1="413.9" y1="1886" x2="413.9" y2="1892.2" stroke="#5a5a5a" stroke-width="1.2" stroke-linecap="butt"/>
<line x1="395.7" y1="1883.4" x2="395.7" y2="1892.2" stroke="#5a5a5a" stroke-width="1.2" stroke-linecap="butt"/>
<line x1="841.3" y1="1885.1" x2="841.3" y2="1892.2" stroke="#5a5a5a" stroke-width="1.2" stroke-linecap="butt"/>
<line x1="898.5" y1="1884.1" x2="898.5" y2="1892.2" stroke="#5a5a5a" stroke-width="1.2" stroke-linecap="butt"/>
<line x1="772.7" y1="1908.2" x2="772.7" y2="1911.7" stroke="#5a5a5a" stroke-width="1.2" stroke-linecap="butt"/>
<line x1="877.3" y1="1908.2" x2="877.3" y2="1912.6" stroke="#5a5a5a" stroke-width="1.2" stroke-linecap="butt"/>
<line x1="635.9" y1="1885.6" x2="635.9" y2="1892.2" stroke="#5a5a5a" stroke-width="1.2" stroke-linecap="butt"/>
<line x1="698.7" y1="1908.2" x2="698.7" y2="1916.3" stroke="#5a5a5a" stroke-width="1.2" stroke-linecap="butt"/>
<line x1="353.1" y1="1884.3" x2="353.1" y2="1892.2" stroke="#5a5a5a" stroke-width="1.2" stroke-linecap="butt"/>
<line x1="130.2" y1="1887.8" x2="130.2" y2="1892.2" stroke="#5a5a5a" stroke-width="1.2" stroke-linecap="butt"/>
<line x1="754.2" y1="1884.2" x2="754.2" y2="1892.2" stroke="#5a5a5a" stroke-width="1.2" stroke-linecap="butt"/>
<line x1="664.9" y1="1908.2" x2="664.9" y2="1915.9" stroke="#5a5a5a" stroke-width="1.2" stroke-linecap="butt"/>
<line x1="841.5" y1="1887.1" x2="841.5" y2="1892.2" stroke="#5a5a5a" stroke-width="1.2" stroke-linecap="butt"/>
<line x1="632" y1="1908.2" x2="632" y2="1915.9" stroke="#5a5a5a" stroke-width="1.2" stroke-linecap="butt"/>
<line x1="782" y1="1888.5" x2="782" y2="1892.2" stroke="#5a5a5a" stroke-width="1.2" stroke-linecap="butt"/>
<line x1="726" y1="1908.2" x2="726" y2="1912.9" stroke="#5a5a5a" stroke-width="1.2" stroke-linecap="butt"/>
<line x1="156.2" y1="1887.7" x2="156.2" y2="1892.2" stroke="#5a5a5a" stroke-width="1.2" stroke-linecap="butt"/>
<line x1="336.5" y1="1888.9" x2="336.5" y2="1892.2" stroke="#5a5a5a" stroke-width="1.2" stroke-linecap="butt"/>
<line x1="250.7" y1="1888.6" x2="250.7" y2="1892.2" stroke="#5a5a5a" stroke-width="1.2" stroke-linecap="butt"/>
<line x1="280.8" y1="1884.1" x2="280.8" y2="1892.2" stroke="#5a5a5a" stroke-width="1.2" stroke-linecap="butt"/>
<line x1="834.4" y1="1888.4" x2="834.4" y2="1892.2" stroke="#5a5a5a" stroke-width="1.2" stroke-linecap="butt"/>
<line x1="332.9" y1="1908.2" x2="332.9" y2="1913.6" stroke="#5a5a5a" stroke-width="1.2" stroke-linecap="butt"/>
<line x1="583.7" y1="1908.2" x2="583.7" y2="1915.2" stroke="#5a5a5a" stroke-width="1.2" stroke-linecap="butt"/>
<line x1="824.4" y1="1887.4" x2="824.4" y2="1892.2" stroke="#5a5a5a" stroke-width="1.2" stroke-linecap="butt"/>
<line x1="137.2" y1="1908.2" x2="137.2" y2="1914.9" stroke="#5a5a5a" stroke-width="1.2" stroke-linecap="butt"/>
<line x1="320.2" y1="1886.4" x2="320.2" y2="1892.2" stroke="#5a5a5a" stroke-width="1.2" stroke-linecap="butt"/>
<line x1="248.4" y1="1886.9" x2="248.4" y2="1892.2" stroke="#5a5a5a" stroke-width="1.2" stroke-linecap="butt"/>
<line x1="895.7" y1="1884.9" x2="895.7" y2="1892.2" stroke="#5a5a5a" stroke-width="1.2" stroke-linecap="butt"/>
<line x1="418.9" y1="1888.4" x2="418.9" y2="1892.2" stroke="#5a5a5a" stroke-width="1.2" stroke-linecap="butt"/>
<line x1="262.5" y1="1908.2" x2="262.5" y2="1913.8" stroke="#5a5a5a" stroke-width="1.2" stroke-linecap="butt"/>
<line x1="346.3" y1="1908.2" x2="346.3" y2="1916.5" stroke="#5a5a5a" stroke-width="1.2" stroke-linecap="butt"/>
<line x1="328.9" y1="1885.8" x2="328.9" y2="1892.2" stroke="#5a5a5a" stroke-width="1.2" stroke-linecap="butt"/>
<line x1="247.1" y1="1887.5" x2="247.1" y2="1892.2" stroke="#5a5a5a" stroke-width="1.2" stroke-linecap="butt"/>
<line x1="783.5" y1="1883.3" x2="783.5" y2="1892.2" stroke="#5a5a5a" stroke-width="1.2" stroke-linecap="butt"/>
<line x1="304.9" y1="1888.7" x2="304.9" y2="1892.2" stroke="#5a5a5a" stroke-width="1.2" stroke-linecap="butt"/>
<line x1="868.8" y1="1908.2" x2="868.8" y2="1911.6" stroke="#5a5a5a" stroke-width="1.2" stroke-linecap="butt"/>
<line x1="548.6" y1="1885.6" x2="548.6" y2="1892.2" stroke="#5a5a5a" stroke-width="1.2" stroke-linecap="butt"/>
<line x1="388.5" y1="1908.2" x2="388.5" y2="1912.5" stroke="#5a5a5a" stroke-width="1.2" stroke-linecap="butt"/>
<line x1="791.7" y1="1885.3" x2="791.7" y2="1892.2" stroke="#5a5a5a" stroke-width="1.2" stroke-linecap="butt"/>
<line x1="465" y1="1908.2" x2="465" y2="1914.3" stroke="#5a5a5a" stroke-width="1.2" stroke-linecap="butt"/>
<line x1="630" y1="1888.8" x2="630" y2="1892.2" stroke="#5a5a5a" stroke-width="1.2" stroke-linecap="butt"/>
<line x1="917.2" y1="1887.1" x2="917.2" y2="1892.2" stroke="#5a5a5a" stroke-width="1.2" stroke-linecap="butt"/>
<line x1="308.4" y1="1908.2" x2="308.4" y2="1917.1" stroke="#5a5a5a" stroke-width="1.2" stroke-linecap="butt"/>
<line x1="444.1" y1="1887.1" x2="444.1" y2="1892.2" stroke="#5a5a5a" stroke-width="1.2" stroke-linecap="butt"/>
<line x1="131.4" y1="1888.9" x2="131.4" y2="1892.2" stroke="#5a5a5a" stroke-width="1.2" stroke-linecap="butt"/>
<line x1="378.5" y1="1908.2" x2="378.5" y2="1912" stroke="#5a5a5a" stroke-width="1.2" stroke-linecap="butt"/>
<line x1="565.8" y1="1889" x2="565.8" y2="1892.2" stroke="#5a5a5a" stroke-width="1.2" stroke-linecap="butt"/>
<line x1="805.7" y1="1888.4" x2="805.7" y2="1892.2" stroke="#5a5a5a" stroke-width="1.2" stroke-linecap="butt"/>
<line x1="789.2" y1="1888" x2="789.2" y2="1892.2" stroke="#5a5a5a" stroke-width="1.2" stroke-linecap="butt"/>
<line x1="894.1" y1="1884.2" x2="894.1" y2="1892.2" stroke="#5a5a5a" stroke-width="1.2" stroke-linecap="butt"/>
<line x1="364.2" y1="1908.2" x2="364.2" y2="1913.1" stroke="#5a5a5a" stroke-width="1.2" stroke-linecap="butt"/>
<line x1="391.2" y1="1908.2" x2="391.2" y2="1916.6" stroke="#5a5a5a" stroke-width="1.2" stroke-linecap="butt"/>
<line x1="254.4" y1="1908.2" x2="254.4" y2="1912" stroke="#5a5a5a" stroke-width="1.2" stroke-linecap="butt"/>
<line x1="358" y1="1885.3" x2="358" y2="1892.2" stroke="#5a5a5a" stroke-width="1.2" stroke-linecap="butt"/>
<line x1="713.7" y1="1908.2" x2="713.7" y2="1915.8" stroke="#5a5a5a" stroke-width="1.2" stroke-linecap="butt"/>
<line x1="437.5" y1="1889.2" x2="437.5" y2="1892.2" stroke="#5a5a5a" stroke-width="1.2" stroke-linecap="butt"/>
<line x1="475.3" y1="1908.2" x2="475.3" y2="1913.9" stroke="#5a5a5a" stroke-width="1.2" stroke-linecap="butt"/>
<line x1="621.5" y1="1908.2" x2="621.5" y2="1916.4" stroke="#5a5a5a" stroke-width="1.2" stroke-linecap="butt"/>
<line x1="724.7" y1="1908.2" x2="724.7" y2="1912.6" stroke="#5a5a5a" stroke-width="1.2" stroke-linecap="butt"/>
<line x1="732.2" y1="1885" x2="732.2" y2="1892.2" stroke="#5a5a5a" stroke-width="1.2" stroke-linecap="butt"/>
<line x1="294.8" y1="1908.2" x2="294.8" y2="1912.2" stroke="#5a5a5a" stroke-width="1.2" stroke-linecap="butt"/>
<line x1="767.2" y1="1908.2" x2="767.2" y2="1912.1" stroke="#5a5a5a" stroke-width="1.2" stroke-linecap="butt"/>
<line x1="829" y1="1908.2" x2="829" y2="1914.8" stroke="#5a5a5a" stroke-width="1.2" stroke-linecap="butt"/>
<line x1="320.3" y1="1887.8" x2="320.3" y2="1892.2" stroke="#5a5a5a" stroke-width="1.2" stroke-linecap="butt"/>
<line x1="476.3" y1="1908.2" x2="476.3" y2="1915.6" stroke="#5a5a5a" stroke-width="1.2" stroke-linecap="butt"/>
<line x1="696.4" y1="1887.2" x2="696.4" y2="1892.2" stroke="#5a5a5a" stroke-width="1.2" stroke-linecap="butt"/>
<line x1="744.5" y1="1908.2" x2="744.5" y2="1912.5" stroke="#5a5a5a" stroke-width="1.2" stroke-linecap="butt"/>
<line x1="452.5" y1="1883.4" x2="452.5" y2="1892.2" stroke="#5a5a5a" stroke-width="1.2" stroke-linecap="butt"/>
<line x1="122.5" y1="1908.2" x2="122.5" y2="1915.8" stroke="#5a5a5a" stroke-width="1.2" stroke-linecap="butt"/>
<line x1="385.1" y1="1908.2" x2="385.1" y2="1913.4" stroke="#5a5a5a" stroke-width="1.2" stroke-linecap="butt"/>
<line x1="639" y1="1883.7" x2="639" y2="1892.2" stroke="#5a5a5a" stroke-width="1.2" stroke-linecap="butt"/>
<line x1="489.8" y1="1908.2" x2="489.8" y2="1914.7" stroke="#5a5a5a" stroke-width="1.2" stroke-linecap="butt"/>
<line x1="418.9" y1="1908.2" x2="418.9" y2="1912.4" stroke="#5a5a5a" stroke-width="1.2" stroke-linecap="butt"/>
<line x1="864.9" y1="1908.2" x2="864.9" y2="1916.3" stroke="#5a5a5a" stroke-width="1.2" stroke-linecap="butt"/>
<line x1="617" y1="1908.2" x2="617" y2="1916.8" stroke="#5a5a5a" stroke-width="1.2" stroke-linecap="butt"/>
<line x1="469.4" y1="1908.2" x2="469.4" y2="1915.8" stroke="#5a5a5a" stroke-width="1.2" stroke-linecap="butt"/>
<line x1="823.7" y1="1885.3" x2="823.7" y2="1892.2" stroke="#5a5a5a" stroke-width="1.2" stroke-linecap="butt"/>
<line x1="185.6" y1="1888.6" x2="185.6" y2="1892.2" stroke="#5a5a5a" stroke-width="1.2" stroke-linecap="butt"/>
<line x1="721.1" y1="1883.7" x2="721.1" y2="1892.2" stroke="#5a5a5a" stroke-width="1.2" stroke-linecap="butt"/>
<line x1="174.8" y1="1884.2" x2="174.8" y2="1892.2" stroke="#5a5a5a" stroke-width="1.2" stroke-linecap="butt"/>
<line x1="457.2" y1="1884.5" x2="457.2" y2="1892.2" stroke="#5a5a5a" stroke-width="1.2" stroke-linecap="butt"/>
<line x1="304" y1="1908.2" x2="304" y2="1912.8" stroke="#5a5a5a" stroke-width="1.2" stroke-linecap="butt"/>
<line x1="823.6" y1="1883.6" x2="823.6" y2="1892.2" stroke="#5a5a5a" stroke-width="1.2" stroke-linecap="butt"/>
<line x1="355.5" y1="1908.2" x2="355.5" y2="1913" stroke="#5a5a5a" stroke-width="1.2" stroke-linecap="butt"/>
<line x1="481.9" y1="1908.2" x2="481.9" y2="1914.5" stroke="#5a5a5a" stroke-width="1.2" stroke-linecap="butt"/>
<line x1="667.3" y1="1908.2" x2="667.3" y2="1912.8" stroke="#5a5a5a" stroke-width="1.2" stroke-linecap="butt"/>
<line x1="116.1" y1="1908.2" x2="116.1" y2="1914.8" stroke="#5a5a5a" stroke-width="1.2" stroke-linecap="butt"/>
<line x1="577.9" y1="1883.6" x2="577.9" y2="1892.2" stroke="#5a5a5a" stroke-width="1.2" stroke-linecap="butt"/>
<line x1="356.1" y1="1908.2" x2="356.1" y2="1912.2" stroke="#5a5a5a" stroke-width="1.2" stroke-linecap="butt"/>
<line x1="687" y1="1908.2" x2="687" y2="1912.1" stroke="#5a5a5a" stroke-width="1.2" stroke-linecap="butt"/>
<line x1="750" y1="1888.8" x2="750" y2="1892.2" stroke="#5a5a5a" stroke-width="1.2" stroke-linecap="butt"/>
<line x1="467.8" y1="1908.2" x2="467.8" y2="1912.9" stroke="#5a5a5a" stroke-width="1.2" stroke-linecap="butt"/>
<line x1="900" y1="1887.6" x2="900" y2="1892.2" stroke="#5a5a5a" stroke-width="1.2" stroke-linecap="butt"/>
<line x1="393.2" y1="1887.4" x2="393.2" y2="1892.2" stroke="#5a5a5a" stroke-width="1.2" stroke-linecap="butt"/>
<line x1="126.6" y1="1887.6" x2="126.6" y2="1892.2" stroke="#5a5a5a" stroke-width="1.2" stroke-linecap="butt"/>
<line x1="668.7" y1="1884.9" x2="668.7" y2="1892.2" stroke="#5a5a5a" stroke-width="1.2" stroke-linecap="butt"/>
<line x1="477.2" y1="1888.2" x2="477.2" y2="1892.2" stroke="#5a5a5a" stroke-width="1.2" stroke-linecap="butt"/>
<line x1="298.9" y1="1908.2" x2="298.9" y2="1913.9" stroke="#5a5a5a" stroke-width="1.2" stroke-linecap="butt"/>
<line x1="369.8" y1="1883.9" x2="369.8" y2="1892.2" stroke="#5a5a5a" stroke-width="1.2" stroke-linecap="butt"/>
<line x1="695.1" y1="1908.2" x2="695.1" y2="1916" stroke="#5a5a5a" stroke-width="1.2" stroke-linecap="butt"/>
<line x1="309.7" y1="1908.2" x2="309.7" y2="1911.6" stroke="#5a5a5a" stroke-width="1.2" stroke-linecap="butt"/>
<line x1="662.4" y1="1885.2" x2="662.4" y2="1892.2" stroke="#5a5a5a" stroke-width="1.2" stroke-linecap="butt"/>
<line x1="297.5" y1="1885.2" x2="297.5" y2="1892.2" stroke="#5a5a5a" stroke-width="1.2" stroke-linecap="butt"/>
<line x1="891" y1="1888.2" x2="891" y2="1892.2" stroke="#5a5a5a" stroke-width="1.2" stroke-linecap="butt"/>
<line x1="212.5" y1="1908.2" x2="212.5" y2="1916.6" stroke="#5a5a5a" stroke-width="1.2" stroke-linecap="butt"/>
<line x1="122.9" y1="1888.2" x2="122.9" y2="1892.2" stroke="#5a5a5a" stroke-width="1.2" stroke-linecap="butt"/>
<line x1="903.6" y1="1888.8" x2="903.6" y2="1892.2" stroke="#5a5a5a" stroke-width="1.2" stroke-linecap="butt"/>
<line x1="748.3" y1="1908.2" x2="748.3" y2="1915.8" stroke="#5a5a5a" stroke-width="1.2" stroke-linecap="butt"/>
<line x1="204.2" y1="1886.1" x2="204.2" y2="1892.2" stroke="#5a5a5a" stroke-width="1.2" stroke-linecap="butt"/>
<line x1="857.1" y1="1908.2" x2="857.1" y2="1911.6" stroke="#5a5a5a" stroke-width="1.2" stroke-linecap="butt"/>
<line x1="486" y1="1908.2" x2="486" y2="1914.5" stroke="#5a5a5a" stroke-width="1.2" stroke-linecap="butt"/>
<line x1="663.9" y1="1908.2" x2="663.9" y2="1917.1" stroke="#5a5a5a" stroke-width="1.2" stroke-linecap="butt"/>
<line x1="805.6" y1="1908.2" x2="805.6" y2="1913" stroke="#5a5a5a" stroke-width="1.2" stroke-linecap="butt"/>
<line x1="241.8" y1="1885.4" x2="241.8" y2="1892.2" stroke="#5a5a5a" stroke-width="1.2" stroke-linecap="butt"/>
<line x1="752.3" y1="1908.2" x2="752.3" y2="1916.7" stroke="#5a5a5a" stroke-width="1.2" stroke-linecap="butt"/>
<line x1="348.5" y1="1888" x2="348.5" y2="1892.2" stroke="#5a5a5a" stroke-width="1.2" stroke-linecap="butt"/>
<line x1="561.7" y1="1908.2" x2="561.7" y2="1915.7" stroke="#5a5a5a" stroke-width="1.2" stroke-linecap="butt"/>
<line x1="472.5" y1="1884.1" x2="472.5" y2="1892.2" stroke="#5a5a5a" stroke-width="1.2" stroke-linecap="butt"/>
<line x1="855" y1="1908.2" x2="855" y2="1913" stroke="#5a5a5a" stroke-width="1.2" stroke-linecap="butt"/>
<line x1="433.7" y1="1908.2" x2="433.7" y2="1916.7" stroke="#5a5a5a" stroke-width="1.2" stroke-linecap="butt"/>
<line x1="311" y1="1888.8" x2="311" y2="1892.2" stroke="#5a5a5a" stroke-width="1.2" stroke-linecap="butt"/>
<line x1="111.4" y1="1884.3" x2="111.4" y2="1892.2" stroke="#5a5a5a" stroke-width="1.2" stroke-linecap="butt"/>
<line x1="671.1" y1="1886.7" x2="671.1" y2="1892.2" stroke="#5a5a5a" stroke-width="1.2" stroke-linecap="butt"/>
<line x1="329.4" y1="1908.2" x2="329.4" y2="1914.1" stroke="#5a5a5a" stroke-width="1.2" stroke-linecap="butt"/>
<line x1="167.1" y1="1908.2" x2="167.1" y2="1917.2" stroke="#5a5a5a" stroke-width="1.2" stroke-linecap="butt"/>
<line x1="169.4" y1="1908.2" x2="169.4" y2="1911.8" stroke="#5a5a5a" stroke-width="1.2" stroke-linecap="butt"/>
<line x1="365" y1="1908.2" x2="365" y2="1917" stroke="#5a5a5a" stroke-width="1.2" stroke-linecap="butt"/>
<line x1="262.5" y1="1908.2" x2="262.5" y2="1914.9" stroke="#5a5a5a" stroke-width="1.2" stroke-linecap="butt"/>
<line x1="440.2" y1="1908.2" x2="440.2" y2="1915" stroke="#5a5a5a" stroke-width="1.2" stroke-linecap="butt"/>
<line x1="296.2" y1="1884.9" x2="296.2" y2="1892.2" stroke="#5a5a5a" stroke-width="1.2" stroke-linecap="butt"/>
<line x1="626.3" y1="1908.2" x2="626.3" y2="1915.6" stroke="#5a5a5a" stroke-width="1.2" stroke-linecap="butt"/>
<line x1="221" y1="1889" x2="221" y2="1892.2" stroke="#5a5a5a" stroke-width="1.2" stroke-linecap="butt"/>
<line x1="625.5" y1="1884.2" x2="625.5" y2="1892.2" stroke="#5a5a5a" stroke-width="1.2" stroke-linecap="butt"/>
<line x1="917.7" y1="1886.9" x2="917.7" y2="1892.2" stroke="#5a5a5a" stroke-width="1.2" stroke-linecap="butt"/>
<line x1="458.1" y1="1908.2" x2="458.1" y2="1916.7" stroke="#5a5a5a" stroke-width="1.2" stroke-linecap="butt"/>
<line x1="608.3" y1="1885.2" x2="608.3" y2="1892.2" stroke="#5a5a5a" stroke-width="1.2" stroke-linecap="butt"/>
<line x1="382.8" y1="1908.2" x2="382.8" y2="1911.8" stroke="#5a5a5a" stroke-width="1.2" stroke-linecap="butt"/>
<line x1="578.4" y1="1885.3" x2="578.4" y2="1892.2" stroke="#5a5a5a" stroke-width="1.2" stroke-linecap="butt"/>
<line x1="580.6" y1="1908.2" x2="580.6" y2="1915.6" stroke="#5a5a5a" stroke-width="1.2" stroke-linecap="butt"/>
<line x1="219.9" y1="1908.2" x2="219.9" y2="1914.9" stroke="#5a5a5a" stroke-width="1.2" stroke-linecap="butt"/>
<line x1="682.1" y1="1888.7" x2="682.1" y2="1892.2" stroke="#5a5a5a" stroke-width="1.2" stroke-linecap="butt"/>
<line x1="876.5" y1="1908.2" x2="876.5" y2="1917.1" stroke="#5a5a5a" stroke-width="1.2" stroke-linecap="butt"/>
<line x1="492.1" y1="1908.2" x2="492.1" y2="1916.4" stroke="#5a5a5a" stroke-width="1.2" stroke-linecap="butt"/>
<line x1="566.7" y1="1908.2" x2="566.7" y2="1916.1" stroke="#5a5a5a" stroke-width="1.2" stroke-linecap="butt"/>
<line x1="194.3" y1="1886.8" x2="194.3" y2="1892.2" stroke="#5a5a5a" stroke-width="1.2" stroke-linecap="butt"/>
<line x1="552.5" y1="1908.2" x2="552.5" y2="1914.6" stroke="#5a5a5a" stroke-width="1.2" stroke-linecap="butt"/>
<line x1="838.2" y1="1908.2" x2="838.2" y2="1911.8" stroke="#5a5a5a" stroke-width="1.2" stroke-linecap="butt"/>
<line x1="391.2" y1="1908.2" x2="391.2" y2="1915.7" stroke="#5a5a5a" stroke-width="1.2" stroke-linecap="butt"/>
<line x1="121.9" y1="1908.2" x2="121.9" y2="1912" stroke="#5a5a5a" stroke-width="1.2" stroke-linecap="butt"/>
<line x1="527.9" y1="1908.2" x2="527.9" y2="1911.7" stroke="#5a5a5a" stroke-width="1.2" stroke-linecap="butt"/>
<line x1="794.5" y1="1883.3" x2="794.5" y2="1892.2" stroke="#5a5a5a" stroke-width="1.2" stroke-linecap="butt"/>
<line x1="824.5" y1="1885.3" x2="824.5" y2="1892.2" stroke="#5a5a5a" stroke-width="1.2" stroke-linecap="butt"/>
<line x1="825.1" y1="1885" x2="825.1" y2="1892.2" stroke="#5a5a5a" stroke-width="1.2" stroke-linecap="butt"/>
<line x1="320.5" y1="1887.2" x2="320.5" y2="1892.2" stroke="#5a5a5a" stroke-width="1.2" stroke-linecap="butt"/>
<line x1="352.8" y1="1908.2" x2="352.8" y2="1912.6" stroke="#5a5a5a" stroke-width="1.2" stroke-linecap="butt"/>
<line x1="462.3" y1="1885.1" x2="462.3" y2="1892.2" stroke="#5a5a5a" stroke-width="1.2" stroke-linecap="butt"/>
<line x1="916.4" y1="1908.2" x2="916.4" y2="1916.4" stroke="#5a5a5a" stroke-width="1.2" stroke-linecap="butt"/>
<line x1="218.2" y1="1908.2" x2="218.2" y2="1912.2" stroke="#5a5a5a" stroke-width="1.2" stroke-linecap="butt"/>
<line x1="834.2" y1="1908.2" x2="834.2" y2="1912" stroke="#5a5a5a" stroke-width="1.2" stroke-linecap="butt"/>
<line x1="816.6" y1="1908.2" x2="816.6" y2="1914.1" stroke="#5a5a5a" stroke-width="1.2" stroke-linecap="butt"/>
<line x1="176.4" y1="1908.2" x2="176.4" y2="1914.3" stroke="#5a5a5a" stroke-width="1.2" stroke-linecap="butt"/>
<line x1="828.6" y1="1885.1" x2="828.6" y2="1892.2" stroke="#5a5a5a" stroke-width="1.2" stroke-linecap="butt"/>
<line x1="421.4" y1="1908.2" x2="421.4" y2="1914.9" stroke="#5a5a5a" stroke-width="1.2" stroke-linecap="butt"/>
<line x1="796.3" y1="1908.2" x2="796.3" y2="1912.2" stroke="#5a5a5a" stroke-width="1.2" stroke-linecap="butt"/>
<line x1="824.5" y1="1889.1" x2="824.5" y2="1892.2" stroke="#5a5a5a" stroke-width="1.2" stroke-linecap="butt"/>
<line x1="359.6" y1="1884.6" x2="359.6" y2="1892.2" stroke="#5a5a5a" stroke-width="1.2" stroke-linecap="butt"/>
<line x1="575.3" y1="1884.5" x2="575.3" y2="1892.2" stroke="#5a5a5a" stroke-width="1.2" stroke-linecap="butt"/>
<line x1="887.9" y1="1908.2" x2="887.9" y2="1915.1" stroke="#5a5a5a" stroke-width="1.2" stroke-linecap="butt"/>
<line x1="826.2" y1="1883.2" x2="826.2" y2="1892.2" stroke="#5a5a5a" stroke-width="1.2" stroke-linecap="butt"/>
<line x1="255.5" y1="1884.3" x2="255.5" y2="1892.2" stroke="#5a5a5a" stroke-width="1.2" stroke-linecap="butt"/>
<line x1="254" y1="1886.1" x2="254" y2="1892.2" stroke="#5a5a5a" stroke-width="1.2" stroke-linecap="butt"/>
<line x1="201.4" y1="1887.1" x2="201.4" y2="1892.2" stroke="#5a5a5a" stroke-width="1.2" stroke-linecap="butt"/>
<line x1="180.2" y1="1908.2" x2="180.2" y2="1913.9" stroke="#5a5a5a" stroke-width="1.2" stroke-linecap="butt"/>
<line x1="241.8" y1="1908.2" x2="241.8" y2="1913.7" stroke="#5a5a5a" stroke-width="1.2" stroke-linecap="butt"/>
<line x1="130.2" y1="1908.2" x2="130.2" y2="1913.7" stroke="#5a5a5a" stroke-width="1.2" stroke-linecap="butt"/>
<line x1="185.3" y1="1887.7" x2="185.3" y2="1892.2" stroke="#5a5a5a" stroke-width="1.2" stroke-linecap="butt"/>
<line x1="145.4" y1="1888.2" x2="145.4" y2="1892.2" stroke="#5a5a5a" stroke-width="1.2" stroke-linecap="butt"/>
<line x1="286.6" y1="1908.2" x2="286.6" y2="1912.2" stroke="#5a5a5a" stroke-width="1.2" stroke-linecap="butt"/>
<line x1="126.7" y1="1887.4" x2="126.7" y2="1892.2" stroke="#5a5a5a" stroke-width="1.2" stroke-linecap="butt"/>
<line x1="246.2" y1="1908.2" x2="246.2" y2="1916.5" stroke="#5a5a5a" stroke-width="1.2" stroke-linecap="butt"/>
<line x1="800.4" y1="1884.5" x2="800.4" y2="1892.2" stroke="#5a5a5a" stroke-width="1.2" stroke-linecap="butt"/>
<line x1="767" y1="1908.2" x2="767" y2="1916" stroke="#5a5a5a" stroke-width="1.2" stroke-linecap="butt"/>
<line x1="424.1" y1="1908.2" x2="424.1" y2="1914.3" stroke="#5a5a5a" stroke-width="1.2" stroke-linecap="butt"/>
<line x1="723.8" y1="1908.2" x2="723.8" y2="1911.6" stroke="#5a5a5a" stroke-width="1.2" stroke-linecap="butt"/>
<line x1="802.9" y1="1886.6" x2="802.9" y2="1892.2" stroke="#5a5a5a" stroke-width="1.2" stroke-linecap="butt"/>
<line x1="600.9" y1="1908.2" x2="600.9" y2="1911.5" stroke="#5a5a5a" stroke-width="1.2" stroke-linecap="butt"/>
<line x1="667.9" y1="1889" x2="667.9" y2="1892.2" stroke="#5a5a5a" stroke-width="1.2" stroke-linecap="butt"/>
<line x1="385.5" y1="1908.2" x2="385.5" y2="1911.7" stroke="#5a5a5a" stroke-width="1.2" stroke-linecap="butt"/>
<line x1="815.1" y1="1887.8" x2="815.1" y2="1892.2" stroke="#5a5a5a" stroke-width="1.2" stroke-linecap="butt"/>
<line x1="383.2" y1="1883.6" x2="383.2" y2="1892.2" stroke="#5a5a5a" stroke-width="1.2" stroke-linecap="butt"/>
<line x1="913.4" y1="1908.2" x2="913.4" y2="1912.4" stroke="#5a5a5a" stroke-width="1.2" stroke-linecap="butt"/>
<line x1="802.5" y1="1887.5" x2="802.5" y2="1892.2" stroke="#5a5a5a" stroke-width="1.2" stroke-linecap="butt"/>
<line x1="683.3" y1="1889.2" x2="683.3" y2="1892.2" stroke="#5a5a5a" stroke-width="1.2" stroke-linecap="butt"/>
<line x1="883.9" y1="1884.4" x2="883.9" y2="1892.2" stroke="#5a5a5a" stroke-width="1.2" stroke-linecap="butt"/>
<line x1="463.3" y1="1886.4" x2="463.3" y2="1892.2" stroke="#5a5a5a" stroke-width="1.2" stroke-linecap="butt"/>
<line x1="251.1" y1="1889.1" x2="251.1" y2="1892.2" stroke="#5a5a5a" stroke-width="1.2" stroke-linecap="butt"/>
<line x1="442.5" y1="1887.2" x2="442.5" y2="1892.2" stroke="#5a5a5a" stroke-width="1.2" stroke-linecap="butt"/>
<line x1="909.5" y1="1908.2" x2="909.5" y2="1915.4" stroke="#5a5a5a" stroke-width="1.2" stroke-linecap="butt"/>
<line x1="312" y1="1908.2" x2="312" y2="1915.4" stroke="#5a5a5a" stroke-width="1.2" stroke-linecap="butt"/>
<line x1="548.4" y1="1888" x2="548.4" y2="1892.2" stroke="#5a5a5a" stroke-width="1.2" stroke-linecap="butt"/>
<line x1="458.1" y1="1883.9" x2="458.1" y2="1892.2" stroke="#5a5a5a" stroke-width="1.2" stroke-linecap="butt"/>
<line x1="496.6" y1="1908.2" x2="496.6" y2="1916.6" stroke="#5a5a5a" stroke-width="1.2" stroke-linecap="butt"/>
<line x1="625.9" y1="1887.3" x2="625.9" y2="1892.2" stroke="#5a5a5a" stroke-width="1.2" stroke-linecap="butt"/>
<line x1="877" y1="1887.9" x2="877" y2="1892.2" stroke="#5a5a5a" stroke-width="1.2" stroke-linecap="butt"/>
<line x1="623.4" y1="1908.2" x2="623.4" y2="1916.1" stroke="#5a5a5a" stroke-width="1.2" stroke-linecap="butt"/>
<line x1="717.3" y1="1908.2" x2="717.3" y2="1913.4" stroke="#5a5a5a" stroke-width="1.2" stroke-linecap="butt"/>
<line x1="159.9" y1="1908.2" x2="159.9" y2="1911.6" stroke="#5a5a5a" stroke-width="1.2" stroke-linecap="butt"/>
<line x1="773.5" y1="1889.1" x2="773.5" y2="1892.2" stroke="#5a5a5a" stroke-width="1.2" stroke-linecap="butt"/>
<line x1="940.7" y1="1885.7" x2="940.7" y2="1892.2" stroke="#5a5a5a" stroke-width="1.2" stroke-linecap="butt"/>
<line x1="160" y1="1908.2" x2="160" y2="1911.3" stroke="#5a5a5a" stroke-width="1.2" stroke-linecap="butt"/>
<line x1="681.5" y1="1908.2" x2="681.5" y2="1913" stroke="#5a5a5a" stroke-width="1.2" stroke-linecap="butt"/>
<line x1="115.4" y1="1888.8" x2="115.4" y2="1892.2" stroke="#5a5a5a" stroke-width="1.2" stroke-linecap="butt"/>
<line x1="736.9" y1="1908.2" x2="736.9" y2="1916.6" stroke="#5a5a5a" stroke-width="1.2" stroke-linecap="butt"/>
<line x1="635.4" y1="1908.2" x2="635.4" y2="1912.4" stroke="#5a5a5a" stroke-width="1.2" stroke-linecap="butt"/>
<line x1="295" y1="1908.2" x2="295" y2="1916.9" stroke="#5a5a5a" stroke-width="1.2" stroke-linecap="butt"/>
<line x1="473.3" y1="1908.2" x2="473.3" y2="1915.5" stroke="#5a5a5a" stroke-width="1.2" stroke-linecap="butt"/>
<line x1="340" y1="1884.7" x2="340" y2="1892.2" stroke="#5a5a5a" stroke-width="1.2" stroke-linecap="butt"/>
<line x1="910.3" y1="1908.2" x2="910.3" y2="1913.3" stroke="#5a5a5a" stroke-width="1.2" stroke-linecap="butt"/>
<line x1="163.4" y1="1888.8" x2="163.4" y2="1892.2" stroke="#5a5a5a" stroke-width="1.2" stroke-linecap="butt"/>
<line x1="931.2" y1="1884.1" x2="931.2" y2="1892.2" stroke="#5a5a5a" stroke-width="1.2" stroke-linecap="butt"/>
<line x1="314" y1="1908.2" x2="314" y2="1914.1" stroke="#5a5a5a" stroke-width="1.2" stroke-linecap="butt"/>
<line x1="803" y1="1908.2" x2="803" y2="1915.8" stroke="#5a5a5a" stroke-width="1.2" stroke-linecap="butt"/>
<line x1="169.5" y1="1887.1" x2="169.5" y2="1892.2" stroke="#5a5a5a" stroke-width="1.2" stroke-linecap="butt"/>
<line x1="839.5" y1="1908.2" x2="839.5" y2="1915.5" stroke="#5a5a5a" stroke-width="1.2" stroke-linecap="butt"/>
<line x1="607.3" y1="1883.6" x2="607.3" y2="1892.2" stroke="#5a5a5a" stroke-width="1.2" stroke-linecap="butt"/>
<line x1="658.2" y1="1908.2" x2="658.2" y2="1916.3" stroke="#5a5a5a" stroke-width="1.2" stroke-linecap="butt"/>
<line x1="305.6" y1="1908.2" x2="305.6" y2="1915.3" stroke="#5a5a5a" stroke-width="1.2" stroke-linecap="butt"/>
<line x1="738.4" y1="1884.8" x2="738.4" y2="1892.2" stroke="#5a5a5a" stroke-width="1.2" stroke-linecap="butt"/>
<line x1="860.4" y1="1908.2" x2="860.4" y2="1912.2" stroke="#5a5a5a" stroke-width="1.2" stroke-linecap="butt"/>
<line x1="873.7" y1="1887.8" x2="873.7" y2="1892.2" stroke="#5a5a5a" stroke-width="1.2" stroke-linecap="butt"/>
<line x1="820.6" y1="1908.2" x2="820.6" y2="1913.2" stroke="#5a5a5a" stroke-width="1.2" stroke-linecap="butt"/>
<line x1="777.8" y1="1908.2" x2="777.8" y2="1911.9" stroke="#5a5a5a" stroke-width="1.2" stroke-linecap="butt"/>
<line x1="302" y1="1908.2" x2="302" y2="1916.1" stroke="#5a5a5a" stroke-width="1.2" stroke-linecap="butt"/>
<line x1="170.7" y1="1908.2" x2="170.7" y2="1915.5" stroke="#5a5a5a" stroke-width="1.2" stroke-linecap="butt"/>
<line x1="379.8" y1="1886.7" x2="379.8" y2="1892.2" stroke="#5a5a5a" stroke-width="1.2" stroke-linecap="butt"/>
<line x1="887.1" y1="1908.2" x2="887.1" y2="1912.5" stroke="#5a5a5a" stroke-width="1.2" stroke-linecap="butt"/>
<line x1="812.1" y1="1908.2" x2="812.1" y2="1912.9" stroke="#5a5a5a" stroke-width="1.2" stroke-linecap="butt"/>
<line x1="332.4" y1="1886.8" x2="332.4" y2="1892.2" stroke="#5a5a5a" stroke-width="1.2" stroke-linecap="butt"/>
<line x1="408.6" y1="1884" x2="408.6" y2="1892.2" stroke="#5a5a5a" stroke-width="1.2" stroke-linecap="butt"/>
<line x1="742.3" y1="1883.4" x2="742.3" y2="1892.2" stroke="#5a5a5a" stroke-width="1.2" stroke-linecap="butt"/>
<line x1="669.7" y1="1908.2" x2="669.7" y2="1916.1" stroke="#5a5a5a" stroke-width="1.2" stroke-linecap="butt"/>
<line x1="637" y1="1908.2" x2="637" y2="1915.8" stroke="#5a5a5a" stroke-width="1.2" stroke-linecap="butt"/>
<line x1="739.3" y1="1908.2" x2="739.3" y2="1913.2" stroke="#5a5a5a" stroke-width="1.2" stroke-linecap="butt"/>
<line x1="411.4" y1="1883.7" x2="411.4" y2="1892.2" stroke="#5a5a5a" stroke-width="1.2" stroke-linecap="butt"/>
<line x1="861.3" y1="1886.8" x2="861.3" y2="1892.2" stroke="#5a5a5a" stroke-width="1.2" stroke-linecap="butt"/>
<line x1="219.1" y1="1908.2" x2="219.1" y2="1915.2" stroke="#5a5a5a" stroke-width="1.2" stroke-linecap="butt"/>
<line x1="911.1" y1="1908.2" x2="911.1" y2="1914.3" stroke="#5a5a5a" stroke-width="1.2" stroke-linecap="butt"/>
<line x1="732.3" y1="1908.2" x2="732.3" y2="1916.3" stroke="#5a5a5a" stroke-width="1.2" stroke-linecap="butt"/>
<line x1="396.9" y1="1908.2" x2="396.9" y2="1916.9" stroke="#5a5a5a" stroke-width="1.2" stroke-linecap="butt"/>
<line x1="530.3" y1="1908.2" x2="530.3" y2="1914.3" stroke="#5a5a5a" stroke-width="1.2" stroke-linecap="butt"/>
<line x1="802" y1="1889.2" x2="802" y2="1892.2" stroke="#5a5a5a" stroke-width="1.2" stroke-linecap="butt"/>
<line x1="184.3" y1="1887" x2="184.3" y2="1892.2" stroke="#5a5a5a" stroke-width="1.2" stroke-linecap="butt"/>
<line x1="907.2" y1="1908.2" x2="907.2" y2="1912" stroke="#5a5a5a" stroke-width="1.2" stroke-linecap="butt"/>
<line x1="803.5" y1="1908.2" x2="803.5" y2="1916.2" stroke="#5a5a5a" stroke-width="1.2" stroke-linecap="butt"/>
<line x1="416.2" y1="1908.2" x2="416.2" y2="1911.2" stroke="#5a5a5a" stroke-width="1.2" stroke-linecap="butt"/>
<line x1="498.3" y1="1887.7" x2="498.3" y2="1892.2" stroke="#5a5a5a" stroke-width="1.2" stroke-linecap="butt"/>
<line x1="359" y1="1886.2" x2="359" y2="1892.2" stroke="#5a5a5a" stroke-width="1.2" stroke-linecap="butt"/>
<line x1="545.9" y1="1908.2" x2="545.9" y2="1916.2" stroke="#5a5a5a" stroke-width="1.2" stroke-linecap="butt"/>
<line x1="909.3" y1="1908.2" x2="909.3" y2="1912.7" stroke="#5a5a5a" stroke-width="1.2" stroke-linecap="butt"/>
<line x1="590.8" y1="1887.8" x2="590.8" y2="1892.2" stroke="#5a5a5a" stroke-width="1.2" stroke-linecap="butt"/>
<line x1="385.6" y1="1886" x2="385.6" y2="1892.2" stroke="#5a5a5a" stroke-width="1.2" stroke-linecap="butt"/>
<line x1="163.9" y1="1908.2" x2="163.9" y2="1913.7" stroke="#5a5a5a" stroke-width="1.2" stroke-linecap="butt"/>
<line x1="114.3" y1="1883.4" x2="114.3" y2="1892.2" stroke="#5a5a5a" stroke-width="1.2" stroke-linecap="butt"/>
<line x1="591.3" y1="1885.7" x2="591.3" y2="1892.2" stroke="#5a5a5a" stroke-width="1.2" stroke-linecap="butt"/>
<line x1="694.9" y1="1886.8" x2="694.9" y2="1892.2" stroke="#5a5a5a" stroke-width="1.2" stroke-linecap="butt"/>
<line x1="286.9" y1="1908.2" x2="286.9" y2="1916.1" stroke="#5a5a5a" stroke-width="1.2" stroke-linecap="butt"/>
<line x1="308.4" y1="1888.4" x2="308.4" y2="1892.2" stroke="#5a5a5a" stroke-width="1.2" stroke-linecap="butt"/>
<line x1="620.3" y1="1886" x2="620.3" y2="1892.2" stroke="#5a5a5a" stroke-width="1.2" stroke-linecap="butt"/>
<line x1="783.2" y1="1908.2" x2="783.2" y2="1915.2" stroke="#5a5a5a" stroke-width="1.2" stroke-linecap="butt"/>
<line x1="117.9" y1="1887.7" x2="117.9" y2="1892.2" stroke="#5a5a5a" stroke-width="1.2" stroke-linecap="butt"/>
<line x1="537.7" y1="1888.4" x2="537.7" y2="1892.2" stroke="#5a5a5a" stroke-width="1.2" stroke-linecap="butt"/>
<line x1="900.9" y1="1908.2" x2="900.9" y2="1911.8" stroke="#5a5a5a" stroke-width="1.2" stroke-linecap="butt"/>
<line x1="798" y1="1887.2" x2="798" y2="1892.2" stroke="#5a5a5a" stroke-width="1.2" stroke-linecap="butt"/>
<line x1="936.4" y1="1908.2" x2="936.4" y2="1914" stroke="#5a5a5a" stroke-width="1.2" stroke-linecap="butt"/>
<line x1="693.3" y1="1884.1" x2="693.3" y2="1892.2" stroke="#5a5a5a" stroke-width="1.2" stroke-linecap="butt"/>
<line x1="372" y1="1888.3" x2="372" y2="1892.2" stroke="#5a5a5a" stroke-width="1.2" stroke-linecap="butt"/>
<line x1="633.9" y1="1908.2" x2="633.9" y2="1916.6" stroke="#5a5a5a" stroke-width="1.2" stroke-linecap="butt"/>
<line x1="231" y1="1908.2" x2="231" y2="1916.9" stroke="#5a5a5a" stroke-width="1.2" stroke-linecap="butt"/>
<line x1="730.7" y1="1888.3" x2="730.7" y2="1892.2" stroke="#5a5a5a" stroke-width="1.2" stroke-linecap="butt"/>
<line x1="182" y1="1884.6" x2="182" y2="1892.2" stroke="#5a5a5a" stroke-width="1.2" stroke-linecap="butt"/>
<line x1="229.4" y1="1888.9" x2="229.4" y2="1892.2" stroke="#5a5a5a" stroke-width="1.2" stroke-linecap="butt"/>
<line x1="673.5" y1="1884.4" x2="673.5" y2="1892.2" stroke="#5a5a5a" stroke-width="1.2" stroke-linecap="butt"/>
<line x1="618.9" y1="1885" x2="618.9" y2="1892.2" stroke="#5a5a5a" stroke-width="1.2" stroke-linecap="butt"/>
<line x1="399.5" y1="1908.2" x2="399.5" y2="1914.5" stroke="#5a5a5a" stroke-width="1.2" stroke-linecap="butt"/>
<line x1="335" y1="1884.5" x2="335" y2="1892.2" stroke="#5a5a5a" stroke-width="1.2" stroke-linecap="butt"/>
<line x1="828.6" y1="1908.2" x2="828.6" y2="1914.6" stroke="#5a5a5a" stroke-width="1.2" stroke-linecap="butt"/>
<line x1="835.2" y1="1883.3" x2="835.2" y2="1892.2" stroke="#5a5a5a" stroke-width="1.2" stroke-linecap="butt"/>
<line x1="146.3" y1="1908.2" x2="146.3" y2="1916" stroke="#5a5a5a" stroke-width="1.2" stroke-linecap="butt"/>
<line x1="433.6" y1="1908.2" x2="433.6" y2="1916.9" stroke="#5a5a5a" stroke-width="1.2" stroke-linecap="butt"/>
<line x1="245.4" y1="1908.2" x2="245.4" y2="1911.2" stroke="#5a5a5a" stroke-width="1.2" stroke-linecap="butt"/>
<line x1="661.9" y1="1885.2" x2="661.9" y2="1892.2" stroke="#5a5a5a" stroke-width="1.2" stroke-linecap="butt"/>
<line x1="131.2" y1="1884" x2="131.2" y2="1892.2" stroke="#5a5a5a" stroke-width="1.2" stroke-linecap="butt"/>
<line x1="363.9" y1="1908.2" x2="363.9" y2="1914" stroke="#5a5a5a" stroke-width="1.2" stroke-linecap="butt"/>
<line x1="260.3" y1="1908.2" x2="260.3" y2="1912.1" stroke="#5a5a5a" stroke-width="1.2" stroke-linecap="butt"/>
<line x1="603.4" y1="1908.2" x2="603.4" y2="1916.8" stroke="#5a5a5a" stroke-width="1.2" stroke-linecap="butt"/>
<line x1="571.4" y1="1886.2" x2="571.4" y2="1892.2" stroke="#5a5a5a" stroke-width="1.2" stroke-linecap="butt"/>
<line x1="351.9" y1="1887.3" x2="351.9" y2="1892.2" stroke="#5a5a5a" stroke-width="1.2" stroke-linecap="butt"/>
<line x1="276.8" y1="1884.7" x2="276.8" y2="1892.2" stroke="#5a5a5a" stroke-width="1.2" stroke-linecap="butt"/>
<line x1="119.5" y1="1908.2" x2="119.5" y2="1913.4" stroke="#5a5a5a" stroke-width="1.2" stroke-linecap="butt"/>
<line x1="650" y1="1908.2" x2="650" y2="1914.1" stroke="#5a5a5a" stroke-width="1.2" stroke-linecap="butt"/>
<line x1="756.1" y1="1908.2" x2="756.1" y2="1916.6" stroke="#5a5a5a" stroke-width="1.2" stroke-linecap="butt"/>
<line x1="596.1" y1="1908.2" x2="596.1" y2="1916.4" stroke="#5a5a5a" stroke-width="1.2" stroke-linecap="butt"/>
<line x1="697.2" y1="1886.3" x2="697.2" y2="1892.2" stroke="#5a5a5a" stroke-width="1.2" stroke-linecap="butt"/>
<line x1="174.6" y1="1908.2" x2="174.6" y2="1915.1" stroke="#5a5a5a" stroke-width="1.2" stroke-linecap="butt"/>
<line x1="790.2" y1="1888.4" x2="790.2" y2="1892.2" stroke="#5a5a5a" stroke-width="1.2" stroke-linecap="butt"/>
<line x1="646.8" y1="1908.2" x2="646.8" y2="1911.6" stroke="#5a5a5a" stroke-width="1.2" stroke-linecap="butt"/>
<line x1="134.4" y1="1887.2" x2="134.4" y2="1892.2" stroke="#5a5a5a" stroke-width="1.2" stroke-linecap="butt"/>
<line x1="152.2" y1="1888" x2="152.2" y2="1892.2" stroke="#5a5a5a" stroke-width="1.2" stroke-linecap="butt"/>
<line x1="120.6" y1="1889" x2="120.6" y2="1892.2" stroke="#5a5a5a" stroke-width="1.2" stroke-linecap="butt"/>
<line x1="416.8" y1="1908.2" x2="416.8" y2="1915.2" stroke="#5a5a5a" stroke-width="1.2" stroke-linecap="butt"/>
<line x1="612.1" y1="1888.1" x2="612.1" y2="1892.2" stroke="#5a5a5a" stroke-width="1.2" stroke-linecap="butt"/>
<line x1="149" y1="1883.5" x2="149" y2="1892.2" stroke="#5a5a5a" stroke-width="1.2" stroke-linecap="butt"/>
<line x1="786.5" y1="1908.2" x2="786.5" y2="1914.9" stroke="#5a5a5a" stroke-width="1.2" stroke-linecap="butt"/>
<line x1="729.2" y1="1908.2" x2="729.2" y2="1912.6" stroke="#5a5a5a" stroke-width="1.2" stroke-linecap="butt"/>
<line x1="776.8" y1="1908.2" x2="776.8" y2="1912.9" stroke="#5a5a5a" stroke-width="1.2" stroke-linecap="butt"/>
<line x1="348.3" y1="1885.9" x2="348.3" y2="1892.2" stroke="#5a5a5a" stroke-width="1.2" stroke-linecap="butt"/>
<line x1="915.3" y1="1908.2" x2="915.3" y2="1912.2" stroke="#5a5a5a" stroke-width="1.2" stroke-linecap="butt"/>
<line x1="208.6" y1="1888.2" x2="208.6" y2="1892.2" stroke="#5a5a5a" stroke-width="1.2" stroke-linecap="butt"/>
<line x1="227.4" y1="1908.2" x2="227.4" y2="1913.1" stroke="#5a5a5a" stroke-width="1.2" stroke-linecap="butt"/>
<line x1="579.7" y1="1883.3" x2="579.7" y2="1892.2" stroke="#5a5a5a" stroke-width="1.2" stroke-linecap="butt"/>
<line x1="601.8" y1="1884.5" x2="601.8" y2="1892.2" stroke="#5a5a5a" stroke-width="1.2" stroke-linecap="butt"/>
<line x1="350" y1="1887.5" x2="350" y2="1892.2" stroke="#5a5a5a" stroke-width="1.2" stroke-linecap="butt"/>
<line x1="516.5" y1="1887.3" x2="516.5" y2="1892.2" stroke="#5a5a5a" stroke-width="1.2" stroke-linecap="butt"/>
<line x1="240" y1="1908.2" x2="240" y2="1912.4" stroke="#5a5a5a" stroke-width="1.2" stroke-linecap="butt"/>
<line x1="344.2" y1="1888.5" x2="344.2" y2="1892.2" stroke="#5a5a5a" stroke-width="1.2" stroke-linecap="butt"/>
<line x1="299.5" y1="1885.7" x2="299.5" y2="1892.2" stroke="#5a5a5a" stroke-width="1.2" stroke-linecap="butt"/>
<line x1="555.4" y1="1885.1" x2="555.4" y2="1892.2" stroke="#5a5a5a" stroke-width="1.2" stroke-linecap="butt"/>
<line x1="729.6" y1="1887.8" x2="729.6" y2="1892.2" stroke="#5a5a5a" stroke-width="1.2" stroke-linecap="butt"/>
<line x1="629.5" y1="1884.2" x2="629.5" y2="1892.2" stroke="#5a5a5a" stroke-width="1.2" stroke-linecap="butt"/>
<line x1="116.9" y1="1908.2" x2="116.9" y2="1913.3" stroke="#5a5a5a" stroke-width="1.2" stroke-linecap="butt"/>
<line x1="285.6" y1="1908.2" x2="285.6" y2="1912.5" stroke="#5a5a5a" stroke-width="1.2" stroke-linecap="butt"/>
<line x1="765.4" y1="1908.2" x2="765.4" y2="1917" stroke="#5a5a5a" stroke-width="1.2" stroke-linecap="butt"/>
<line x1="205.7" y1="1888.7" x2="205.7" y2="1892.2" stroke="#5a5a5a" stroke-width="1.2" stroke-linecap="butt"/>
<line x1="375.6" y1="1908.2" x2="375.6" y2="1915.1" stroke="#5a5a5a" stroke-width="1.2" stroke-linecap="butt"/>
<line x1="237.7" y1="1884.7" x2="237.7" y2="1892.2" stroke="#5a5a5a" stroke-width="1.2" stroke-linecap="butt"/>
<line x1="627.7" y1="1885.7" x2="627.7" y2="1892.2" stroke="#5a5a5a" stroke-width="1.2" stroke-linecap="butt"/>
<line x1="267" y1="1888.6" x2="267" y2="1892.2" stroke="#5a5a5a" stroke-width="1.2" stroke-linecap="butt"/>
<line x1="934.2" y1="1885.5" x2="934.2" y2="1892.2" stroke="#5a5a5a" stroke-width="1.2" stroke-linecap="butt"/>
<line x1="278.8" y1="1885.3" x2="278.8" y2="1892.2" stroke="#5a5a5a" stroke-width="1.2" stroke-linecap="butt"/>
<line x1="730.5" y1="1908.2" x2="730.5" y2="1912.7" stroke="#5a5a5a" stroke-width="1.2" stroke-linecap="butt"/>
<line x1="308.5" y1="1887.3" x2="308.5" y2="1892.2" stroke="#5a5a5a" stroke-width="1.2" stroke-linecap="butt"/>
<line x1="791.1" y1="1887" x2="791.1" y2="1892.2" stroke="#5a5a5a" stroke-width="1.2" stroke-linecap="butt"/>
<line x1="527.2" y1="1908.2" x2="527.2" y2="1913.3" stroke="#5a5a5a" stroke-width="1.2" stroke-linecap="butt"/>
<line x1="116.1" y1="1908.2" x2="116.1" y2="1911.9" stroke="#5a5a5a" stroke-width="1.2" stroke-linecap="butt"/>
<line x1="820.1" y1="1887.7" x2="820.1" y2="1892.2" stroke="#5a5a5a" stroke-width="1.2" stroke-linecap="butt"/>
<line x1="554.5" y1="1908.2" x2="554.5" y2="1913.5" stroke="#5a5a5a" stroke-width="1.2" stroke-linecap="butt"/>
<line x1="508.8" y1="1888.5" x2="508.8" y2="1892.2" stroke="#5a5a5a" stroke-width="1.2" stroke-linecap="butt"/>
<line x1="348.8" y1="1908.2" x2="348.8" y2="1916.8" stroke="#5a5a5a" stroke-width="1.2" stroke-linecap="butt"/>
<line x1="321.1" y1="1908.2" x2="321.1" y2="1911.3" stroke="#5a5a5a" stroke-width="1.2" stroke-linecap="butt"/>
<line x1="707.1" y1="1886.6" x2="707.1" y2="1892.2" stroke="#5a5a5a" stroke-width="1.2" stroke-linecap="butt"/>
<line x1="452.5" y1="1883.6" x2="452.5" y2="1892.2" stroke="#5a5a5a" stroke-width="1.2" stroke-linecap="butt"/>
<line x1="402.1" y1="1888.5" x2="402.1" y2="1892.2" stroke="#5a5a5a" stroke-width="1.2" stroke-linecap="butt"/>
<line x1="732.6" y1="1888.8" x2="732.6" y2="1892.2" stroke="#5a5a5a" stroke-width="1.2" stroke-linecap="butt"/>
<line x1="271.5" y1="1908.2" x2="271.5" y2="1913.9" stroke="#5a5a5a" stroke-width="1.2" stroke-linecap="butt"/>
<line x1="232.1" y1="1908.2" x2="232.1" y2="1913.5" stroke="#5a5a5a" stroke-width="1.2" stroke-linecap="butt"/>
<line x1="569.1" y1="1908.2" x2="569.1" y2="1915.4" stroke="#5a5a5a" stroke-width="1.2" stroke-linecap="butt"/>
<line x1="554.2" y1="1908.2" x2="554.2" y2="1914.2" stroke="#5a5a5a" stroke-width="1.2" stroke-linecap="butt"/>
<line x1="485.8" y1="1908.2" x2="485.8" y2="1916.9" stroke="#5a5a5a" stroke-width="1.2" stroke-linecap="butt"/>
<line x1="707.8" y1="1886.8" x2="707.8" y2="1892.2" stroke="#5a5a5a" stroke-width="1.2" stroke-linecap="butt"/>
<line x1="116.2" y1="1884.5" x2="116.2" y2="1892.2" stroke="#5a5a5a" stroke-width="1.2" stroke-linecap="butt"/>
<line x1="515.9" y1="1908.2" x2="515.9" y2="1915.2" stroke="#5a5a5a" stroke-width="1.2" stroke-linecap="butt"/>
<line x1="580.1" y1="1908.2" x2="580.1" y2="1914.2" stroke="#5a5a5a" stroke-width="1.2" stroke-linecap="butt"/>
<line x1="664.3" y1="1887.1" x2="664.3" y2="1892.2" stroke="#5a5a5a" stroke-width="1.2" stroke-linecap="butt"/>
<line x1="745.7" y1="1883.3" x2="745.7" y2="1892.2" stroke="#5a5a5a" stroke-width="1.2" stroke-linecap="butt"/>
<line x1="908.8" y1="1908.2" x2="908.8" y2="1914" stroke="#5a5a5a" stroke-width="1.2" stroke-linecap="butt"/>
<line x1="483.5" y1="1886.4" x2="483.5" y2="1892.2" stroke="#5a5a5a" stroke-width="1.2" stroke-linecap="butt"/>
<line x1="293.4" y1="1908.2" x2="293.4" y2="1916.5" stroke="#5a5a5a" stroke-width="1.2" stroke-linecap="butt"/>
<line x1="525.7" y1="1908.2" x2="525.7" y2="1912.9" stroke="#5a5a5a" stroke-width="1.2" stroke-linecap="butt"/>
<line x1="824.5" y1="1908.2" x2="824.5" y2="1915.2" stroke="#5a5a5a" stroke-width="1.2" stroke-linecap="butt"/>
<line x1="910.5" y1="1908.2" x2="910.5" y2="1915.4" stroke="#5a5a5a" stroke-width="1.2" stroke-linecap="butt"/>
<line x1="502.7" y1="1888.4" x2="502.7" y2="1892.2" stroke="#5a5a5a" stroke-width="1.2" stroke-linecap="butt"/>
<line x1="798" y1="1885.1" x2="798" y2="1892.2" stroke="#5a5a5a" stroke-width="1.2" stroke-linecap="butt"/>
<line x1="242.1" y1="1908.2" x2="242.1" y2="1916.9" stroke="#5a5a5a" stroke-width="1.2" stroke-linecap="butt"/>
<line x1="623.5" y1="1884.8" x2="623.5" y2="1892.2" stroke="#5a5a5a" stroke-width="1.2" stroke-linecap="butt"/>
<line x1="505" y1="1908.2" x2="505" y2="1912.1" stroke="#5a5a5a" stroke-width="1.2" stroke-linecap="butt"/>
<line x1="342.5" y1="1908.2" x2="342.5" y2="1916.2" stroke="#5a5a5a" stroke-width="1.2" stroke-linecap="butt"/>
<line x1="865.7" y1="1908.2" x2="865.7" y2="1915.2" stroke="#5a5a5a" stroke-width="1.2" stroke-linecap="butt"/>
<line x1="885.5" y1="1908.2" x2="885.5" y2="1911.7" stroke="#5a5a5a" stroke-width="1.2" stroke-linecap="butt"/>
<line x1="237.7" y1="1888.5" x2="237.7" y2="1892.2" stroke="#5a5a5a" stroke-width="1.2" stroke-linecap="butt"/>
<line x1="131.5" y1="1885.5" x2="131.5" y2="1892.2" stroke="#5a5a5a" stroke-width="1.2" stroke-linecap="butt"/>
<line x1="825.8" y1="1888.2" x2="825.8" y2="1892.2" stroke="#5a5a5a" stroke-width="1.2" stroke-linecap="butt"/>
<line x1="865.6" y1="1908.2" x2="865.6" y2="1917.1" stroke="#5a5a5a" stroke-width="1.2" stroke-linecap="butt"/>
<line x1="128.4" y1="1908.2" x2="128.4" y2="1915" stroke="#5a5a5a" stroke-width="1.2" stroke-linecap="butt"/>
<line x1="553.6" y1="1883.7" x2="553.6" y2="1892.2" stroke="#5a5a5a" stroke-width="1.2" stroke-linecap="butt"/>
<line x1="555.6" y1="1887.1" x2="555.6" y2="1892.2" stroke="#5a5a5a" stroke-width="1.2" stroke-linecap="butt"/>
<line x1="714.4" y1="1884.5" x2="714.4" y2="1892.2" stroke="#5a5a5a" stroke-width="1.2" stroke-linecap="butt"/>
<line x1="283.6" y1="1887.4" x2="283.6" y2="1892.2" stroke="#5a5a5a" stroke-width="1.2" stroke-linecap="butt"/>
<line x1="215.1" y1="1908.2" x2="215.1" y2="1913.2" stroke="#5a5a5a" stroke-width="1.2" stroke-linecap="butt"/>
<line x1="734.5" y1="1908.2" x2="734.5" y2="1912.9" stroke="#5a5a5a" stroke-width="1.2" stroke-linecap="butt"/>
<line x1="113.4" y1="1908.2" x2="113.4" y2="1912.6" stroke="#5a5a5a" stroke-width="1.2" stroke-linecap="butt"/>
<line x1="836.4" y1="1884.9" x2="836.4" y2="1892.2" stroke="#5a5a5a" stroke-width="1.2" stroke-linecap="butt"/>
<line x1="130.2" y1="1888" x2="130.2" y2="1892.2" stroke="#5a5a5a" stroke-width="1.2" stroke-linecap="butt"/>
<line x1="818.3" y1="1908.2" x2="818.3" y2="1915.2" stroke="#5a5a5a" stroke-width="1.2" stroke-linecap="butt"/>
<line x1="177.3" y1="1883.8" x2="177.3" y2="1892.2" stroke="#5a5a5a" stroke-width="1.2" stroke-linecap="butt"/>
<line x1="619.4" y1="1908.2" x2="619.4" y2="1914.2" stroke="#5a5a5a" stroke-width="1.2" stroke-linecap="butt"/>
<line x1="279.7" y1="1908.2" x2="279.7" y2="1912.8" stroke="#5a5a5a" stroke-width="1.2" stroke-linecap="butt"/>
<line x1="250.3" y1="1908.2" x2="250.3" y2="1911.7" stroke="#5a5a5a" stroke-width="1.2" stroke-linecap="butt"/>
<line x1="745.4" y1="1908.2" x2="745.4" y2="1913.5" stroke="#5a5a5a" stroke-width="1.2" stroke-linecap="butt"/>
<line x1="537.7" y1="1888.8" x2="537.7" y2="1892.2" stroke="#5a5a5a" stroke-width="1.2" stroke-linecap="butt"/>
<line x1="175.1" y1="1889.2" x2="175.1" y2="1892.2" stroke="#5a5a5a" stroke-width="1.2" stroke-linecap="butt"/>
<line x1="263.3" y1="1885.4" x2="263.3" y2="1892.2" stroke="#5a5a5a" stroke-width="1.2" stroke-linecap="butt"/>
<line x1="538.1" y1="1884.6" x2="538.1" y2="1892.2" stroke="#5a5a5a" stroke-width="1.2" stroke-linecap="butt"/>
<line x1="770.2" y1="1908.2" x2="770.2" y2="1915.3" stroke="#5a5a5a" stroke-width="1.2" stroke-linecap="butt"/>
<line x1="319.8" y1="1908.2" x2="319.8" y2="1914.7" stroke="#5a5a5a" stroke-width="1.2" stroke-linecap="butt"/>
<line x1="256.6" y1="1908.2" x2="256.6" y2="1915" stroke="#5a5a5a" stroke-width="1.2" stroke-linecap="butt"/>
<line x1="582.3" y1="1884.6" x2="582.3" y2="1892.2" stroke="#5a5a5a" stroke-width="1.2" stroke-linecap="butt"/>
<line x1="716.6" y1="1908.2" x2="716.6" y2="1911.6" stroke="#5a5a5a" stroke-width="1.2" stroke-linecap="butt"/>
<line x1="301.9" y1="1908.2" x2="301.9" y2="1913.6" stroke="#5a5a5a" stroke-width="1.2" stroke-linecap="butt"/>
<line x1="635.8" y1="1885.8" x2="635.8" y2="1892.2" stroke="#5a5a5a" stroke-width="1.2" stroke-linecap="butt"/>
<line x1="615.7" y1="1908.2" x2="615.7" y2="1917" stroke="#5a5a5a" stroke-width="1.2" stroke-linecap="butt"/>
<line x1="488.5" y1="1888.2" x2="488.5" y2="1892.2" stroke="#5a5a5a" stroke-width="1.2" stroke-linecap="butt"/>
<line x1="387.1" y1="1883.4" x2="387.1" y2="1892.2" stroke="#5a5a5a" stroke-width="1.2" stroke-linecap="butt"/>
<line x1="534.5" y1="1908.2" x2="534.5" y2="1915.6" stroke="#5a5a5a" stroke-width="1.2" stroke-linecap="butt"/>
<line x1="120.2" y1="1886" x2="120.2" y2="1892.2" stroke="#5a5a5a" stroke-width="1.2" stroke-linecap="butt"/>
<line x1="156.5" y1="1884.7" x2="156.5" y2="1892.2" stroke="#5a5a5a" stroke-width="1.2" stroke-linecap="butt"/>
<line x1="670" y1="1888.5" x2="670" y2="1892.2" stroke="#5a5a5a" stroke-width="1.2" stroke-linecap="butt"/>
<line x1="810.9" y1="1887.3" x2="810.9" y2="1892.2" stroke="#5a5a5a" stroke-width="1.2" stroke-linecap="butt"/>
<line x1="707.6" y1="1908.2" x2="707.6" y2="1917.2" stroke="#5a5a5a" stroke-width="1.2" stroke-linecap="butt"/>
<line x1="195" y1="1908.2" x2="195" y2="1914" stroke="#5a5a5a" stroke-width="1.2" stroke-linecap="butt"/>
<line x1="315.4" y1="1889.1" x2="315.4" y2="1892.2" stroke="#5a5a5a" stroke-width="1.2" stroke-linecap="butt"/>
<line x1="212.5" y1="1885" x2="212.5" y2="1892.2" stroke="#5a5a5a" stroke-width="1.2" stroke-linecap="butt"/>
<line x1="698.6" y1="1887.4" x2="698.6" y2="1892.2" stroke="#5a5a5a" stroke-width="1.2" stroke-linecap="butt"/>
<line x1="752.1" y1="1887.1" x2="752.1" y2="1892.2" stroke="#5a5a5a" stroke-width="1.2" stroke-linecap="butt"/>
<line x1="896.1" y1="1908.2" x2="896.1" y2="1914.4" stroke="#5a5a5a" stroke-width="1.2" stroke-linecap="butt"/>
<line x1="617.2" y1="1886.8" x2="617.2" y2="1892.2" stroke="#5a5a5a" stroke-width="1.2" stroke-linecap="butt"/>
<line x1="765.4" y1="1908.2" x2="765.4" y2="1916.5" stroke="#5a5a5a" stroke-width="1.2" stroke-linecap="butt"/>
<line x1="367.3" y1="1887.8" x2="367.3" y2="1892.2" stroke="#5a5a5a" stroke-width="1.2" stroke-linecap="butt"/>
<line x1="263.2" y1="1888" x2="263.2" y2="1892.2" stroke="#5a5a5a" stroke-width="1.2" stroke-linecap="butt"/>
<line x1="245.2" y1="1886.7" x2="245.2" y2="1892.2" stroke="#5a5a5a" stroke-width="1.2" stroke-linecap="butt"/>
<line x1="745" y1="1908.2" x2="745" y2="1914.4" stroke="#5a5a5a" stroke-width="1.2" stroke-linecap="butt"/>
<line x1="655.5" y1="1887.3" x2="655.5" y2="1892.2" stroke="#5a5a5a" stroke-width="1.2" stroke-linecap="butt"/>
<line x1="528.1" y1="1908.2" x2="528.1" y2="1916.9" stroke="#5a5a5a" stroke-width="1.2" stroke-linecap="butt"/>
<line x1="788.7" y1="1885.4" x2="788.7" y2="1892.2" stroke="#5a5a5a" stroke-width="1.2" stroke-linecap="butt"/>
<line x1="184.5" y1="1908.2" x2="184.5" y2="1916.3" stroke="#5a5a5a" stroke-width="1.2" stroke-linecap="butt"/>
<line x1="690.9" y1="1886.7" x2="690.9" y2="1892.2" stroke="#5a5a5a" stroke-width="1.2" stroke-linecap="butt"/>
<line x1="271.3" y1="1908.2" x2="271.3" y2="1915.5" stroke="#5a5a5a" stroke-width="1.2" stroke-linecap="butt"/>
<line x1="722.3" y1="1885.6" x2="722.3" y2="1892.2" stroke="#5a5a5a" stroke-width="1.2" stroke-linecap="butt"/>
<line x1="282.1" y1="1908.2" x2="282.1" y2="1916.8" stroke="#5a5a5a" stroke-width="1.2" stroke-linecap="butt"/>
<line x1="134.1" y1="1908.2" x2="134.1" y2="1915.5" stroke="#5a5a5a" stroke-width="1.2" stroke-linecap="butt"/>
<line x1="301.1" y1="1889.2" x2="301.1" y2="1892.2" stroke="#5a5a5a" stroke-width="1.2" stroke-linecap="butt"/>
<line x1="697.3" y1="1886.9" x2="697.3" y2="1892.2" stroke="#5a5a5a" stroke-width="1.2" stroke-linecap="butt"/>
<line x1="773.6" y1="1885" x2="773.6" y2="1892.2" stroke="#5a5a5a" stroke-width="1.2" stroke-linecap="butt"/>
<line x1="467.8" y1="1886.3" x2="467.8" y2="1892.2" stroke="#5a5a5a" stroke-width="1.2" stroke-linecap="butt"/>
<line x1="401.8" y1="1908.2" x2="401.8" y2="1915.2" stroke="#5a5a5a" stroke-width="1.2" stroke-linecap="butt"/>
<line x1="431.6" y1="1886.2" x2="431.6" y2="1892.2" stroke="#5a5a5a" stroke-width="1.2" stroke-linecap="butt"/>
<line x1="940.6" y1="1908.2" x2="940.6" y2="1911.6" stroke="#5a5a5a" stroke-width="1.2" stroke-linecap="butt"/>
<line x1="405.3" y1="1886.8" x2="405.3" y2="1892.2" stroke="#5a5a5a" stroke-width="1.2" stroke-linecap="butt"/>
<line x1="202" y1="1886" x2="202" y2="1892.2" stroke="#5a5a5a" stroke-width="1.2" stroke-linecap="butt"/>
<line x1="709.1" y1="1908.2" x2="709.1" y2="1915.2" stroke="#5a5a5a" stroke-width="1.2" stroke-linecap="butt"/>
<line x1="669.8" y1="1887.9" x2="669.8" y2="1892.2" stroke="#5a5a5a" stroke-width="1.2" stroke-linecap="butt"/>
<line x1="389.1" y1="1886.9" x2="389.1" y2="1892.2" stroke="#5a5a5a" stroke-width="1.2" stroke-linecap="butt"/>
<line x1="441.3" y1="1889.1" x2="441.3" y2="1892.2" stroke="#5a5a5a" stroke-width="1.2" stroke-linecap="butt"/>
<line x1="829.1" y1="1908.2" x2="829.1" y2="1914.9" stroke="#5a5a5a" stroke-width="1.2" stroke-linecap="butt"/>
<line x1="335.9" y1="1883.7" x2="335.9" y2="1892.2" stroke="#5a5a5a" stroke-width="1.2" stroke-linecap="butt"/>
<line x1="608.1" y1="1908.2" x2="608.1" y2="1915.4" stroke="#5a5a5a" stroke-width="1.2" stroke-linecap="butt"/>
<line x1="925.4" y1="1908.2" x2="925.4" y2="1911.8" stroke="#5a5a5a" stroke-width="1.2" stroke-linecap="butt"/>
<line x1="529.7" y1="1908.2" x2="529.7" y2="1912" stroke="#5a5a5a" stroke-width="1.2" stroke-linecap="butt"/>
<line x1="151.3" y1="1888.8" x2="151.3" y2="1892.2" stroke="#5a5a5a" stroke-width="1.2" stroke-linecap="butt"/>
<line x1="245.1" y1="1908.2" x2="245.1" y2="1914.8" stroke="#5a5a5a" stroke-width="1.2" stroke-linecap="butt"/>
<line x1="718" y1="1908.2" x2="718" y2="1913.3" stroke="#5a5a5a" stroke-width="1.2" stroke-linecap="butt"/>
<line x1="763.7" y1="1887" x2="763.7" y2="1892.2" stroke="#5a5a5a" stroke-width="1.2" stroke-linecap="butt"/>
<line x1="454.6" y1="1908.2" x2="454.6" y2="1915.8" stroke="#5a5a5a" stroke-width="1.2" stroke-linecap="butt"/>
<line x1="580.7" y1="1908.2" x2="580.7" y2="1912.9" stroke="#5a5a5a" stroke-width="1.2" stroke-linecap="butt"/>
<line x1="602.7" y1="1908.2" x2="602.7" y2="1913.8" stroke="#5a5a5a" stroke-width="1.2" stroke-linecap="butt"/>
<line x1="734.6" y1="1908.2" x2="734.6" y2="1914.3" stroke="#5a5a5a" stroke-width="1.2" stroke-linecap="butt"/>
<line x1="615" y1="1887.9" x2="615" y2="1892.2" stroke="#5a5a5a" stroke-width="1.2" stroke-linecap="butt"/>
<line x1="254.9" y1="1908.2" x2="254.9" y2="1915.2" stroke="#5a5a5a" stroke-width="1.2" stroke-linecap="butt"/>
<line x1="697.9" y1="1887.2" x2="697.9" y2="1892.2" stroke="#5a5a5a" stroke-width="1.2" stroke-linecap="butt"/>
<line x1="230.2" y1="1908.2" x2="230.2" y2="1913.7" stroke="#5a5a5a" stroke-width="1.2" stroke-linecap="butt"/>
<line x1="336" y1="1883.5" x2="336" y2="1892.2" stroke="#5a5a5a" stroke-width="1.2" stroke-linecap="butt"/>
<line x1="509.9" y1="1908.2" x2="509.9" y2="1913.1" stroke="#5a5a5a" stroke-width="1.2" stroke-linecap="butt"/>
<line x1="288.3" y1="1908.2" x2="288.3" y2="1916.7" stroke="#5a5a5a" stroke-width="1.2" stroke-linecap="butt"/>
<line x1="245.2" y1="1908.2" x2="245.2" y2="1914.7" stroke="#5a5a5a" stroke-width="1.2" stroke-linecap="butt"/>
<line x1="861.7" y1="1908.2" x2="861.7" y2="1913.8" stroke="#5a5a5a" stroke-width="1.2" stroke-linecap="butt"/>
<line x1="892.4" y1="1886.5" x2="892.4" y2="1892.2" stroke="#5a5a5a" stroke-width="1.2" stroke-linecap="butt"/>
<line x1="477.9" y1="1886.3" x2="477.9" y2="1892.2" stroke="#5a5a5a" stroke-width="1.2" stroke-linecap="butt"/>
<line x1="735.5" y1="1886.3" x2="735.5" y2="1892.2" stroke="#5a5a5a" stroke-width="1.2" stroke-linecap="butt"/>
<line x1="546.3" y1="1885.3" x2="546.3" y2="1892.2" stroke="#5a5a5a" stroke-width="1.2" stroke-linecap="butt"/>
<line x1="319.2" y1="1908.2" x2="319.2" y2="1914.6" stroke="#5a5a5a" stroke-width="1.2" stroke-linecap="butt"/>
<line x1="732.3" y1="1908.2" x2="732.3" y2="1916.8" stroke="#5a5a5a" stroke-width="1.2" stroke-linecap="butt"/>
<line x1="526.8" y1="1887.7" x2="526.8" y2="1892.2" stroke="#5a5a5a" stroke-width="1.2" stroke-linecap="butt"/>
<line x1="763.6" y1="1908.2" x2="763.6" y2="1916" stroke="#5a5a5a" stroke-width="1.2" stroke-linecap="butt"/>
<line x1="802.8" y1="1908.2" x2="802.8" y2="1916.6" stroke="#5a5a5a" stroke-width="1.2" stroke-linecap="butt"/>
<line x1="656" y1="1908.2" x2="656" y2="1916.2" stroke="#5a5a5a" stroke-width="1.2" stroke-linecap="butt"/>
<line x1="651.7" y1="1908.2" x2="651.7" y2="1916.8" stroke="#5a5a5a" stroke-width="1.2" stroke-linecap="butt"/>
<line x1="438" y1="1908.2" x2="438" y2="1913" stroke="#5a5a5a" stroke-width="1.2" stroke-linecap="butt"/>
<line x1="513.8" y1="1908.2" x2="513.8" y2="1917" stroke="#5a5a5a" stroke-width="1.2" stroke-linecap="butt"/>
<line x1="897.7" y1="1908.2" x2="897.7" y2="1916.3" stroke="#5a5a5a" stroke-width="1.2" stroke-linecap="butt"/>
<line x1="845.2" y1="1908.2" x2="845.2" y2="1912.7" stroke="#5a5a5a" stroke-width="1.2" stroke-linecap="butt"/>
<line x1="123.6" y1="1908.2" x2="123.6" y2="1915.8" stroke="#5a5a5a" stroke-width="1.2" stroke-linecap="butt"/>
<line x1="717.5" y1="1908.2" x2="717.5" y2="1915.1" stroke="#5a5a5a" stroke-width="1.2" stroke-linecap="butt"/>
<line x1="707" y1="1908.2" x2="707" y2="1915.2" stroke="#5a5a5a" stroke-width="1.2" stroke-linecap="butt"/>
<line x1="295.6" y1="1908.2" x2="295.6" y2="1915" stroke="#5a5a5a" stroke-width="1.2" stroke-linecap="butt"/>
<line x1="582.3" y1="1888.4" x2="582.3" y2="1892.2" stroke="#5a5a5a" stroke-width="1.2" stroke-linecap="butt"/>
<line x1="653.7" y1="1884.4" x2="653.7" y2="1892.2" stroke="#5a5a5a" stroke-width="1.2" stroke-linecap="butt"/>
<line x1="260.4" y1="1908.2" x2="260.4" y2="1913.3" stroke="#5a5a5a" stroke-width="1.2" stroke-linecap="butt"/>
<line x1="859.2" y1="1888.3" x2="859.2" y2="1892.2" stroke="#5a5a5a" stroke-width="1.2" stroke-linecap="butt"/>
<line x1="670.9" y1="1908.2" x2="670.9" y2="1913.3" stroke="#5a5a5a" stroke-width="1.2" stroke-linecap="butt"/>
<line x1="501.8" y1="1908.2" x2="501.8" y2="1913" stroke="#5a5a5a" stroke-width="1.2" stroke-linecap="butt"/>
<line x1="432.7" y1="1908.2" x2="432.7" y2="1913" stroke="#5a5a5a" stroke-width="1.2" stroke-linecap="butt"/>
<line x1="230.3" y1="1908.2" x2="230.3" y2="1911.9" stroke="#5a5a5a" stroke-width="1.2" stroke-linecap="butt"/>
<line x1="930.5" y1="1908.2" x2="930.5" y2="1913.9" stroke="#5a5a5a" stroke-width="1.2" stroke-linecap="butt"/>
<line x1="825.4" y1="1885.8" x2="825.4" y2="1892.2" stroke="#5a5a5a" stroke-width="1.2" stroke-linecap="butt"/>
<line x1="403.2" y1="1883.8" x2="403.2" y2="1892.2" stroke="#5a5a5a" stroke-width="1.2" stroke-linecap="butt"/>
<line x1="140.6" y1="1908.2" x2="140.6" y2="1911.7" stroke="#5a5a5a" stroke-width="1.2" stroke-linecap="butt"/>
<line x1="672.8" y1="1886" x2="672.8" y2="1892.2" stroke="#5a5a5a" stroke-width="1.2" stroke-linecap="butt"/>
<line x1="879.2" y1="1908.2" x2="879.2" y2="1911.8" stroke="#5a5a5a" stroke-width="1.2" stroke-linecap="butt"/>
<line x1="362.9" y1="1884.9" x2="362.9" y2="1892.2" stroke="#5a5a5a" stroke-width="1.2" stroke-linecap="butt"/>
<line x1="113.5" y1="1908.2" x2="113.5" y2="1916.3" stroke="#5a5a5a" stroke-width="1.2" stroke-linecap="butt"/>
<line x1="904.9" y1="1887.9" x2="904.9" y2="1892.2" stroke="#5a5a5a" stroke-width="1.2" stroke-linecap="butt"/>
<line x1="802.2" y1="1908.2" x2="802.2" y2="1912.7" stroke="#5a5a5a" stroke-width="1.2" stroke-linecap="butt"/>
<line x1="122.9" y1="1885.1" x2="122.9" y2="1892.2" stroke="#5a5a5a" stroke-width="1.2" stroke-linecap="butt"/>
<line x1="718.9" y1="1883.7" x2="718.9" y2="1892.2" stroke="#5a5a5a" stroke-width="1.2" stroke-linecap="butt"/>
<line x1="533.2" y1="1908.2" x2="533.2" y2="1913.6" stroke="#5a5a5a" stroke-width="1.2" stroke-linecap="butt"/>
<line x1="444.6" y1="1884.3" x2="444.6" y2="1892.2" stroke="#5a5a5a" stroke-width="1.2" stroke-linecap="butt"/>
<line x1="475.3" y1="1886.6" x2="475.3" y2="1892.2" stroke="#5a5a5a" stroke-width="1.2" stroke-linecap="butt"/>
<line x1="879.4" y1="1908.2" x2="879.4" y2="1911.8" stroke="#5a5a5a" stroke-width="1.2" stroke-linecap="butt"/>
<line x1="457.8" y1="1889.1" x2="457.8" y2="1892.2" stroke="#5a5a5a" stroke-width="1.2" stroke-linecap="butt"/>
<line x1="909.3" y1="1908.2" x2="909.3" y2="1911.8" stroke="#5a5a5a" stroke-width="1.2" stroke-linecap="butt"/>
<line x1="568.6" y1="1887.9" x2="568.6" y2="1892.2" stroke="#5a5a5a" stroke-width="1.2" stroke-linecap="butt"/>
<line x1="337.1" y1="1885.1" x2="337.1" y2="1892.2" stroke="#5a5a5a" stroke-width="1.2" stroke-linecap="butt"/>
<line x1="414.1" y1="1908.2" x2="414.1" y2="1916.1" stroke="#5a5a5a" stroke-width="1.2" stroke-linecap="butt"/>
<line x1="585.6" y1="1888.4" x2="585.6" y2="1892.2" stroke="#5a5a5a" stroke-width="1.2" stroke-linecap="butt"/>
<line x1="651.2" y1="1908.2" x2="651.2" y2="1915.9" stroke="#5a5a5a" stroke-width="1.2" stroke-linecap="butt"/>
<line x1="223.4" y1="1883.9" x2="223.4" y2="1892.2" stroke="#5a5a5a" stroke-width="1.2" stroke-linecap="butt"/>
<line x1="613.7" y1="1884.9" x2="613.7" y2="1892.2" stroke="#5a5a5a" stroke-width="1.2" stroke-linecap="butt"/>
<line x1="155.7" y1="1908.2" x2="155.7" y2="1914.5" stroke="#5a5a5a" stroke-width="1.2" stroke-linecap="butt"/>
<line x1="704.3" y1="1883.7" x2="704.3" y2="1892.2" stroke="#5a5a5a" stroke-width="1.2" stroke-linecap="butt"/>
<line x1="891.8" y1="1908.2" x2="891.8" y2="1915.8" stroke="#5a5a5a" stroke-width="1.2" stroke-linecap="butt"/>
<line x1="368.3" y1="1908.2" x2="368.3" y2="1914.9" stroke="#5a5a5a" stroke-width="1.2" stroke-linecap="butt"/>
<line x1="707" y1="1908.2" x2="707" y2="1912.4" stroke="#5a5a5a" stroke-width="1.2" stroke-linecap="butt"/>
<line x1="819.1" y1="1908.2" x2="819.1" y2="1912.5" stroke="#5a5a5a" stroke-width="1.2" stroke-linecap="butt"/>
<line x1="423.5" y1="1886.6" x2="423.5" y2="1892.2" stroke="#5a5a5a" stroke-width="1.2" stroke-linecap="butt"/>
<line x1="932.7" y1="1886.8" x2="932.7" y2="1892.2" stroke="#5a5a5a" stroke-width="1.2" stroke-linecap="butt"/>
<line x1="777.4" y1="1888.5" x2="777.4" y2="1892.2" stroke="#5a5a5a" stroke-width="1.2" stroke-linecap="butt"/>
<line x1="729.7" y1="1885.5" x2="729.7" y2="1892.2" stroke="#5a5a5a" stroke-width="1.2" stroke-linecap="butt"/>
<line x1="788.8" y1="1908.2" x2="788.8" y2="1911.7" stroke="#5a5a5a" stroke-width="1.2" stroke-linecap="butt"/>
<line x1="280.7" y1="1908.2" x2="280.7" y2="1916.9" stroke="#5a5a5a" stroke-width="1.2" stroke-linecap="butt"/>
<line x1="653.2" y1="1908.2" x2="653.2" y2="1914.8" stroke="#5a5a5a" stroke-width="1.2" stroke-linecap="butt"/>
<line x1="380.2" y1="1908.2" x2="380.2" y2="1911.3" stroke="#5a5a5a" stroke-width="1.2" stroke-linecap="butt"/>
<line x1="453.6" y1="1908.2" x2="453.6" y2="1912.4" stroke="#5a5a5a" stroke-width="1.2" stroke-linecap="butt"/>
<line x1="648.7" y1="1908.2" x2="648.7" y2="1912.1" stroke="#5a5a5a" stroke-width="1.2" stroke-linecap="butt"/>
<line x1="823" y1="1883.4" x2="823" y2="1892.2" stroke="#5a5a5a" stroke-width="1.2" stroke-linecap="butt"/>
<line x1="395.7" y1="1908.2" x2="395.7" y2="1916.9" stroke="#5a5a5a" stroke-width="1.2" stroke-linecap="butt"/>
<line x1="791.5" y1="1888" x2="791.5" y2="1892.2" stroke="#5a5a5a" stroke-width="1.2" stroke-linecap="butt"/>
<line x1="620.7" y1="1908.2" x2="620.7" y2="1911.6" stroke="#5a5a5a" stroke-width="1.2" stroke-linecap="butt"/>
<line x1="427.3" y1="1908.2" x2="427.3" y2="1914.4" stroke="#5a5a5a" stroke-width="1.2" stroke-linecap="butt"/>
<line x1="259.5" y1="1908.2" x2="259.5" y2="1913.9" stroke="#5a5a5a" stroke-width="1.2" stroke-linecap="butt"/>
<line x1="869.6" y1="1889" x2="869.6" y2="1892.2" stroke="#5a5a5a" stroke-width="1.2" stroke-linecap="butt"/>
<line x1="243.2" y1="1883.5" x2="243.2" y2="1892.2" stroke="#5a5a5a" stroke-width="1.2" stroke-linecap="butt"/>
<line x1="408" y1="1883.3" x2="408" y2="1892.2" stroke="#5a5a5a" stroke-width="1.2" stroke-linecap="butt"/>
<line x1="280.5" y1="1908.2" x2="280.5" y2="1916.9" stroke="#5a5a5a" stroke-width="1.2" stroke-linecap="butt"/>
<line x1="866.4" y1="1886.4" x2="866.4" y2="1892.2" stroke="#5a5a5a" stroke-width="1.2" stroke-linecap="butt"/>
<line x1="318.7" y1="1908.2" x2="318.7" y2="1912.7" stroke="#5a5a5a" stroke-width="1.2" stroke-linecap="butt"/>
<line x1="256.1" y1="1888.4" x2="256.1" y2="1892.2" stroke="#5a5a5a" stroke-width="1.2" stroke-linecap="butt"/>
<line x1="705.3" y1="1886.8" x2="705.3" y2="1892.2" stroke="#5a5a5a" stroke-width="1.2" stroke-linecap="butt"/>
<line x1="338" y1="1887.4" x2="338" y2="1892.2" stroke="#5a5a5a" stroke-width="1.2" stroke-linecap="butt"/>
<line x1="403.1" y1="1908.2" x2="403.1" y2="1912.2" stroke="#5a5a5a" stroke-width="1.2" stroke-linecap="butt"/>
<line x1="680.5" y1="1888.6" x2="680.5" y2="1892.2" stroke="#5a5a5a" stroke-width="1.2" stroke-linecap="butt"/>
<line x1="208.5" y1="1908.2" x2="208.5" y2="1911.5" stroke="#5a5a5a" stroke-width="1.2" stroke-linecap="butt"/>
<line x1="338.8" y1="1908.2" x2="338.8" y2="1911.7" stroke="#5a5a5a" stroke-width="1.2" stroke-linecap="butt"/>
<line x1="284.5" y1="1884.2" x2="284.5" y2="1892.2" stroke="#5a5a5a" stroke-width="1.2" stroke-linecap="butt"/>
<line x1="205.2" y1="1908.2" x2="205.2" y2="1911.9" stroke="#5a5a5a" stroke-width="1.2" stroke-linecap="butt"/>
<line x1="579.7" y1="1908.2" x2="579.7" y2="1914.6" stroke="#5a5a5a" stroke-width="1.2" stroke-linecap="butt"/>
<line x1="531.3" y1="1887.7" x2="531.3" y2="1892.2" stroke="#5a5a5a" stroke-width="1.2" stroke-linecap="butt"/>
<line x1="935.2" y1="1885.4" x2="935.2" y2="1892.2" stroke="#5a5a5a" stroke-width="1.2" stroke-linecap="butt"/>
<line x1="593.8" y1="1908.2" x2="593.8" y2="1912.7" stroke="#5a5a5a" stroke-width="1.2" stroke-linecap="butt"/>
<line x1="237.8" y1="1908.2" x2="237.8" y2="1914.3" stroke="#5a5a5a" stroke-width="1.2" stroke-linecap="butt"/>
<line x1="642.6" y1="1908.2" x2="642.6" y2="1915.9" stroke="#5a5a5a" stroke-width="1.2" stroke-linecap="butt"/>
<line x1="806.3" y1="1908.2" x2="806.3" y2="1911.2" stroke="#5a5a5a" stroke-width="1.2" stroke-linecap="butt"/>
<line x1="805.9" y1="1884.1" x2="805.9" y2="1892.2" stroke="#5a5a5a" stroke-width="1.2" stroke-linecap="butt"/>
<line x1="109.7" y1="1908.2" x2="109.7" y2="1915" stroke="#5a5a5a" stroke-width="1.2" stroke-linecap="butt"/>
<line x1="130.4" y1="1908.2" x2="130.4" y2="1914.7" stroke="#5a5a5a" stroke-width="1.2" stroke-linecap="butt"/>
<line x1="209.6" y1="1908.2" x2="209.6" y2="1914.7" stroke="#5a5a5a" stroke-width="1.2" stroke-linecap="butt"/>
<line x1="494" y1="1908.2" x2="494" y2="1912.4" stroke="#5a5a5a" stroke-width="1.2" stroke-linecap="butt"/>
<line x1="255.6" y1="1908.2" x2="255.6" y2="1912.2" stroke="#5a5a5a" stroke-width="1.2" stroke-linecap="butt"/>
<line x1="789.6" y1="1884.3" x2="789.6" y2="1892.2" stroke="#5a5a5a" stroke-width="1.2" stroke-linecap="butt"/>
<line x1="448.6" y1="1908.2" x2="448.6" y2="1914.8" stroke="#5a5a5a" stroke-width="1.2" stroke-linecap="butt"/>
<line x1="437.5" y1="1908.2" x2="437.5" y2="1915.1" stroke="#5a5a5a" stroke-width="1.2" stroke-linecap="butt"/>
<line x1="222.4" y1="1908.2" x2="222.4" y2="1916.1" stroke="#5a5a5a" stroke-width="1.2" stroke-linecap="butt"/>
<line x1="282.1" y1="1886.8" x2="282.1" y2="1892.2" stroke="#5a5a5a" stroke-width="1.2" stroke-linecap="butt"/>
<line x1="751.3" y1="1908.2" x2="751.3" y2="1913.1" stroke="#5a5a5a" stroke-width="1.2" stroke-linecap="butt"/>
<line x1="748.7" y1="1884.9" x2="748.7" y2="1892.2" stroke="#5a5a5a" stroke-width="1.2" stroke-linecap="butt"/>
<line x1="736.3" y1="1885.8" x2="736.3" y2="1892.2" stroke="#5a5a5a" stroke-width="1.2" stroke-linecap="butt"/>
<line x1="603.3" y1="1908.2" x2="603.3" y2="1913" stroke="#5a5a5a" stroke-width="1.2" stroke-linecap="butt"/>
<line x1="491.8" y1="1908.2" x2="491.8" y2="1912" stroke="#5a5a5a" stroke-width="1.2" stroke-linecap="butt"/>
<line x1="855.7" y1="1887.1" x2="855.7" y2="1892.2" stroke="#5a5a5a" stroke-width="1.2" stroke-linecap="butt"/>
<line x1="937.3" y1="1887.7" x2="937.3" y2="1892.2" stroke="#5a5a5a" stroke-width="1.2" stroke-linecap="butt"/>
<line x1="281.4" y1="1908.2" x2="281.4" y2="1915" stroke="#5a5a5a" stroke-width="1.2" stroke-linecap="butt"/>
<line x1="307.8" y1="1887.5" x2="307.8" y2="1892.2" stroke="#5a5a5a" stroke-width="1.2" stroke-linecap="butt"/>
<line x1="805.9" y1="1885.5" x2="805.9" y2="1892.2" stroke="#5a5a5a" stroke-width="1.2" stroke-linecap="butt"/>
<line x1="869.4" y1="1883.5" x2="869.4" y2="1892.2" stroke="#5a5a5a" stroke-width="1.2" stroke-linecap="butt"/>
<line x1="512.9" y1="1908.2" x2="512.9" y2="1912.8" stroke="#5a5a5a" stroke-width="1.2" stroke-linecap="butt"/>
<line x1="687" y1="1908.2" x2="687" y2="1914.8" stroke="#5a5a5a" stroke-width="1.2" stroke-linecap="butt"/>
<line x1="826.9" y1="1889.1" x2="826.9" y2="1892.2" stroke="#5a5a5a" stroke-width="1.2" stroke-linecap="butt"/>
<line x1="869.3" y1="1908.2" x2="869.3" y2="1914.9" stroke="#5a5a5a" stroke-width="1.2" stroke-linecap="butt"/>
<line x1="607.2" y1="1887.5" x2="607.2" y2="1892.2" stroke="#5a5a5a" stroke-width="1.2" stroke-linecap="butt"/>
<line x1="183.6" y1="1908.2" x2="183.6" y2="1916.3" stroke="#5a5a5a" stroke-width="1.2" stroke-linecap="butt"/>
<line x1="658.8" y1="1908.2" x2="658.8" y2="1913.2" stroke="#5a5a5a" stroke-width="1.2" stroke-linecap="butt"/>
<line x1="135" y1="1888.2" x2="135" y2="1892.2" stroke="#5a5a5a" stroke-width="1.2" stroke-linecap="butt"/>
<line x1="362.9" y1="1888.1" x2="362.9" y2="1892.2" stroke="#5a5a5a" stroke-width="1.2" stroke-linecap="butt"/>
<line x1="681.4" y1="1908.2" x2="681.4" y2="1916.1" stroke="#5a5a5a" stroke-width="1.2" stroke-linecap="butt"/>
<line x1="928.3" y1="1883.6" x2="928.3" y2="1892.2" stroke="#5a5a5a" stroke-width="1.2" stroke-linecap="butt"/>
<line x1="748" y1="1908.2" x2="748" y2="1917" stroke="#5a5a5a" stroke-width="1.2" stroke-linecap="butt"/>
<line x1="535.4" y1="1888.5" x2="535.4" y2="1892.2" stroke="#5a5a5a" stroke-width="1.2" stroke-linecap="butt"/>
<line x1="369.2" y1="1908.2" x2="369.2" y2="1914.6" stroke="#5a5a5a" stroke-width="1.2" stroke-linecap="butt"/>
<line x1="677.6" y1="1887.7" x2="677.6" y2="1892.2" stroke="#5a5a5a" stroke-width="1.2" stroke-linecap="butt"/>
<line x1="570.7" y1="1908.2" x2="570.7" y2="1913.8" stroke="#5a5a5a" stroke-width="1.2" stroke-linecap="butt"/>
<line x1="290.5" y1="1884.6" x2="290.5" y2="1892.2" stroke="#5a5a5a" stroke-width="1.2" stroke-linecap="butt"/>
<line x1="706.3" y1="1883.5" x2="706.3" y2="1892.2" stroke="#5a5a5a" stroke-width="1.2" stroke-linecap="butt"/>
<line x1="145.4" y1="1886.6" x2="145.4" y2="1892.2" stroke="#5a5a5a" stroke-width="1.2" stroke-linecap="butt"/>
<line x1="778.5" y1="1908.2" x2="778.5" y2="1915.3" stroke="#5a5a5a" stroke-width="1.2" stroke-linecap="butt"/>
<line x1="900.8" y1="1888.1" x2="900.8" y2="1892.2" stroke="#5a5a5a" stroke-width="1.2" stroke-linecap="butt"/>
<line x1="449.7" y1="1908.2" x2="449.7" y2="1912" stroke="#5a5a5a" stroke-width="1.2" stroke-linecap="butt"/>
<line x1="140.9" y1="1908.2" x2="140.9" y2="1917.1" stroke="#5a5a5a" stroke-width="1.2" stroke-linecap="butt"/>
<line x1="884.3" y1="1886.5" x2="884.3" y2="1892.2" stroke="#5a5a5a" stroke-width="1.2" stroke-linecap="butt"/>
<line x1="798.9" y1="1908.2" x2="798.9" y2="1913.3" stroke="#5a5a5a" stroke-width="1.2" stroke-linecap="butt"/>
<line x1="901.3" y1="1908.2" x2="901.3" y2="1912.1" stroke="#5a5a5a" stroke-width="1.2" stroke-linecap="butt"/>
<line x1="483.8" y1="1886.8" x2="483.8" y2="1892.2" stroke="#5a5a5a" stroke-width="1.2" stroke-linecap="butt"/>
<line x1="544.3" y1="1908.2" x2="544.3" y2="1913.2" stroke="#5a5a5a" stroke-width="1.2" stroke-linecap="butt"/>
<line x1="649.6" y1="1908.2" x2="649.6" y2="1914.3" stroke="#5a5a5a" stroke-width="1.2" stroke-linecap="butt"/>
<line x1="619.4" y1="1885.5" x2="619.4" y2="1892.2" stroke="#5a5a5a" stroke-width="1.2" stroke-linecap="butt"/>
<line x1="492.4" y1="1908.2" x2="492.4" y2="1911.9" stroke="#5a5a5a" stroke-width="1.2" stroke-linecap="butt"/>
<line x1="828.1" y1="1908.2" x2="828.1" y2="1911.3" stroke="#5a5a5a" stroke-width="1.2" stroke-linecap="butt"/>
<line x1="707.4" y1="1886.2" x2="707.4" y2="1892.2" stroke="#5a5a5a" stroke-width="1.2" stroke-linecap="butt"/>
<line x1="539.8" y1="1908.2" x2="539.8" y2="1914.1" stroke="#5a5a5a" stroke-width="1.2" stroke-linecap="butt"/>
<line x1="638.1" y1="1888.8" x2="638.1" y2="1892.2" stroke="#5a5a5a" stroke-width="1.2" stroke-linecap="butt"/>
<line x1="665.2" y1="1908.2" x2="665.2" y2="1911.7" stroke="#5a5a5a" stroke-width="1.2" stroke-linecap="butt"/>
<line x1="867.1" y1="1885.3" x2="867.1" y2="1892.2" stroke="#5a5a5a" stroke-width="1.2" stroke-linecap="butt"/>
<line x1="330.3" y1="1908.2" x2="330.3" y2="1913.8" stroke="#5a5a5a" stroke-width="1.2" stroke-linecap="butt"/>
<line x1="770.7" y1="1887.2" x2="770.7" y2="1892.2" stroke="#5a5a5a" stroke-width="1.2" stroke-linecap="butt"/>
<line x1="629.5" y1="1883.3" x2="629.5" y2="1892.2" stroke="#5a5a5a" stroke-width="1.2" stroke-linecap="butt"/>
<line x1="614.5" y1="1908.2" x2="614.5" y2="1912.3" stroke="#5a5a5a" stroke-width="1.2" stroke-linecap="butt"/>
<line x1="699.2" y1="1888.7" x2="699.2" y2="1892.2" stroke="#5a5a5a" stroke-width="1.2" stroke-linecap="butt"/>
<line x1="477.6" y1="1885.9" x2="477.6" y2="1892.2" stroke="#5a5a5a" stroke-width="1.2" stroke-linecap="butt"/>
<line x1="497.2" y1="1885.1" x2="497.2" y2="1892.2" stroke="#5a5a5a" stroke-width="1.2" stroke-linecap="butt"/>
<line x1="330.3" y1="1884.5" x2="330.3" y2="1892.2" stroke="#5a5a5a" stroke-width="1.2" stroke-linecap="butt"/>
<line x1="676.5" y1="1908.2" x2="676.5" y2="1916.7" stroke="#5a5a5a" stroke-width="1.2" stroke-linecap="butt"/>
<line x1="818.6" y1="1883.3" x2="818.6" y2="1892.2" stroke="#5a5a5a" stroke-width="1.2" stroke-linecap="butt"/>
<line x1="541.8" y1="1908.2" x2="541.8" y2="1912.9" stroke="#5a5a5a" stroke-width="1.2" stroke-linecap="butt"/>
<line x1="431.4" y1="1908.2" x2="431.4" y2="1911.4" stroke="#5a5a5a" stroke-width="1.2" stroke-linecap="butt"/>
<line x1="708.4" y1="1885" x2="708.4" y2="1892.2" stroke="#5a5a5a" stroke-width="1.2" stroke-linecap="butt"/>
<line x1="718.3" y1="1908.2" x2="718.3" y2="1911.6" stroke="#5a5a5a" stroke-width="1.2" stroke-linecap="butt"/>
<line x1="577.6" y1="1884.9" x2="577.6" y2="1892.2" stroke="#5a5a5a" stroke-width="1.2" stroke-linecap="butt"/>
<line x1="700.9" y1="1908.2" x2="700.9" y2="1915.6" stroke="#5a5a5a" stroke-width="1.2" stroke-linecap="butt"/>
<line x1="228.3" y1="1908.2" x2="228.3" y2="1917" stroke="#5a5a5a" stroke-width="1.2" stroke-linecap="butt"/>
<line x1="858.7" y1="1908.2" x2="858.7" y2="1913.6" stroke="#5a5a5a" stroke-width="1.2" stroke-linecap="butt"/>
<line x1="885.3" y1="1908.2" x2="885.3" y2="1912.5" stroke="#5a5a5a" stroke-width="1.2" stroke-linecap="butt"/>
<line x1="560.5" y1="1908.2" x2="560.5" y2="1915.3" stroke="#5a5a5a" stroke-width="1.2" stroke-linecap="butt"/>
<line x1="280.4" y1="1877" x2="280.4" y2="1892" stroke="#555" stroke-width="1.8" stroke-linecap="butt"/>
<line x1="288.6" y1="1874.6" x2="288.6" y2="1892" stroke="#555" stroke-width="1.8" stroke-linecap="butt"/>
<line x1="300.7" y1="1874.6" x2="300.7" y2="1892" stroke="#555" stroke-width="1.8" stroke-linecap="butt"/>
<line x1="312.4" y1="1872.7" x2="312.4" y2="1892" stroke="#555" stroke-width="1.8" stroke-linecap="butt"/>
<line x1="325.7" y1="1867.6" x2="325.7" y2="1892" stroke="#555" stroke-width="1.8" stroke-linecap="butt"/>
<line x1="338.8" y1="1865.6" x2="338.8" y2="1892" stroke="#777" stroke-width="1.8" stroke-linecap="butt"/>
<line x1="351.4" y1="1863.6" x2="351.4" y2="1892" stroke="#555" stroke-width="1.8" stroke-linecap="butt"/>
<line x1="363" y1="1857.3" x2="363" y2="1892" stroke="#333" stroke-width="1.8" stroke-linecap="butt"/>
<line x1="375.9" y1="1861.3" x2="375.9" y2="1892" stroke="#555" stroke-width="1.8" stroke-linecap="butt"/>
<line x1="388.3" y1="1855.4" x2="388.3" y2="1892" stroke="#555" stroke-width="1.8" stroke-linecap="butt"/>
<line x1="401.1" y1="1863.4" x2="401.1" y2="1892" stroke="#777" stroke-width="1.8" stroke-linecap="butt"/>
<line x1="414" y1="1863.6" x2="414" y2="1892" stroke="#555" stroke-width="1.8" stroke-linecap="butt"/>
<line x1="425.2" y1="1853.7" x2="425.2" y2="1892" stroke="#333" stroke-width="1.8" stroke-linecap="butt"/>
<line x1="437.8" y1="1866" x2="437.8" y2="1892" stroke="#555" stroke-width="1.8" stroke-linecap="butt"/>
<line x1="450.9" y1="1868" x2="450.9" y2="1892" stroke="#777" stroke-width="1.8" stroke-linecap="butt"/>
<line x1="522.2" y1="1863.6" x2="522.2" y2="1892" stroke="#555" stroke-width="1.8" stroke-linecap="butt"/>
<line x1="621.3" y1="1852.9" x2="621.3" y2="1892" stroke="#666" stroke-width="1.8" stroke-linecap="butt"/>
<line x1="718.5" y1="1861.2" x2="718.5" y2="1892" stroke="#666" stroke-width="1.8" stroke-linecap="butt"/>
<line x1="727.4" y1="1868.4" x2="727.4" y2="1892" stroke="#555" stroke-width="1.8" stroke-linecap="butt"/>
<line x1="653.3" y1="1801.5" x2="653.3" y2="1892" stroke="#8a8a8a" stroke-width="4.0" stroke-linecap="butt"/>
<line x1="653.6" y1="1801.5" x2="653.6" y2="1892" stroke="#222" stroke-width="2.2" stroke-linecap="butt"/>
<polygon points="709,1884.7 710,1886.7 711,1886.5 712,1884.5 713,1886 714,1883.6 715,1883.2 716,1880.8 717,1880.2 718,1880.3 719,1879.7 720,1877.8 721,1876.9 722,1879.8 723,1878.5 724,1876.9 725,1880.5 726,1880.7 727,1880.7 728,1883.5 729,1883.1 730,1881.6 731,1884.4 732,1882.6 733,1895 709,1895" fill="#444"/>
<line x1="735.1" y1="1364.5" x2="735.1" y2="1892" stroke="#999" stroke-width="3.0" stroke-linecap="butt"/>
<line x1="737.9" y1="1733.2" x2="737.9" y2="1892" stroke="#aaa" stroke-width="1.4" stroke-linecap="butt"/>
<line x1="736.1" y1="1733.2" x2="736.1" y2="1892" stroke="#1a1a1a" stroke-width="2.0" stroke-linecap="butt"/>
<line x1="1285.5" y1="1357" x2="1285.5" y2="1889.5" stroke="#a0a0a0" stroke-width="2.2" stroke-linecap="butt"/>
<line x1="1285.5" y1="1874" x2="1943.4" y2="1874" stroke="#a0a0a0" stroke-width="2.2" stroke-linecap="butt"/>
<line x1="1272" y1="1874.4" x2="1285.5" y2="1874.4" stroke="#a0a0a0" stroke-width="2.2" stroke-linecap="butt"/>
<line x1="1272" y1="1788.3" x2="1285.5" y2="1788.3" stroke="#a0a0a0" stroke-width="2.2" stroke-linecap="butt"/>
<line x1="1272" y1="1702.2" x2="1285.5" y2="1702.2" stroke="#a0a0a0" stroke-width="2.2" stroke-linecap="butt"/>
<line x1="1272" y1="1616" x2="1285.5" y2="1616" stroke="#a0a0a0" stroke-width="2.2" stroke-linecap="butt"/>
<line x1="1272" y1="1529.9" x2="1285.5" y2="1529.9" stroke="#a0a0a0" stroke-width="2.2" stroke-linecap="butt"/>
<line x1="1272" y1="1443.8" x2="1285.5" y2="1443.8" stroke="#a0a0a0" stroke-width="2.2" stroke-linecap="butt"/>
<line x1="1272" y1="1357.7" x2="1285.5" y2="1357.7" stroke="#a0a0a0" stroke-width="2.2" stroke-linecap="butt"/>
<line x1="1285.5" y1="1874" x2="1285.5" y2="1889.5" stroke="#a0a0a0" stroke-width="2.2" stroke-linecap="butt"/>
<line x1="1504.8" y1="1874" x2="1504.8" y2="1889.5" stroke="#a0a0a0" stroke-width="2.2" stroke-linecap="butt"/>
<line x1="1724.1" y1="1874" x2="1724.1" y2="1889.5" stroke="#a0a0a0" stroke-width="2.2" stroke-linecap="butt"/>
<line x1="1943.4" y1="1874" x2="1943.4" y2="1889.5" stroke="#a0a0a0" stroke-width="2.2" stroke-linecap="butt"/>
<polyline points="1285.5,1874.3 1286.5,1874.3 1287.5,1874.3 1288.5,1874.3 1289.5,1874.3 1290.5,1874.3 1291.5,1874.3 1292.5,1874.3 1293.5,1874.3 1294.5,1874.3 1295.5,1874.3 1296.5,1874.3 1297.5,1874.3 1298.5,1874.3 1299.5,1874.2 1300.5,1874.2 1301.5,1874.2 1302.5,1874.2 1303.5,1874.2 1304.5,1874.2 1305.5,1874.2 1306.5,1874.2 1307.5,1874.2 1308.5,1874.2 1309.5,1874.2 1310.5,1874.2 1311.5,1874.1 1312.5,1874.1 1313.5,1874.1 1314.5,1874.1 1315.5,1874.1 1316.5,1874.1 1317.5,1874.1 1318.5,1874.1 1319.5,1874 1320.5,1874 1321.5,1874 1322.5,1874 1323.5,1874 1324.5,1874 1325.5,1874 1326.5,1873.9 1327.5,1873.9 1328.5,1873.9 1329.5,1873.9 1330.5,1873.9 1331.5,1873.8 1332.5,1873.8 1333.5,1873.8 1334.5,1873.8 1335.5,1873.7 1336.5,1873.7 1337.5,1873.7 1338.5,1873.7 1339.5,1873.6 1340.5,1873.6 1341.5,1873.6 1342.5,1873.6 1343.5,1873.5 1344.5,1873.5 1345.5,1873.5 1346.5,1873.4 1347.5,1873.4 1348.5,1873.4 1349.5,1873.3 1350.5,1873.3 1351.5,1873.3 1352.5,1873.2 1353.5,1873.2 1354.5,1873.1 1355.5,1873.1 1356.5,1873.1 1357.5,1873 1358.5,1873 1359.5,1872.9 1360.5,1872.9 1361.5,1872.8 1362.5,1872.8 1363.5,1872.7 1364.5,1872.7 1365.5,1872.6 1366.5,1872.6 1367.5,1872.5 1368.5,1872.4 1369.5,1872.4 1370.5,1872.3 1371.5,1872.3 1372.5,1872.2 1373.5,1872.1 1374.5,1872.1 1375.5,1872 1376.5,1871.9 1377.5,1871.8 1378.5,1871.8 1379.5,1871.7 1380.5,1871.6 1381.5,1871.5 1382.5,1871.4 1383.5,1871.4 1384.5,1871.3 1385.5,1871.2 1386.5,1871.1 1387.5,1871 1388.5,1870.9 1389.5,1870.8 1390.5,1870.7 1391.5,1870.6 1392.5,1870.5 1393.5,1870.4 1394.5,1870.3 1395.5,1870.1 1396.5,1870 1397.5,1869.9 1398.5,1869.8 1399.5,1869.6 1400.5,1869.5 1401.5,1869.3 1402.5,1869.2 1403.5,1869 1404.5,1868.9 1405.5,1868.7 1406.5,1868.5 1407.5,1868.4 1408.5,1868.2 1409.5,1868 1410.5,1867.8 1411.5,1867.5 1412.5,1867.3 1413.5,1867.1 1414.5,1866.8 1415.5,1866.6 1416.5,1866.3 1417.5,1866 1418.5,1865.7 1419.5,1865.3 1420.5,1865 1421.5,1864.6 1422.5,1864.2 1423.5,1863.8 1424.5,1863.4 1425.5,1862.9 1426.5,1862.4 1427.5,1861.9 1428.5,1861.4 1429.5,1860.8 1430.5,1860.1 1431.5,1859.5 1432.5,1858.8 1433.5,1858 1434.5,1857.2 1435.5,1856.4 1436.5,1855.5 1437.5,1854.5 1438.5,1853.5 1439.5,1852.4 1440.5,1851.2 1441.5,1850 1442.5,1848.7 1443.5,1847.3 1444.5,1845.9 1445.5,1844.4 1446.5,1842.7 1447.5,1841 1448.5,1839.2 1449.5,1837.3 1450.5,1835.2 1451.5,1833.1 1452.5,1830.9 1453.5,1828.5 1454.5,1826 1455.5,1823.4 1456.5,1820.6 1457.5,1817.7 1458.5,1814.7 1459.5,1811.6 1460.5,1808.3 1461.5,1804.8 1462.5,1801.2 1463.5,1797.4 1464.5,1793.5 1465.5,1789.4 1466.5,1785.2 1467.5,1780.8 1468.5,1776.2 1469.5,1771.5 1470.5,1766.5 1471.5,1761.5 1472.5,1756.2 1473.5,1750.8 1474.5,1745.3 1475.5,1739.5 1476.5,1733.7 1477.5,1727.6 1478.5,1721.4 1479.5,1715.1 1480.5,1708.6 1481.5,1702 1482.5,1695.2 1483.5,1688.3 1484.5,1681.3 1485.5,1674.2 1486.5,1667 1487.5,1659.7 1488.5,1652.3 1489.5,1644.8 1490.5,1637.3 1491.5,1629.7 1492.5,1622.1 1493.5,1614.5 1494.5,1606.9 1495.5,1599.2 1496.5,1591.6 1497.5,1584 1498.5,1576.5 1499.5,1569 1500.5,1561.6 1501.5,1554.3 1502.5,1547.1 1503.5,1540 1504.5,1533.1 1505.5,1526.3 1506.5,1519.7 1507.5,1513.2 1508.5,1507 1509.5,1501 1510.5,1495.2 1511.5,1489.7 1512.5,1484.4 1513.5,1479.4 1514.5,1474.7 1515.5,1470.3 1516.5,1466.2 1517.5,1462.4 1518.5,1458.9 1519.5,1455.8 1520.5,1453 1521.5,1450.6 1522.5,1448.5 1523.5,1446.8 1524.5,1445.5 1525.5,1444.6 1526.5,1444 1527.5,1443.8 1528.5,1444 1529.5,1444.6 1530.5,1445.7 1531.5,1447.1 1532.5,1448.9 1533.5,1451.2 1534.5,1453.8 1535.5,1456.8 1536.5,1460.2 1537.5,1464 1538.5,1468.1 1539.5,1472.6 1540.5,1477.4 1541.5,1482.5 1542.5,1487.9 1543.5,1493.6 1544.5,1499.6 1545.5,1505.8 1546.5,1512.3 1547.5,1519 1548.5,1525.9 1549.5,1533 1550.5,1540.3 1551.5,1547.7 1552.5,1555.3 1553.5,1563 1554.5,1570.8 1555.5,1578.7 1556.5,1586.6 1557.5,1594.6 1558.5,1602.6 1559.5,1610.7 1560.5,1618.7 1561.5,1626.7 1562.5,1634.7 1563.5,1642.7 1564.5,1650.6 1565.5,1658.4 1566.5,1666.2 1567.5,1673.8 1568.5,1681.4 1569.5,1688.8 1570.5,1696.1 1571.5,1703.3 1572.5,1710.3 1573.5,1717.2 1574.5,1723.9 1575.5,1730.5 1576.5,1736.9 1577.5,1743.1 1578.5,1749.2 1579.5,1755.1 1580.5,1760.8 1581.5,1766.3 1582.5,1771.7 1583.5,1776.8 1584.5,1781.8 1585.5,1786.6 1586.5,1791.2 1587.5,1795.7 1588.5,1799.9 1589.5,1804 1590.5,1807.9 1591.5,1811.7 1592.5,1815.2 1593.5,1818.7 1594.5,1821.9 1595.5,1825 1596.5,1828 1597.5,1830.8 1598.5,1833.5 1599.5,1836 1600.5,1838.4 1601.5,1840.7 1602.5,1842.8 1603.5,1844.8 1604.5,1846.7 1605.5,1848.5 1606.5,1850.2 1607.5,1851.8 1608.5,1853.4 1609.5,1854.8 1610.5,1856.1 1611.5,1857.3 1612.5,1858.5 1613.5,1859.6 1614.5,1860.6 1615.5,1861.6 1616.5,1862.5 1617.5,1863.3 1618.5,1864.1 1619.5,1864.8 1620.5,1865.5 1621.5,1866.1 1622.5,1866.7 1623.5,1867.3 1624.5,1867.8 1625.5,1868.2 1626.5,1868.7 1627.5,1869.1 1628.5,1869.5 1629.5,1869.8 1630.5,1870.2 1631.5,1870.5 1632.5,1870.7 1633.5,1871 1634.5,1871.2 1635.5,1871.5 1636.5,1871.7 1637.5,1871.9 1638.5,1872 1639.5,1872.2 1640.5,1872.4 1641.5,1872.5 1642.5,1872.6 1643.5,1872.8 1644.5,1872.9 1645.5,1873 1646.5,1873.1 1647.5,1873.2 1648.5,1873.2 1649.5,1873.3 1650.5,1873.4 1651.5,1873.5 1652.5,1873.5 1653.5,1873.6 1654.5,1873.6 1655.5,1873.7 1656.5,1873.7 1657.5,1873.8 1658.5,1873.8 1659.5,1873.9 1660.5,1873.9 1661.5,1873.9 1662.5,1874 1663.5,1874 1664.5,1874 1665.5,1874 1666.5,1874.1 1667.5,1874.1 1668.5,1874.1 1669.5,1874.1 1670.5,1874.1 1671.5,1874.2 1672.5,1874.2 1673.5,1874.2 1674.5,1874.2 1675.5,1874.2 1676.5,1874.2 1677.5,1874.2 1678.5,1874.3 1679.5,1874.3 1680.5,1874.3 1681.5,1874.3 1682.5,1874.3 1683.5,1874.3 1684.5,1874.3 1685.5,1874.3 1686.5,1874.3 1687.5,1874.3 1688.5,1874.3 1689.5,1874.3 1690.5,1874.3 1691.5,1874.3 1692.5,1874.3 1693.5,1874.3 1694.5,1874.4 1695.5,1874.4 1696.5,1874.4 1697.5,1874.4 1698.5,1874.4 1699.5,1874.4 1700.5,1874.4 1701.5,1874.4 1702.5,1874.4 1703.5,1874.4 1704.5,1874.4 1705.5,1874.4 1706.5,1874.4 1707.5,1874.4 1708.5,1874.4 1709.5,1874.4 1710.5,1874.4 1711.5,1874.4 1712.5,1874.4 1713.5,1874.4 1714.5,1874.4 1715.5,1874.4 1716.5,1874.4 1717.5,1874.4 1718.5,1874.4 1719.5,1874.4 1720.5,1874.4 1721.5,1874.4 1722.5,1874.4 1723.5,1874.4 1724.5,1874.4 1725.5,1874.4 1726.5,1874.4 1727.5,1874.4 1728.5,1874.4 1729.5,1874.4 1730.5,1874.4 1731.5,1874.4 1732.5,1874.4 1733.5,1874.4 1734.5,1874.4 1735.5,1874.4 1736.5,1874.4 1737.5,1874.4 1738.5,1874.4 1739.5,1874.4 1740.5,1874.4 1741.5,1874.4 1742.5,1874.4 1743.5,1874.4 1744.5,1874.4 1745.5,1874.4 1746.5,1874.4 1747.5,1874.4 1748.5,1874.4 1749.5,1874.4 1750.5,1874.4 1751.5,1874.4 1752.5,1874.4 1753.5,1874.4 1754.5,1874.4 1755.5,1874.4 1756.5,1874.4 1757.5,1874.4 1758.5,1874.4 1759.5,1874.4 1760.5,1874.4 1761.5,1874.4 1762.5,1874.4 1763.5,1874.4 1764.5,1874.4 1765.5,1874.4 1766.5,1874.4 1767.5,1874.4 1768.5,1874.4 1769.5,1874.4 1770.5,1874.4 1771.5,1874.4 1772.5,1874.4 1773.5,1874.4 1774.5,1874.4 1775.5,1874.4 1776.5,1874.4 1777.5,1874.4 1778.5,1874.4 1779.5,1874.4 1780.5,1874.4 1781.5,1874.4 1782.5,1874.4 1783.5,1874.4 1784.5,1874.4 1785.5,1874.4 1786.5,1874.4 1787.5,1874.4 1788.5,1874.4 1789.5,1874.4 1790.5,1874.4 1791.5,1874.4 1792.5,1874.4 1793.5,1874.4 1794.5,1874.4 1795.5,1874.4 1796.5,1874.4 1797.5,1874.4 1798.5,1874.4 1799.5,1874.4 1800.5,1874.4 1801.5,1874.4 1802.5,1874.4 1803.5,1874.4 1804.5,1874.4 1805.5,1874.4 1806.5,1874.4 1807.5,1874.4 1808.5,1874.4 1809.5,1874.4 1810.5,1874.4 1811.5,1874.4 1812.5,1874.4 1813.5,1874.4 1814.5,1874.4 1815.5,1874.4 1816.5,1874.4 1817.5,1874.4 1818.5,1874.4 1819.5,1874.4 1820.5,1874.4 1821.5,1874.4 1822.5,1874.4 1823.5,1874.4 1824.5,1874.4 1825.5,1874.4 1826.5,1874.4 1827.5,1874.4 1828.5,1874.4 1829.5,1874.4 1830.5,1874.4 1831.5,1874.4 1832.5,1874.4 1833.5,1874.4 1834.5,1874.4 1835.5,1874.4 1836.5,1874.4 1837.5,1874.4 1838.5,1874.4 1839.5,1874.4 1840.5,1874.4 1841.5,1874.4 1842.5,1874.4 1843.5,1874.4 1844.5,1874.4 1845.5,1874.4 1846.5,1874.4 1847.5,1874.4 1848.5,1874.4 1849.5,1874.4 1850.5,1874.4 1851.5,1874.4 1852.5,1874.4 1853.5,1874.4 1854.5,1874.4 1855.5,1874.4 1856.5,1874.4 1857.5,1874.4 1858.5,1874.4 1859.5,1874.4 1860.5,1874.4 1861.5,1874.4 1862.5,1874.4 1863.5,1874.4 1864.5,1874.4 1865.5,1874.4 1866.5,1874.4 1867.5,1874.4 1868.5,1874.4 1869.5,1874.4 1870.5,1874.4 1871.5,1874.4 1872.5,1874.4 1873.5,1874.4 1874.5,1874.4 1875.5,1874.4 1876.5,1874.4 1877.5,1874.4 1878.5,1874.4 1879.5,1874.4 1880.5,1874.4 1881.5,1874.4 1882.5,1874.4 1883.5,1874.4 1884.5,1874.4 1885.5,1874.4 1886.5,1874.4 1887.5,1874.4 1888.5,1874.4 1889.5,1874.4 1890.5,1874.4 1891.5,1874.4 1892.5,1874.4 1893.5,1874.4 1894.5,1874.4 1895.5,1874.4 1896.5,1874.4 1897.5,1874.4 1898.5,1874.4 1899.5,1874.4 1900.5,1874.4 1901.5,1874.4 1902.5,1874.4 1903.5,1874.4 1904.5,1874.4 1905.5,1874.4 1906.5,1874.4 1907.5,1874.4 1908.5,1874.4 1909.5,1874.4 1910.5,1874.4 1911.5,1874.4 1912.5,1874.4 1913.5,1874.4 1914.5,1874.4 1915.5,1874.4 1916.5,1874.4 1917.5,1874.4 1918.5,1874.4 1919.5,1874.4 1920.5,1874.4 1921.5,1874.4 1922.5,1874.4 1923.5,1874.4 1924.5,1874.4 1925.5,1874.4 1926.5,1874.4 1927.5,1874.4 1928.5,1874.4 1929.5,1874.4 1930.5,1874.4 1931.5,1874.4 1932.5,1874.4 1933.5,1874.4 1934.5,1874.4 1935.5,1874.4 1936.5,1874.4 1937.5,1874.4 1938.5,1874.4 1939.5,1874.4 1940.5,1874.4 1941.5,1874.4 1942.5,1874.4" fill="none" stroke="#000" stroke-width="4.2" stroke-linejoin="round" stroke-linecap="round" />
<polyline points="1285.5,1874.4 1286.5,1874.4 1287.5,1874.4 1288.5,1874.4 1289.5,1874.4 1290.5,1874.4 1291.5,1874.4 1292.5,1874.4 1293.5,1874.4 1294.5,1874.4 1295.5,1874.4 1296.5,1874.4 1297.5,1874.4 1298.5,1874.4 1299.5,1874.4 1300.5,1874.4 1301.5,1874.4 1302.5,1874.4 1303.5,1874.4 1304.5,1874.4 1305.5,1874.4 1306.5,1874.4 1307.5,1874.4 1308.5,1874.4 1309.5,1874.4 1310.5,1874.4 1311.5,1874.4 1312.5,1874.4 1313.5,1874.4 1314.5,1874.4 1315.5,1874.4 1316.5,1874.4 1317.5,1874.4 1318.5,1874.4 1319.5,1874.4 1320.5,1874.4 1321.5,1874.4 1322.5,1874.4 1323.5,1874.4 1324.5,1874.4 1325.5,1874.4 1326.5,1874.4 1327.5,1874.4 1328.5,1874.4 1329.5,1874.4 1330.5,1874.4 1331.5,1874.4 1332.5,1874.4 1333.5,1874.4 1334.5,1874.4 1335.5,1874.4 1336.5,1874.4 1337.5,1874.4 1338.5,1874.4 1339.5,1874.4 1340.5,1874.4 1341.5,1874.4 1342.5,1874.4 1343.5,1874.4 1344.5,1874.4 1345.5,1874.4 1346.5,1874.4 1347.5,1874.4 1348.5,1874.4 1349.5,1874.4 1350.5,1874.4 1351.5,1874.4 1352.5,1874.4 1353.5,1874.4 1354.5,1874.4 1355.5,1874.4 1356.5,1874.4 1357.5,1874.4 1358.5,1874.4 1359.5,1874.4 1360.5,1874.4 1361.5,1874.4 1362.5,1874.4 1363.5,1874.4 1364.5,1874.4 1365.5,1874.4 1366.5,1874.4 1367.5,1874.4 1368.5,1874.4 1369.5,1874.4 1370.5,1874.4 1371.5,1874.4 1372.5,1874.4 1373.5,1874.4 1374.5,1874.4 1375.5,1874.4 1376.5,1874.4 1377.5,1874.4 1378.5,1874.4 1379.5,1874.4 1380.5,1874.4 1381.5,1874.4 1382.5,1874.4 1383.5,1874.4 1384.5,1874.4 1385.5,1874.4 1386.5,1874.4 1387.5,1874.4 1388.5,1874.4 1389.5,1874.4 1390.5,1874.4 1391.5,1874.4 1392.5,1874.4 1393.5,1874.4 1394.5,1874.4 1395.5,1874.4 1396.5,1874.4 1397.5,1874.4 1398.5,1874.4 1399.5,1874.4 1400.5,1874.4 1401.5,1874.4 1402.5,1874.4 1403.5,1874.4 1404.5,1874.4 1405.5,1874.4 1406.5,1874.4 1407.5,1874.4 1408.5,1874.4 1409.5,1874.4 1410.5,1874.4 1411.5,1874.4 1412.5,1874.4 1413.5,1874.4 1414.5,1874.4 1415.5,1874.4 1416.5,1874.4 1417.5,1874.4 1418.5,1874.4 1419.5,1874.4 1420.5,1874.4 1421.5,1874.4 1422.5,1874.4 1423.5,1874.4 1424.5,1874.4 1425.5,1874.4 1426.5,1874.4 1427.5,1874.4 1428.5,1874.4 1429.5,1874.4 1430.5,1874.4 1431.5,1874.4 1432.5,1874.4 1433.5,1874.4 1434.5,1874.4 1435.5,1874.4 1436.5,1874.4 1437.5,1874.4 1438.5,1874.4 1439.5,1874.4 1440.5,1874.4 1441.5,1874.4 1442.5,1874.4 1443.5,1874.4 1444.5,1874.4 1445.5,1874.4 1446.5,1874.4 1447.5,1874.4 1448.5,1874.4 1449.5,1874.4 1450.5,1874.4 1451.5,1874.4 1452.5,1874.4 1453.5,1874.4 1454.5,1874.4 1455.5,1874.4 1456.5,1874.4 1457.5,1874.4 1458.5,1874.4 1459.5,1874.4 1460.5,1874.4 1461.5,1874.4 1462.5,1874.4 1463.5,1874.4 1464.5,1874.4 1465.5,1874.4 1466.5,1874.4 1467.5,1874.3 1468.5,1874.3 1469.5,1874.3 1470.5,1874.3 1471.5,1874.3 1472.5,1874.3 1473.5,1874.3 1474.5,1874.3 1475.5,1874.3 1476.5,1874.3 1477.5,1874.3 1478.5,1874.3 1479.5,1874.3 1480.5,1874.3 1481.5,1874.3 1482.5,1874.3 1483.5,1874.2 1484.5,1874.2 1485.5,1874.2 1486.5,1874.2 1487.5,1874.2 1488.5,1874.2 1489.5,1874.2 1490.5,1874.2 1491.5,1874.1 1492.5,1874.1 1493.5,1874.1 1494.5,1874.1 1495.5,1874.1 1496.5,1874 1497.5,1874 1498.5,1874 1499.5,1874 1500.5,1873.9 1501.5,1873.9 1502.5,1873.9 1503.5,1873.8 1504.5,1873.8 1505.5,1873.8 1506.5,1873.7 1507.5,1873.7 1508.5,1873.7 1509.5,1873.6 1510.5,1873.6 1511.5,1873.5 1512.5,1873.4 1513.5,1873.4 1514.5,1873.3 1515.5,1873.3 1516.5,1873.2 1517.5,1873.1 1518.5,1873 1519.5,1872.9 1520.5,1872.8 1521.5,1872.7 1522.5,1872.6 1523.5,1872.5 1524.5,1872.4 1525.5,1872.2 1526.5,1872.1 1527.5,1871.9 1528.5,1871.8 1529.5,1871.6 1530.5,1871.4 1531.5,1871.2 1532.5,1871 1533.5,1870.7 1534.5,1870.5 1535.5,1870.2 1536.5,1869.9 1537.5,1869.6 1538.5,1869.2 1539.5,1868.9 1540.5,1868.4 1541.5,1868 1542.5,1867.5 1543.5,1867 1544.5,1866.5 1545.5,1865.9 1546.5,1865.3 1547.5,1864.6 1548.5,1863.9 1549.5,1863.1 1550.5,1862.3 1551.5,1861.4 1552.5,1860.4 1553.5,1859.4 1554.5,1858.2 1555.5,1857.1 1556.5,1855.8 1557.5,1854.4 1558.5,1853 1559.5,1851.5 1560.5,1849.8 1561.5,1848.1 1562.5,1846.2 1563.5,1844.2 1564.5,1842.1 1565.5,1839.9 1566.5,1837.6 1567.5,1835.1 1568.5,1832.4 1569.5,1829.7 1570.5,1826.7 1571.5,1823.6 1572.5,1820.4 1573.5,1816.9 1574.5,1813.3 1575.5,1809.6 1576.5,1805.6 1577.5,1801.5 1578.5,1797.1 1579.5,1792.6 1580.5,1787.9 1581.5,1783 1582.5,1777.9 1583.5,1772.6 1584.5,1767.1 1585.5,1761.4 1586.5,1755.5 1587.5,1749.5 1588.5,1743.2 1589.5,1736.7 1590.5,1730.1 1591.5,1723.3 1592.5,1716.3 1593.5,1709.1 1594.5,1701.8 1595.5,1694.3 1596.5,1686.7 1597.5,1678.9 1598.5,1671 1599.5,1663.1 1600.5,1655 1601.5,1646.8 1602.5,1638.6 1603.5,1630.3 1604.5,1621.9 1605.5,1613.6 1606.5,1605.2 1607.5,1596.9 1608.5,1588.6 1609.5,1580.3 1610.5,1572.1 1611.5,1564 1612.5,1556 1613.5,1548.1 1614.5,1540.3 1615.5,1532.8 1616.5,1525.4 1617.5,1518.2 1618.5,1511.3 1619.5,1504.6 1620.5,1498.1 1621.5,1492 1622.5,1486.1 1623.5,1480.6 1624.5,1475.4 1625.5,1470.6 1626.5,1466.1 1627.5,1462 1628.5,1458.3 1629.5,1455 1630.5,1452.1 1631.5,1449.6 1632.5,1447.6 1633.5,1446 1634.5,1444.8 1635.5,1444.1 1636.5,1443.8 1637.5,1444 1638.5,1444.6 1639.5,1445.7 1640.5,1447.2 1641.5,1449.1 1642.5,1451.4 1643.5,1454.2 1644.5,1457.4 1645.5,1461 1646.5,1465 1647.5,1469.3 1648.5,1474 1649.5,1479.1 1650.5,1484.5 1651.5,1490.2 1652.5,1496.2 1653.5,1502.5 1654.5,1509.1 1655.5,1515.9 1656.5,1522.9 1657.5,1530.1 1658.5,1537.6 1659.5,1545.2 1660.5,1552.9 1661.5,1560.8 1662.5,1568.7 1663.5,1576.8 1664.5,1585 1665.5,1593.1 1666.5,1601.4 1667.5,1609.6 1668.5,1617.8 1669.5,1626 1670.5,1634.2 1671.5,1642.3 1672.5,1650.3 1673.5,1658.3 1674.5,1666.2 1675.5,1673.9 1676.5,1681.6 1677.5,1689.1 1678.5,1696.5 1679.5,1703.7 1680.5,1710.7 1681.5,1717.6 1682.5,1724.4 1683.5,1730.9 1684.5,1737.3 1685.5,1743.5 1686.5,1749.4 1687.5,1755.2 1688.5,1760.9 1689.5,1766.3 1690.5,1771.5 1691.5,1776.5 1692.5,1781.3 1693.5,1786 1694.5,1790.4 1695.5,1794.7 1696.5,1798.7 1697.5,1802.6 1698.5,1806.4 1699.5,1809.9 1700.5,1813.3 1701.5,1816.5 1702.5,1819.5 1703.5,1822.4 1704.5,1825.2 1705.5,1827.7 1706.5,1830.2 1707.5,1832.5 1708.5,1834.7 1709.5,1836.8 1710.5,1838.7 1711.5,1840.6 1712.5,1842.3 1713.5,1843.9 1714.5,1845.4 1715.5,1846.9 1716.5,1848.2 1717.5,1849.5 1718.5,1850.7 1719.5,1851.8 1720.5,1852.8 1721.5,1853.8 1722.5,1854.7 1723.5,1855.5 1724.5,1856.3 1725.5,1857.1 1726.5,1857.8 1727.5,1858.4 1728.5,1859 1729.5,1859.6 1730.5,1860.1 1731.5,1860.6 1732.5,1861.1 1733.5,1861.6 1734.5,1862 1735.5,1862.4 1736.5,1862.7 1737.5,1863.1 1738.5,1863.4 1739.5,1863.7 1740.5,1864 1741.5,1864.3 1742.5,1864.6 1743.5,1864.8 1744.5,1865.1 1745.5,1865.3 1746.5,1865.5 1747.5,1865.8 1748.5,1866 1749.5,1866.2 1750.5,1866.3 1751.5,1866.5 1752.5,1866.7 1753.5,1866.9 1754.5,1867 1755.5,1867.2 1756.5,1867.4 1757.5,1867.5 1758.5,1867.7 1759.5,1867.8 1760.5,1867.9 1761.5,1868.1 1762.5,1868.2 1763.5,1868.3 1764.5,1868.5 1765.5,1868.6 1766.5,1868.7 1767.5,1868.8 1768.5,1869 1769.5,1869.1 1770.5,1869.2 1771.5,1869.3 1772.5,1869.4 1773.5,1869.5 1774.5,1869.6 1775.5,1869.7 1776.5,1869.8 1777.5,1869.9 1778.5,1870 1779.5,1870.1 1780.5,1870.2 1781.5,1870.3 1782.5,1870.4 1783.5,1870.5 1784.5,1870.6 1785.5,1870.7 1786.5,1870.8 1787.5,1870.9 1788.5,1871 1789.5,1871 1790.5,1871.1 1791.5,1871.2 1792.5,1871.3 1793.5,1871.4 1794.5,1871.4 1795.5,1871.5 1796.5,1871.6 1797.5,1871.7 1798.5,1871.7 1799.5,1871.8 1800.5,1871.9 1801.5,1871.9 1802.5,1872 1803.5,1872 1804.5,1872.1 1805.5,1872.2 1806.5,1872.2 1807.5,1872.3 1808.5,1872.3 1809.5,1872.4 1810.5,1872.5 1811.5,1872.5 1812.5,1872.6 1813.5,1872.6 1814.5,1872.7 1815.5,1872.7 1816.5,1872.8 1817.5,1872.8 1818.5,1872.8 1819.5,1872.9 1820.5,1872.9 1821.5,1873 1822.5,1873 1823.5,1873.1 1824.5,1873.1 1825.5,1873.1 1826.5,1873.2 1827.5,1873.2 1828.5,1873.2 1829.5,1873.3 1830.5,1873.3 1831.5,1873.3 1832.5,1873.4 1833.5,1873.4 1834.5,1873.4 1835.5,1873.5 1836.5,1873.5 1837.5,1873.5 1838.5,1873.6 1839.5,1873.6 1840.5,1873.6 1841.5,1873.6 1842.5,1873.7 1843.5,1873.7 1844.5,1873.7 1845.5,1873.7 1846.5,1873.8 1847.5,1873.8 1848.5,1873.8 1849.5,1873.8 1850.5,1873.8 1851.5,1873.9 1852.5,1873.9 1853.5,1873.9 1854.5,1873.9 1855.5,1873.9 1856.5,1873.9 1857.5,1874 1858.5,1874 1859.5,1874 1860.5,1874 1861.5,1874 1862.5,1874 1863.5,1874 1864.5,1874.1 1865.5,1874.1 1866.5,1874.1 1867.5,1874.1 1868.5,1874.1 1869.5,1874.1 1870.5,1874.1 1871.5,1874.1 1872.5,1874.1 1873.5,1874.2 1874.5,1874.2 1875.5,1874.2 1876.5,1874.2 1877.5,1874.2 1878.5,1874.2 1879.5,1874.2 1880.5,1874.2 1881.5,1874.2 1882.5,1874.2 1883.5,1874.2 1884.5,1874.2 1885.5,1874.2 1886.5,1874.2 1887.5,1874.3 1888.5,1874.3 1889.5,1874.3 1890.5,1874.3 1891.5,1874.3 1892.5,1874.3 1893.5,1874.3 1894.5,1874.3 1895.5,1874.3 1896.5,1874.3 1897.5,1874.3 1898.5,1874.3 1899.5,1874.3 1900.5,1874.3 1901.5,1874.3 1902.5,1874.3 1903.5,1874.3 1904.5,1874.3 1905.5,1874.3 1906.5,1874.3 1907.5,1874.3 1908.5,1874.3 1909.5,1874.3 1910.5,1874.3 1911.5,1874.3 1912.5,1874.3 1913.5,1874.4 1914.5,1874.4 1915.5,1874.4 1916.5,1874.4 1917.5,1874.4 1918.5,1874.4 1919.5,1874.4 1920.5,1874.4 1921.5,1874.4 1922.5,1874.4 1923.5,1874.4 1924.5,1874.4 1925.5,1874.4 1926.5,1874.4 1927.5,1874.4 1928.5,1874.4 1929.5,1874.4 1930.5,1874.4 1931.5,1874.4 1932.5,1874.4 1933.5,1874.4 1934.5,1874.4 1935.5,1874.4 1936.5,1874.4 1937.5,1874.4 1938.5,1874.4 1939.5,1874.4 1940.5,1874.4 1941.5,1874.4 1942.5,1874.4" fill="none" stroke="#1f78d6" stroke-width="4.2" stroke-linejoin="round" stroke-linecap="round" />
<polyline points="1285.5,1874.4 1286.5,1874.4 1287.5,1874.4 1288.5,1874.4 1289.5,1874.4 1290.5,1874.4 1291.5,1874.4 1292.5,1874.4 1293.5,1874.4 1294.5,1874.4 1295.5,1874.4 1296.5,1874.4 1297.5,1874.4 1298.5,1874.4 1299.5,1874.4 1300.5,1874.4 1301.5,1874.4 1302.5,1874.4 1303.5,1874.4 1304.5,1874.4 1305.5,1874.4 1306.5,1874.4 1307.5,1874.4 1308.5,1874.4 1309.5,1874.4 1310.5,1874.4 1311.5,1874.4 1312.5,1874.4 1313.5,1874.4 1314.5,1874.4 1315.5,1874.4 1316.5,1874.4 1317.5,1874.4 1318.5,1874.4 1319.5,1874.4 1320.5,1874.4 1321.5,1874.4 1322.5,1874.4 1323.5,1874.4 1324.5,1874.4 1325.5,1874.4 1326.5,1874.4 1327.5,1874.4 1328.5,1874.4 1329.5,1874.4 1330.5,1874.4 1331.5,1874.4 1332.5,1874.4 1333.5,1874.4 1334.5,1874.4 1335.5,1874.4 1336.5,1874.4 1337.5,1874.4 1338.5,1874.4 1339.5,1874.4 1340.5,1874.4 1341.5,1874.4 1342.5,1874.4 1343.5,1874.4 1344.5,1874.4 1345.5,1874.4 1346.5,1874.4 1347.5,1874.4 1348.5,1874.4 1349.5,1874.4 1350.5,1874.4 1351.5,1874.4 1352.5,1874.4 1353.5,1874.4 1354.5,1874.4 1355.5,1874.4 1356.5,1874.4 1357.5,1874.4 1358.5,1874.4 1359.5,1874.4 1360.5,1874.4 1361.5,1874.4 1362.5,1874.4 1363.5,1874.4 1364.5,1874.4 1365.5,1874.4 1366.5,1874.4 1367.5,1874.4 1368.5,1874.4 1369.5,1874.4 1370.5,1874.4 1371.5,1874.4 1372.5,1874.4 1373.5,1874.4 1374.5,1874.4 1375.5,1874.4 1376.5,1874.4 1377.5,1874.4 1378.5,1874.4 1379.5,1874.4 1380.5,1874.4 1381.5,1874.4 1382.5,1874.4 1383.5,1874.4 1384.5,1874.4 1385.5,1874.4 1386.5,1874.4 1387.5,1874.4 1388.5,1874.4 1389.5,1874.4 1390.5,1874.4 1391.5,1874.4 1392.5,1874.4 1393.5,1874.4 1394.5,1874.4 1395.5,1874.4 1396.5,1874.4 1397.5,1874.4 1398.5,1874.4 1399.5,1874.4 1400.5,1874.4 1401.5,1874.4 1402.5,1874.4 1403.5,1874.4 1404.5,1874.4 1405.5,1874.4 1406.5,1874.4 1407.5,1874.4 1408.5,1874.4 1409.5,1874.4 1410.5,1874.4 1411.5,1874.4 1412.5,1874.4 1413.5,1874.4 1414.5,1874.4 1415.5,1874.4 1416.5,1874.4 1417.5,1874.4 1418.5,1874.4 1419.5,1874.4 1420.5,1874.4 1421.5,1874.4 1422.5,1874.4 1423.5,1874.4 1424.5,1874.4 1425.5,1874.4 1426.5,1874.4 1427.5,1874.4 1428.5,1874.4 1429.5,1874.4 1430.5,1874.4 1431.5,1874.4 1432.5,1874.4 1433.5,1874.4 1434.5,1874.4 1435.5,1874.4 1436.5,1874.4 1437.5,1874.4 1438.5,1874.4 1439.5,1874.4 1440.5,1874.4 1441.5,1874.4 1442.5,1874.4 1443.5,1874.4 1444.5,1874.4 1445.5,1874.4 1446.5,1874.4 1447.5,1874.4 1448.5,1874.4 1449.5,1874.4 1450.5,1874.4 1451.5,1874.4 1452.5,1874.4 1453.5,1874.4 1454.5,1874.4 1455.5,1874.4 1456.5,1874.4 1457.5,1874.4 1458.5,1874.4 1459.5,1874.4 1460.5,1874.4 1461.5,1874.4 1462.5,1874.4 1463.5,1874.4 1464.5,1874.4 1465.5,1874.4 1466.5,1874.4 1467.5,1874.4 1468.5,1874.4 1469.5,1874.4 1470.5,1874.4 1471.5,1874.4 1472.5,1874.4 1473.5,1874.4 1474.5,1874.4 1475.5,1874.4 1476.5,1874.4 1477.5,1874.4 1478.5,1874.4 1479.5,1874.4 1480.5,1874.4 1481.5,1874.4 1482.5,1874.4 1483.5,1874.4 1484.5,1874.4 1485.5,1874.4 1486.5,1874.4 1487.5,1874.4 1488.5,1874.4 1489.5,1874.4 1490.5,1874.4 1491.5,1874.4 1492.5,1874.4 1493.5,1874.4 1494.5,1874.4 1495.5,1874.4 1496.5,1874.4 1497.5,1874.4 1498.5,1874.4 1499.5,1874.4 1500.5,1874.4 1501.5,1874.4 1502.5,1874.4 1503.5,1874.4 1504.5,1874.4 1505.5,1874.4 1506.5,1874.4 1507.5,1874.4 1508.5,1874.4 1509.5,1874.4 1510.5,1874.4 1511.5,1874.4 1512.5,1874.4 1513.5,1874.4 1514.5,1874.4 1515.5,1874.4 1516.5,1874.4 1517.5,1874.3 1518.5,1874.3 1519.5,1874.3 1520.5,1874.3 1521.5,1874.3 1522.5,1874.3 1523.5,1874.3 1524.5,1874.3 1525.5,1874.3 1526.5,1874.3 1527.5,1874.3 1528.5,1874.3 1529.5,1874.3 1530.5,1874.2 1531.5,1874.2 1532.5,1874.2 1533.5,1874.2 1534.5,1874.2 1535.5,1874.2 1536.5,1874.1 1537.5,1874.1 1538.5,1874.1 1539.5,1874.1 1540.5,1874 1541.5,1874 1542.5,1874 1543.5,1873.9 1544.5,1873.9 1545.5,1873.8 1546.5,1873.8 1547.5,1873.7 1548.5,1873.6 1549.5,1873.5 1550.5,1873.4 1551.5,1873.3 1552.5,1873.2 1553.5,1873.1 1554.5,1873 1555.5,1872.8 1556.5,1872.6 1557.5,1872.4 1558.5,1872.2 1559.5,1871.9 1560.5,1871.6 1561.5,1871.3 1562.5,1870.9 1563.5,1870.5 1564.5,1870.1 1565.5,1869.6 1566.5,1869 1567.5,1868.4 1568.5,1867.7 1569.5,1867 1570.5,1866.1 1571.5,1865.2 1572.5,1864.2 1573.5,1863 1574.5,1861.8 1575.5,1860.4 1576.5,1858.9 1577.5,1857.2 1578.5,1855.4 1579.5,1853.4 1580.5,1851.3 1581.5,1848.9 1582.5,1846.4 1583.5,1843.6 1584.5,1840.6 1585.5,1837.4 1586.5,1833.9 1587.5,1830.2 1588.5,1826.1 1589.5,1821.8 1590.5,1817.2 1591.5,1812.3 1592.5,1807.1 1593.5,1801.6 1594.5,1795.7 1595.5,1789.5 1596.5,1783 1597.5,1776.1 1598.5,1768.9 1599.5,1761.4 1600.5,1753.5 1601.5,1745.2 1602.5,1736.7 1603.5,1727.8 1604.5,1718.7 1605.5,1709.2 1606.5,1699.5 1607.5,1689.5 1608.5,1679.3 1609.5,1668.8 1610.5,1658.2 1611.5,1647.5 1612.5,1636.6 1613.5,1625.7 1614.5,1614.7 1615.5,1603.7 1616.5,1592.7 1617.5,1581.8 1618.5,1571 1619.5,1560.4 1620.5,1550 1621.5,1539.8 1622.5,1529.9 1623.5,1520.4 1624.5,1511.2 1625.5,1502.5 1626.5,1494.2 1627.5,1486.4 1628.5,1479.2 1629.5,1472.6 1630.5,1466.6 1631.5,1461.2 1632.5,1456.6 1633.5,1452.6 1634.5,1449.3 1635.5,1446.8 1636.5,1445 1637.5,1444 1638.5,1443.8 1639.5,1444.4 1640.5,1445.7 1641.5,1447.7 1642.5,1450.5 1643.5,1454.1 1644.5,1458.4 1645.5,1463.3 1646.5,1469 1647.5,1475.2 1648.5,1482.1 1649.5,1489.5 1650.5,1497.5 1651.5,1506 1652.5,1514.9 1653.5,1524.2 1654.5,1533.9 1655.5,1543.9 1656.5,1554.2 1657.5,1564.7 1658.5,1575.4 1659.5,1586.3 1660.5,1597.2 1661.5,1608.2 1662.5,1619.3 1663.5,1630.3 1664.5,1641.2 1665.5,1652 1666.5,1662.7 1667.5,1673.3 1668.5,1683.6 1669.5,1693.8 1670.5,1703.7 1671.5,1713.3 1672.5,1722.7 1673.5,1731.7 1674.5,1740.5 1675.5,1748.9 1676.5,1757 1677.5,1764.8 1678.5,1772.2 1679.5,1779.3 1680.5,1786 1681.5,1792.4 1682.5,1798.5 1683.5,1804.2 1684.5,1809.7 1685.5,1814.7 1686.5,1819.5 1687.5,1824 1688.5,1828.2 1689.5,1832.1 1690.5,1835.7 1691.5,1839.1 1692.5,1842.2 1693.5,1845.1 1694.5,1847.8 1695.5,1850.3 1696.5,1852.5 1697.5,1854.6 1698.5,1856.5 1699.5,1858.3 1700.5,1859.9 1701.5,1861.3 1702.5,1862.7 1703.5,1863.9 1704.5,1864.9 1705.5,1865.9 1706.5,1866.8 1707.5,1867.6 1708.5,1868.3 1709.5,1869 1710.5,1869.6 1711.5,1870.1 1712.5,1870.6 1713.5,1871 1714.5,1871.4 1715.5,1871.7 1716.5,1872 1717.5,1872.3 1718.5,1872.5 1719.5,1872.7 1720.5,1872.9 1721.5,1873.1 1722.5,1873.2 1723.5,1873.3 1724.5,1873.5 1725.5,1873.6 1726.5,1873.7 1727.5,1873.7 1728.5,1873.8 1729.5,1873.9 1730.5,1873.9 1731.5,1874 1732.5,1874 1733.5,1874.1 1734.5,1874.1 1735.5,1874.1 1736.5,1874.2 1737.5,1874.2 1738.5,1874.2 1739.5,1874.2 1740.5,1874.2 1741.5,1874.3 1742.5,1874.3 1743.5,1874.3 1744.5,1874.3 1745.5,1874.3 1746.5,1874.3 1747.5,1874.3 1748.5,1874.3 1749.5,1874.3 1750.5,1874.3 1751.5,1874.3 1752.5,1874.4 1753.5,1874.4 1754.5,1874.4 1755.5,1874.4 1756.5,1874.4 1757.5,1874.4 1758.5,1874.4 1759.5,1874.4 1760.5,1874.4 1761.5,1874.4 1762.5,1874.4 1763.5,1874.4 1764.5,1874.4 1765.5,1874.4 1766.5,1874.4 1767.5,1874.4 1768.5,1874.4 1769.5,1874.4 1770.5,1874.4 1771.5,1874.4 1772.5,1874.4 1773.5,1874.4 1774.5,1874.4 1775.5,1874.4 1776.5,1874.4 1777.5,1874.4 1778.5,1874.4 1779.5,1874.4 1780.5,1874.4 1781.5,1874.4 1782.5,1874.4 1783.5,1874.4 1784.5,1874.4 1785.5,1874.4 1786.5,1874.4 1787.5,1874.4 1788.5,1874.4 1789.5,1874.4 1790.5,1874.4 1791.5,1874.4 1792.5,1874.4 1793.5,1874.4 1794.5,1874.4 1795.5,1874.4 1796.5,1874.4 1797.5,1874.4 1798.5,1874.4 1799.5,1874.4 1800.5,1874.4 1801.5,1874.4 1802.5,1874.4 1803.5,1874.4 1804.5,1874.4 1805.5,1874.4 1806.5,1874.4 1807.5,1874.4 1808.5,1874.4 1809.5,1874.4 1810.5,1874.4 1811.5,1874.4 1812.5,1874.4 1813.5,1874.4 1814.5,1874.4 1815.5,1874.4 1816.5,1874.4 1817.5,1874.4 1818.5,1874.4 1819.5,1874.4 1820.5,1874.4 1821.5,1874.4 1822.5,1874.4 1823.5,1874.4 1824.5,1874.4 1825.5,1874.4 1826.5,1874.4 1827.5,1874.4 1828.5,1874.4 1829.5,1874.4 1830.5,1874.4 1831.5,1874.4 1832.5,1874.4 1833.5,1874.4 1834.5,1874.4 1835.5,1874.4 1836.5,1874.4 1837.5,1874.4 1838.5,1874.4 1839.5,1874.4 1840.5,1874.4 1841.5,1874.4 1842.5,1874.4 1843.5,1874.4 1844.5,1874.4 1845.5,1874.4 1846.5,1874.4 1847.5,1874.4 1848.5,1874.4 1849.5,1874.4 1850.5,1874.4 1851.5,1874.4 1852.5,1874.4 1853.5,1874.4 1854.5,1874.4 1855.5,1874.4 1856.5,1874.4 1857.5,1874.4 1858.5,1874.4 1859.5,1874.4 1860.5,1874.4 1861.5,1874.4 1862.5,1874.4 1863.5,1874.4 1864.5,1874.4 1865.5,1874.4 1866.5,1874.4 1867.5,1874.4 1868.5,1874.4 1869.5,1874.4 1870.5,1874.4 1871.5,1874.4 1872.5,1874.4 1873.5,1874.4 1874.5,1874.4 1875.5,1874.4 1876.5,1874.4 1877.5,1874.4 1878.5,1874.4 1879.5,1874.4 1880.5,1874.4 1881.5,1874.4 1882.5,1874.4 1883.5,1874.4 1884.5,1874.4 1885.5,1874.4 1886.5,1874.4 1887.5,1874.4 1888.5,1874.4 1889.5,1874.4 1890.5,1874.4 1891.5,1874.4 1892.5,1874.4 1893.5,1874.4 1894.5,1874.4 1895.5,1874.4 1896.5,1874.4 1897.5,1874.4 1898.5,1874.4 1899.5,1874.4 1900.5,1874.4 1901.5,1874.4 1902.5,1874.4 1903.5,1874.4 1904.5,1874.4 1905.5,1874.4 1906.5,1874.4 1907.5,1874.4 1908.5,1874.4 1909.5,1874.4 1910.5,1874.4 1911.5,1874.4 1912.5,1874.4 1913.5,1874.4 1914.5,1874.4 1915.5,1874.4 1916.5,1874.4 1917.5,1874.4 1918.5,1874.4 1919.5,1874.4 1920.5,1874.4 1921.5,1874.4 1922.5,1874.4 1923.5,1874.4 1924.5,1874.4 1925.5,1874.4 1926.5,1874.4 1927.5,1874.4 1928.5,1874.4 1929.5,1874.4 1930.5,1874.4 1931.5,1874.4 1932.5,1874.4 1933.5,1874.4 1934.5,1874.4 1935.5,1874.4 1936.5,1874.4 1937.5,1874.4 1938.5,1874.4 1939.5,1874.4 1940.5,1874.4 1941.5,1874.4 1942.5,1874.4" fill="none" stroke="#ee0000" stroke-width="4.6" stroke-linejoin="round" stroke-linecap="round" />
<polyline points="1646,302 1646.4,306.4 1646.8,298.7 1647.2,305.3 1647.6,297.3 1648,304.6 1648.4,296.9 1648.8,303.9 1649.2,297.2 1649.6,303.1 1650,297.4 1650.4,302.7 1650.8,297.3 1651.2,303.7 1651.6,297.4 1652,305.5 1652.4,299.7 1652.8,308.6 1653.2,301.2 1653.6,309.3 1654,304.1 1654.4,313.7 1654.8,308 1655.2,316.3 1655.6,310.4 1656,319.5 1656.4,313.9 1656.8,322.2 1657.2,315.3 1657.6,322.8 1658,315.1 1658.4,321.7 1658.8,315.1 1659.2,322.7 1659.6,314.7 1660,322.8 1660.4,315.8 1660.8,322.4 1661.2,316.3 1661.6,324.2 1662,320.1 1662.4,330.3 1662.8,324.9 1663.2,333.6 1663.6,329.7 1664,336.9 1664.4,330.4 1664.8,337.8 1665.2,330.3 1665.6,339.7 1666,332.5 1666.4,340.9 1666.8,334.1 1667.2,342.3 1667.6,335.7 1668,343.7 1668.4,339.1 1668.8,347.6" fill="none" stroke="#e80000" stroke-width="1.3" stroke-linejoin="round" stroke-linecap="round" />
<polyline points="1617,299 1617.4,309.9 1617.8,298.3 1618.2,309.5 1618.6,297.6 1619,308.9 1619.4,298.6 1619.8,309.2 1620.2,298.2 1620.6,307.2 1621,296.2 1621.4,307.9 1621.8,296.3 1622.2,307.7 1622.6,298.6 1623,309.6 1623.4,298.7 1623.8,308.7 1624.2,296.9 1624.6,307.1 1625,297.2 1625.4,309.4 1625.8,297 1626.2,307.3 1626.6,299 1627,308.6 1627.4,297.5 1627.8,308.2" fill="none" stroke="#e80000" stroke-width="1.3" stroke-linejoin="round" stroke-linecap="round" />
<polyline points="1680,350.5 1680.4,379 1680.8,350.4 1681.2,376.1 1681.6,349.2 1682,377.7 1682.4,350.9 1682.8,377.8 1683.2,349.1 1683.6,376.4 1684,349.4 1684.4,377.1 1684.8,348.9 1685.2,377 1685.6,349.1 1686,376.6 1686.4,349.5 1686.8,376.2 1687.2,349.6 1687.6,376.4" fill="none" stroke="#e80000" stroke-width="1.3" stroke-linejoin="round" stroke-linecap="round" />
<polyline points="1687,329.3 1687.4,347 1687.8,328.8 1688.2,347.2 1688.6,330 1689,348.4 1689.4,329.6 1689.8,346.2 1690.2,328.6 1690.6,347.5 1691,330.5 1691.4,347.7 1691.8,328.1 1692.2,347.4 1692.6,329.4 1693,346.2 1693.4,330 1693.8,346.7 1694.2,329.1 1694.6,346.3 1695,330.5 1695.4,348.7 1695.8,330" fill="none" stroke="#e80000" stroke-width="1.3" stroke-linejoin="round" stroke-linecap="round" />
<polyline points="1711.5,338.7 1711.9,356 1712.3,338.9 1712.7,357.2 1713.1,337.8 1713.5,356.4 1713.9,336.9 1714.3,355.7 1714.7,337.3 1715.1,356.1 1715.5,338.3 1715.9,355.8 1716.3,336.3 1716.7,357.8 1717.1,338.5 1717.5,356 1717.9,336.4 1718.3,357.6 1718.7,337.5 1719.1,357.5 1719.5,338.8 1719.9,357.3 1720.3,338.8 1720.7,355.9 1721.1,337.7 1721.5,356 1721.9,338.1 1722.3,357.1" fill="none" stroke="#e80000" stroke-width="1.3" stroke-linejoin="round" stroke-linecap="round" />
<polyline points="1729,286.5 1729.4,299.8 1729.8,285.1 1730.2,297.2 1730.6,287.6 1731,297.7 1731.4,285.3 1731.8,298.1 1732.2,287.1 1732.6,298.7 1733,286.1 1733.4,297.8 1733.8,285 1734.2,298.6 1734.6,285.8 1735,298.7 1735.4,286.7 1735.8,298.7 1736.2,287.6 1736.6,297.4 1737,287.3 1737.4,297.6 1737.8,286.5 1738.2,299.2 1738.6,287.4" fill="none" stroke="#e80000" stroke-width="1.3" stroke-linejoin="round" stroke-linecap="round" />
<polyline points="1760,271.3 1760.4,280.2 1760.8,272.9 1761.2,281.7 1761.6,271.6 1762,280 1762.4,273.6 1762.8,280.8 1763.2,272.6 1763.6,279.9 1764,272.7 1764.4,280.6 1764.8,272.9 1765.2,279.9 1765.6,273.4 1766,280.3 1766.4,273 1766.8,281.4 1767.2,271.5 1767.6,279.6 1768,271.7 1768.4,280.7 1768.8,273.7 1769.2,281.6 1769.6,273 1770,281.3 1770.4,272.9 1770.8,279.6 1771.2,273.5 1771.6,279.7 1772,272.6 1772.4,280.4 1772.8,271.5 1773.2,281.6 1773.6,273.2" fill="none" stroke="#e80000" stroke-width="1.3" stroke-linejoin="round" stroke-linecap="round" />
<polyline points="1842.8,272.2 1843.2,329.2 1843.6,272.6 1844,329.8 1844.4,273.3 1844.8,330.2 1845.2,274.3 1845.6,331.1 1846,274.5" fill="none" stroke="#e80000" stroke-width="1.3" stroke-linejoin="round" stroke-linecap="round" />
<polyline points="1853,284.3 1853.4,289.3 1853.8,283.7 1854.2,289.8 1854.6,284.9 1855,289.8 1855.4,282.7 1855.8,289.3 1856.2,284.8 1856.6,288.2 1857,283.7 1857.4,289.8 1857.8,284.2 1858.2,289.3 1858.6,284.5 1859,288.5 1859.4,284.1 1859.8,288.1 1860.2,283.9 1860.6,288.1 1861,284 1861.4,290.3 1861.8,283.9 1862.2,288.7 1862.6,283.3 1863,290.5 1863.4,283.1 1863.8,288.7" fill="none" stroke="#e80000" stroke-width="1.3" stroke-linejoin="round" stroke-linecap="round" />
<polyline points="1632.5,340.6 1632.9,410 1633.3,342.6 1633.7,407.1 1634.1,342.6 1634.5,407.6 1634.9,342.2 1635.3,408.3 1635.7,342 1636.1,407.8" fill="none" stroke="#e80000" stroke-width="1.3" stroke-linejoin="round" stroke-linecap="round" />
<polyline points="1603.5,471 1603.9,507.4 1604.3,472.1 1604.7,506.2 1605.1,473 1605.5,506.8 1605.9,471.2 1606.3,507.6 1606.7,470 1607.1,507.6 1607.5,471.8 1607.9,505.1 1608.3,470.3" fill="none" stroke="#e80000" stroke-width="1.3" stroke-linejoin="round" stroke-linecap="round" />
<polyline points="1513.5,540.5 1513.9,590 1514.3,540.9 1514.7,591.9 1515.1,542.7 1515.5,591.6 1515.9,541.3 1516.3,589.7 1516.7,542.3 1517.1,589.1 1517.5,541.8 1517.9,591.6 1518.3,540.2 1518.7,590.1 1519.1,541.6 1519.5,591.3 1519.9,540.5 1520.3,590.9" fill="none" stroke="#e80000" stroke-width="1.3" stroke-linejoin="round" stroke-linecap="round" />
<text transform="translate(34.76,1008.15)" textLength="47.16" lengthAdjust="spacingAndGlyphs" font-family="'DejaVu Sans', Verdana, sans-serif" font-size="27" font-weight="normal" fill="#333" >180</text>
<text transform="translate(140.32,1008.15)" textLength="47.16" lengthAdjust="spacingAndGlyphs" font-family="'DejaVu Sans', Verdana, sans-serif" font-size="27" font-weight="normal" fill="#333" >170</text>
<text transform="translate(245.88,1008.15)" textLength="47.16" lengthAdjust="spacingAndGlyphs" font-family="'DejaVu Sans', Verdana, sans-serif" font-size="27" font-weight="normal" fill="#333" >160</text>
<text transform="translate(351.44,1008.15)" textLength="47.16" lengthAdjust="spacingAndGlyphs" font-family="'DejaVu Sans', Verdana, sans-serif" font-size="27" font-weight="normal" fill="#333" >150</text>
<text transform="translate(457.00,1008.15)" textLength="47.16" lengthAdjust="spacingAndGlyphs" font-family="'DejaVu Sans', Verdana, sans-serif" font-size="27" font-weight="normal" fill="#333" >140</text>
<text transform="translate(562.56,1008.15)" textLength="47.16" lengthAdjust="spacingAndGlyphs" font-family="'DejaVu Sans', Verdana, sans-serif" font-size="27" font-weight="normal" fill="#333" >130</text>
<text transform="translate(668.12,1008.15)" textLength="47.16" lengthAdjust="spacingAndGlyphs" font-family="'DejaVu Sans', Verdana, sans-serif" font-size="27" font-weight="normal" fill="#333" >120</text>
<text transform="translate(427.12,801.00)" textLength="39.70" lengthAdjust="spacingAndGlyphs" font-family="Carlito, 'Liberation Sans', sans-serif" font-size="38" font-weight="normal" fill="#222" >C-4</text>
<text transform="translate(608.52,807.35)" textLength="39.88" lengthAdjust="spacingAndGlyphs" font-family="Carlito, 'Liberation Sans', sans-serif" font-size="38" font-weight="normal" fill="#222" >C-3</text>
<text transform="translate(318.33,1095.15)" textLength="83.12" lengthAdjust="spacingAndGlyphs" font-family="Carlito, 'Liberation Sans', sans-serif" font-size="55" font-weight="normal" fill="#111" >ppm</text>
<text transform="translate(26.78,120.90)" textLength="37.77" lengthAdjust="spacingAndGlyphs" font-family="Carlito, 'Liberation Sans', sans-serif" font-size="51" font-weight="bold" fill="#000" >b)</text>
<text transform="translate(714.18,118.65)" textLength="30.35" lengthAdjust="spacingAndGlyphs" font-family="Carlito, 'Liberation Sans', sans-serif" font-size="51" font-weight="bold" fill="#000" >c)</text>
<text transform="translate(883.35,1024.70)" textLength="78.21" lengthAdjust="spacingAndGlyphs" font-family="Carlito, 'Liberation Sans', sans-serif" font-size="44" font-weight="normal" fill="#1a1a1a" >3600</text>
<text transform="translate(1043.35,1023.70)" textLength="78.21" lengthAdjust="spacingAndGlyphs" font-family="Carlito, 'Liberation Sans', sans-serif" font-size="44" font-weight="normal" fill="#1a1a1a" >3100</text>
<text transform="translate(1202.85,1024.70)" textLength="78.21" lengthAdjust="spacingAndGlyphs" font-family="Carlito, 'Liberation Sans', sans-serif" font-size="44" font-weight="normal" fill="#1a1a1a" >2600</text>
<text transform="translate(1363.85,1023.70)" textLength="78.21" lengthAdjust="spacingAndGlyphs" font-family="Carlito, 'Liberation Sans', sans-serif" font-size="44" font-weight="normal" fill="#1a1a1a" >2100</text>
<text transform="translate(1522.01,1024.70)" textLength="80.07" lengthAdjust="spacingAndGlyphs" font-family="Carlito, 'Liberation Sans', sans-serif" font-size="44" font-weight="normal" fill="#1a1a1a" >1600</text>
<text transform="translate(1682.01,1023.70)" textLength="80.07" lengthAdjust="spacingAndGlyphs" font-family="Carlito, 'Liberation Sans', sans-serif" font-size="44" font-weight="normal" fill="#1a1a1a" >1100</text>
<text transform="translate(1854.74,1024.70)" textLength="58.75" lengthAdjust="spacingAndGlyphs" font-family="Carlito, 'Liberation Sans', sans-serif" font-size="44" font-weight="normal" fill="#1a1a1a" >600</text>
<text transform="translate(1155.66,1104.10)" textLength="365.37" lengthAdjust="spacingAndGlyphs" font-family="Carlito, 'Liberation Sans', sans-serif" font-size="55" font-weight="normal" fill="#111" >wavenumber (cm<tspan font-size="35" dy="-17">-1</tspan><tspan dy="17">)</tspan></text>
<text transform="translate(1367.69,212.50)" textLength="73.42" lengthAdjust="spacingAndGlyphs" font-family="Carlito, 'Liberation Sans', sans-serif" font-size="44" font-weight="normal" fill="#111" >N<tspan font-size="29" dy="8.5">3</tspan><tspan dy="-8.5"> st</tspan></text>
<text transform="translate(1361.27,334.85)" textLength="93.45" lengthAdjust="spacingAndGlyphs" font-family="Carlito, 'Liberation Sans', sans-serif" font-size="45" font-weight="normal" fill="#111" >C≡C st</text>
<text transform="translate(971.51,378.65)" textLength="110.57" lengthAdjust="spacingAndGlyphs" font-family="Carlito, 'Liberation Sans', sans-serif" font-size="45" font-weight="normal" fill="#111" >≡C-H st</text>
<text transform="translate(50.17,1337.60)" textLength="36.05" lengthAdjust="spacingAndGlyphs" font-family="Carlito, 'Liberation Sans', sans-serif" font-size="51" font-weight="bold" fill="#000" >d)</text>
<text transform="translate(692.44,1338.65)" textLength="108.73" lengthAdjust="spacingAndGlyphs" font-family="Carlito, 'Liberation Sans', sans-serif" font-size="42" font-weight="normal" fill="#111" >3248.6</text>
<text transform="translate(506.87,2043.40)" textLength="72.31" lengthAdjust="spacingAndGlyphs" font-family="Carlito, 'Liberation Sans', sans-serif" font-size="55" font-weight="normal" fill="#111" >m/z</text>
<g clip-path="url(#clipI)"><text transform="translate(50.40,1678.75) rotate(-90)" textLength="192.18" lengthAdjust="spacingAndGlyphs" font-family="'DejaVu Sans', Verdana, sans-serif" font-size="38" font-weight="normal" fill="#111" >Intensity</text></g>
<text transform="translate(82.96,1956.40)" textLength="37.06" lengthAdjust="spacingAndGlyphs" font-family="'Liberation Sans', Arial, sans-serif" font-size="16" font-weight="normal" fill="#555" >1000</text>
<text transform="translate(224.76,1956.40)" textLength="37.06" lengthAdjust="spacingAndGlyphs" font-family="'Liberation Sans', Arial, sans-serif" font-size="16" font-weight="normal" fill="#555" >1500</text>
<text transform="translate(364.86,1956.40)" textLength="37.06" lengthAdjust="spacingAndGlyphs" font-family="'Liberation Sans', Arial, sans-serif" font-size="16" font-weight="normal" fill="#555" >2000</text>
<text transform="translate(505.16,1956.40)" textLength="37.06" lengthAdjust="spacingAndGlyphs" font-family="'Liberation Sans', Arial, sans-serif" font-size="16" font-weight="normal" fill="#555" >2500</text>
<text transform="translate(647.26,1956.40)" textLength="37.06" lengthAdjust="spacingAndGlyphs" font-family="'Liberation Sans', Arial, sans-serif" font-size="16" font-weight="normal" fill="#555" >3000</text>
<text transform="translate(785.76,1956.40)" textLength="37.06" lengthAdjust="spacingAndGlyphs" font-family="'Liberation Sans', Arial, sans-serif" font-size="16" font-weight="normal" fill="#555" >3500</text>
<text transform="translate(913.74,1956.90)" textLength="27.39" lengthAdjust="spacingAndGlyphs" font-family="'Liberation Sans', Arial, sans-serif" font-size="16" font-weight="normal" fill="#555" font-style="italic">m/z</text>
<text transform="translate(1003.14,1335.25)" textLength="36.51" lengthAdjust="spacingAndGlyphs" font-family="Carlito, 'Liberation Sans', sans-serif" font-size="51" font-weight="bold" fill="#000" >e)</text>
<text transform="translate(1202.51,1887.00)" textLength="48.38" lengthAdjust="spacingAndGlyphs" font-family="Carlito, 'Liberation Sans', sans-serif" font-size="43" font-weight="normal" fill="#111" >0.0</text>
<text transform="translate(1202.51,1800.88)" textLength="48.38" lengthAdjust="spacingAndGlyphs" font-family="Carlito, 'Liberation Sans', sans-serif" font-size="43" font-weight="normal" fill="#111" >0.2</text>
<text transform="translate(1202.53,1714.76)" textLength="47.47" lengthAdjust="spacingAndGlyphs" font-family="Carlito, 'Liberation Sans', sans-serif" font-size="43" font-weight="normal" fill="#111" >0.4</text>
<text transform="translate(1202.51,1629.64)" textLength="48.38" lengthAdjust="spacingAndGlyphs" font-family="Carlito, 'Liberation Sans', sans-serif" font-size="43" font-weight="normal" fill="#111" >0.6</text>
<text transform="translate(1202.51,1543.52)" textLength="48.38" lengthAdjust="spacingAndGlyphs" font-family="Carlito, 'Liberation Sans', sans-serif" font-size="43" font-weight="normal" fill="#111" >0.8</text>
<text transform="translate(1202.33,1456.40)" textLength="48.56" lengthAdjust="spacingAndGlyphs" font-family="Carlito, 'Liberation Sans', sans-serif" font-size="43" font-weight="normal" fill="#111" >1.0</text>
<text transform="translate(1202.33,1370.28)" textLength="48.56" lengthAdjust="spacingAndGlyphs" font-family="Carlito, 'Liberation Sans', sans-serif" font-size="43" font-weight="normal" fill="#111" >1.2</text>
<text transform="translate(1266.11,1947.30)" textLength="40.18" lengthAdjust="spacingAndGlyphs" font-family="Carlito, 'Liberation Sans', sans-serif" font-size="43" font-weight="normal" fill="#111" >15</text>
<text transform="translate(1485.51,1948.30)" textLength="39.12" lengthAdjust="spacingAndGlyphs" font-family="Carlito, 'Liberation Sans', sans-serif" font-size="43" font-weight="normal" fill="#111" >16</text>
<text transform="translate(1704.81,1947.30)" textLength="39.12" lengthAdjust="spacingAndGlyphs" font-family="Carlito, 'Liberation Sans', sans-serif" font-size="43" font-weight="normal" fill="#111" >17</text>
<text transform="translate(1924.11,1948.30)" textLength="39.12" lengthAdjust="spacingAndGlyphs" font-family="Carlito, 'Liberation Sans', sans-serif" font-size="43" font-weight="normal" fill="#111" >18</text>
<text transform="translate(1426.60,2029.45)" textLength="378.40" lengthAdjust="spacingAndGlyphs" font-family="Carlito, 'Liberation Sans', sans-serif" font-size="55" font-weight="normal" fill="#111" >retention time (min)</text>
<text transform="translate(1123.40,1851.80) rotate(-90)" textLength="473.25" lengthAdjust="spacingAndGlyphs" font-family="Carlito, 'Liberation Sans', sans-serif" font-size="46" font-weight="normal" fill="#111" >intensity (normalized</text>
<text transform="translate(1178.30,1690.94) rotate(-90)" textLength="147.71" lengthAdjust="spacingAndGlyphs" font-family="Carlito, 'Liberation Sans', sans-serif" font-size="46" font-weight="normal" fill="#111" >signal)</text>
</svg>
</body></html>
